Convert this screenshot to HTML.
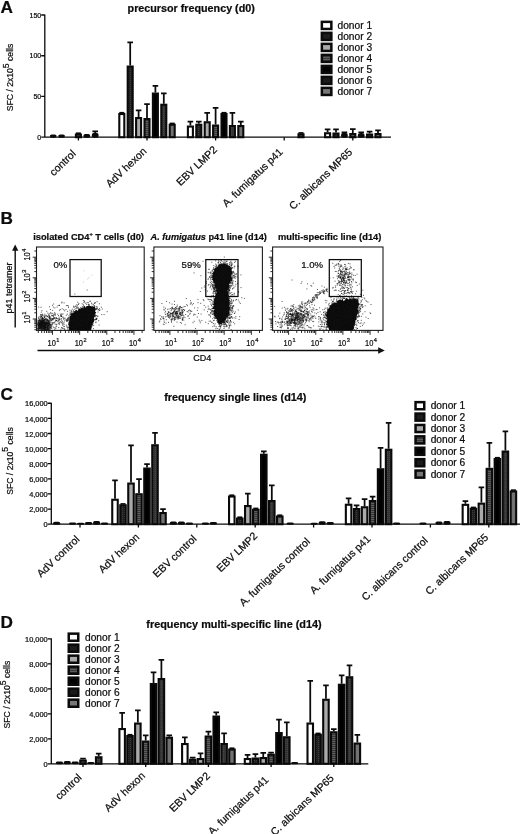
<!DOCTYPE html>
<html lang="en"><head><meta charset="utf-8"><title>Figure</title>
<style>html,body{margin:0;padding:0;background:#fff}svg{display:block}text{font-family:"Liberation Sans", Arial, Helvetica, sans-serif;fill:#0c0c0c;stroke:#0c0c0c;stroke-width:0.22px}.b{font-weight:bold}</style></head><body>
<svg width="520" height="834" viewBox="0 0 520 834">
<defs><pattern id="p2" width="2" height="2" patternUnits="userSpaceOnUse"><rect width="2" height="2" fill="#202020"/><rect width="1" height="1" fill="#3c3c3c"/></pattern><pattern id="p4" width="2" height="2" patternUnits="userSpaceOnUse"><rect width="2" height="2" fill="#5e5e5e"/><rect width="2" height="1" fill="#383838"/></pattern><pattern id="p6" width="2" height="2" patternUnits="userSpaceOnUse"><rect width="2" height="2" fill="#333"/><rect x="1" y="1" width="1" height="1" fill="#484848"/></pattern></defs>
<rect width="520" height="834" fill="#fff"/>
<g id="panelA">
<text class="b" x="0.6" y="12.6" font-size="17.2">A</text>
<text class="b" x="191.2" y="11.9" text-anchor="middle" font-size="10.75">precursor frequency (d0)</text>
<path d="M44.80 14.50V137.20H391.00M41.20 14.99H44.80M41.20 55.73H44.80M41.20 96.46H44.80M41.20 137.20H44.80" stroke="#0a0a0a" stroke-width="1.3" fill="none"/><text x="41.20" y="17.74" text-anchor="end" font-size="6.95">150</text><text x="41.20" y="58.48" text-anchor="end" font-size="6.95">100</text><text x="41.20" y="99.21" text-anchor="end" font-size="6.95">50</text><text x="41.20" y="139.95" text-anchor="end" font-size="6.95">0</text>
<path d="M78.40 137.20v3.2M147.00 137.20v3.2M215.60 137.20v3.2M284.20 137.20v3.2M352.80 137.20v3.2" stroke="#0a0a0a" stroke-width="1.3" fill="none"/>
<text transform="translate(13.20 111.30) rotate(-90)" font-size="8.65">SFC / 2x10<tspan dy="-4.6">5</tspan><tspan dy="4.6"> cells</tspan></text>
<rect x="49.85" y="134.50" width="6.70" height="3.20" rx="1.8" fill="#0a0a0a"/><rect x="58.25" y="134.50" width="6.70" height="3.20" rx="1.8" fill="#0a0a0a"/><path d="M75.90 133.20h5" stroke="#0a0a0a" stroke-width="1.6" fill="none"/><rect x="75.90" y="134.55" width="5.00" height="2.65" fill="url(#p4)" stroke="#0a0a0a" stroke-width="2.1"/><rect x="83.45" y="133.90" width="6.70" height="3.80" rx="1.8" fill="#0a0a0a"/><path d="M95.20 133.60V131.30M92.40 131.30h5.6" stroke="#0a0a0a" stroke-width="1.75" fill="none"/><rect x="91.85" y="132.90" width="6.70" height="4.80" rx="1.8" fill="#0a0a0a"/>
<path d="M119.30 112.70h5" stroke="#0a0a0a" stroke-width="1.6" fill="none"/><rect x="119.30" y="114.05" width="5.00" height="23.15" fill="#ffffff" stroke="#0a0a0a" stroke-width="2.1"/><path d="M130.20 65.50V42.30M127.40 42.30h5.6" stroke="#0a0a0a" stroke-width="1.75" fill="none"/><rect x="127.70" y="66.55" width="5.00" height="70.65" fill="url(#p2)" stroke="#0a0a0a" stroke-width="2.1"/><path d="M138.60 117.00V110.30M135.80 110.30h5.6" stroke="#0a0a0a" stroke-width="1.75" fill="none"/><rect x="136.10" y="118.05" width="5.00" height="19.15" fill="#aaaaaa" stroke="#0a0a0a" stroke-width="2.1"/><path d="M147.00 118.00V104.00M144.20 104.00h5.6" stroke="#0a0a0a" stroke-width="1.75" fill="none"/><rect x="144.50" y="119.05" width="5.00" height="18.15" fill="url(#p4)" stroke="#0a0a0a" stroke-width="2.1"/><path d="M155.40 92.50V85.80M152.60 85.80h5.6" stroke="#0a0a0a" stroke-width="1.75" fill="none"/><rect x="152.90" y="93.55" width="5.00" height="43.65" fill="#000000" stroke="#0a0a0a" stroke-width="2.1"/><path d="M163.80 103.70V93.30M161.00 93.30h5.6" stroke="#0a0a0a" stroke-width="1.75" fill="none"/><rect x="161.30" y="104.75" width="5.00" height="32.45" fill="url(#p6)" stroke="#0a0a0a" stroke-width="2.1"/><path d="M169.70 123.40h5" stroke="#0a0a0a" stroke-width="1.6" fill="none"/><rect x="169.70" y="124.75" width="5.00" height="12.45" fill="#727272" stroke="#0a0a0a" stroke-width="2.1"/>
<path d="M190.40 125.50V121.50M187.60 121.50h5.6" stroke="#0a0a0a" stroke-width="1.75" fill="none"/><rect x="187.90" y="126.55" width="5.00" height="10.65" fill="#ffffff" stroke="#0a0a0a" stroke-width="2.1"/><path d="M198.80 123.70V121.50M196.00 121.50h5.6" stroke="#0a0a0a" stroke-width="1.75" fill="none"/><rect x="196.30" y="124.75" width="5.00" height="12.45" fill="url(#p2)" stroke="#0a0a0a" stroke-width="2.1"/><path d="M207.20 121.20V112.80M204.40 112.80h5.6" stroke="#0a0a0a" stroke-width="1.75" fill="none"/><rect x="204.70" y="122.25" width="5.00" height="14.95" fill="#aaaaaa" stroke="#0a0a0a" stroke-width="2.1"/><path d="M215.60 124.50V107.80M212.80 107.80h5.6" stroke="#0a0a0a" stroke-width="1.75" fill="none"/><rect x="213.10" y="125.55" width="5.00" height="11.65" fill="url(#p4)" stroke="#0a0a0a" stroke-width="2.1"/><path d="M221.50 112.70h5" stroke="#0a0a0a" stroke-width="1.6" fill="none"/><rect x="221.50" y="114.05" width="5.00" height="23.15" fill="#000000" stroke="#0a0a0a" stroke-width="2.1"/><path d="M232.40 125.00V112.80M229.60 112.80h5.6" stroke="#0a0a0a" stroke-width="1.75" fill="none"/><rect x="229.90" y="126.05" width="5.00" height="11.15" fill="url(#p6)" stroke="#0a0a0a" stroke-width="2.1"/><path d="M240.80 125.00V121.50M238.00 121.50h5.6" stroke="#0a0a0a" stroke-width="1.75" fill="none"/><rect x="238.30" y="126.05" width="5.00" height="11.15" fill="#727272" stroke="#0a0a0a" stroke-width="2.1"/>
<path d="M298.50 132.90h5" stroke="#0a0a0a" stroke-width="1.6" fill="none"/><rect x="298.50" y="134.25" width="5.00" height="2.95" fill="url(#p6)" stroke="#0a0a0a" stroke-width="2.1"/>
<path d="M327.60 132.20V129.30M324.80 129.30h5.6" stroke="#0a0a0a" stroke-width="1.75" fill="none"/><rect x="325.10" y="133.25" width="5.00" height="3.95" fill="#ffffff" stroke="#0a0a0a" stroke-width="2.1"/><path d="M336.00 132.50V129.30M333.20 129.30h5.6" stroke="#0a0a0a" stroke-width="1.75" fill="none"/><rect x="333.50" y="133.55" width="5.00" height="3.65" fill="url(#p2)" stroke="#0a0a0a" stroke-width="2.1"/><path d="M344.40 133.60V132.30M341.60 132.30h5.6" stroke="#0a0a0a" stroke-width="1.75" fill="none"/><rect x="341.05" y="132.90" width="6.70" height="4.80" rx="1.8" fill="#0a0a0a"/><path d="M352.80 133.00V129.00M350.00 129.00h5.6" stroke="#0a0a0a" stroke-width="1.75" fill="none"/><rect x="350.30" y="134.05" width="5.00" height="3.15" fill="url(#p4)" stroke="#0a0a0a" stroke-width="2.1"/><path d="M361.20 134.00V132.30M358.40 132.30h5.6" stroke="#0a0a0a" stroke-width="1.75" fill="none"/><rect x="357.85" y="133.30" width="6.70" height="4.40" rx="1.8" fill="#0a0a0a"/><path d="M369.60 133.50V131.60M366.80 131.60h5.6" stroke="#0a0a0a" stroke-width="1.75" fill="none"/><rect x="367.10" y="134.55" width="5.00" height="2.65" fill="url(#p6)" stroke="#0a0a0a" stroke-width="2.1"/><path d="M378.00 133.00V130.30M375.20 130.30h5.6" stroke="#0a0a0a" stroke-width="1.75" fill="none"/><rect x="375.50" y="134.05" width="5.00" height="3.15" fill="#727272" stroke="#0a0a0a" stroke-width="2.1"/>
<rect x="321.85" y="21.85" width="9.50" height="7.10" fill="#ffffff" stroke="#0a0a0a" stroke-width="2.5"/><text x="337.50" y="28.90" font-size="10.2">donor 1</text><rect x="321.85" y="32.85" width="9.50" height="7.10" fill="#1c1c1c" stroke="#0a0a0a" stroke-width="2.5"/><text x="337.50" y="39.90" font-size="10.2">donor 2</text><rect x="321.85" y="43.85" width="9.50" height="7.10" fill="#aaaaaa" stroke="#0a0a0a" stroke-width="2.5"/><text x="337.50" y="50.90" font-size="10.2">donor 3</text><rect x="321.85" y="54.85" width="9.50" height="7.10" fill="url(#p4)" stroke="#0a0a0a" stroke-width="2.5"/><text x="337.50" y="61.90" font-size="10.2">donor 4</text><rect x="321.85" y="65.85" width="9.50" height="7.10" fill="#000000" stroke="#0a0a0a" stroke-width="2.5"/><text x="337.50" y="72.90" font-size="10.2">donor 5</text><rect x="321.85" y="76.85" width="9.50" height="7.10" fill="#1a1a1a" stroke="#0a0a0a" stroke-width="2.5"/><text x="337.50" y="83.90" font-size="10.2">donor 6</text><rect x="321.85" y="87.85" width="9.50" height="7.10" fill="#777777" stroke="#0a0a0a" stroke-width="2.5"/><text x="337.50" y="94.90" font-size="10.2">donor 7</text>
<text transform="translate(76.50 154.50) rotate(-43.8)" text-anchor="end" font-size="10.55">control</text>
<text transform="translate(147.25 152.05) rotate(-43.8)" text-anchor="end" font-size="10.55">AdV hexon</text>
<text transform="translate(217.80 150.45) rotate(-43.8)" text-anchor="end" font-size="10.55">EBV LMP2</text>
<text transform="translate(283.55 152.80) rotate(-43.8)" text-anchor="end" font-size="10.55">A. fumigatus p41</text>
<text transform="translate(352.95 152.95) rotate(-43.8)" text-anchor="end" font-size="10.55">C. albicans MP65</text>
</g>
<g id="panelB">
<text class="b" x="0.6" y="224.2" font-size="17.2">B</text>
<text class="b" x="33.2" y="239.9" font-size="9.3">isolated CD4<tspan dy="-3.8" font-size="5.6">+</tspan><tspan dy="3.8"> T cells (d0)</tspan></text>
<text class="b" x="150.6" y="239.9" font-size="9.3" textLength="116.3" lengthAdjust="spacingAndGlyphs"><tspan font-style="italic">A. fumigatus</tspan> p41 line (d14)</text>
<text class="b" x="278" y="239.9" font-size="9.3">multi-specific line (d14)</text>
<path d="M15.2 327.5V249" stroke="#0c0c0c" stroke-width="1.4" fill="none"/>
<path d="M15.2 244.4L12.1 250.8H18.3Z" fill="#111"/>
<path d="M37.5 350.5H379" stroke="#0c0c0c" stroke-width="1.5" fill="none"/>
<path d="M384.8 350.5L378.2 347.2V353.8Z" fill="#111"/>
<text transform="translate(11.8 313.6) rotate(-90)" font-size="9">p41 tetramer</text>
<text x="202.3" y="361.2" text-anchor="middle" font-size="9">CD4</text>
<rect x="36.5" y="247.0" width="107.69999999999999" height="83.39999999999998" fill="none" stroke="#1c1c1c" stroke-width="1.1"/><path d="M38.30 330.4v2.6M41.70 330.4v2.6M44.33 330.4v2.6M46.48 330.4v2.6M48.29 330.4v2.6M49.87 330.4v2.6M51.26 330.4v2.6M52.50 330.4v4.4M60.67 330.4v2.6M65.45 330.4v2.6M68.85 330.4v2.6M71.48 330.4v2.6M73.63 330.4v2.6M75.44 330.4v2.6M77.02 330.4v2.6M78.41 330.4v2.6M79.65 330.4v4.4M87.82 330.4v2.6M92.60 330.4v2.6M96.00 330.4v2.6M98.63 330.4v2.6M100.78 330.4v2.6M102.59 330.4v2.6M104.17 330.4v2.6M105.56 330.4v2.6M106.80 330.4v4.4M114.97 330.4v2.6M119.75 330.4v2.6M123.15 330.4v2.6M125.78 330.4v2.6M127.93 330.4v2.6M129.74 330.4v2.6M131.32 330.4v2.6M132.71 330.4v2.6M133.95 330.4v4.4M142.12 330.4v2.6M36.5 329.77h-2.2M36.5 327.20h-2.2M36.5 325.20h-2.2M36.5 323.57h-2.2M36.5 322.19h-2.2M36.5 321.00h-2.2M36.5 319.94h-2.2M36.5 319.00h-3.8M36.5 312.80h-2.2M36.5 309.17h-2.2M36.5 306.60h-2.2M36.5 304.60h-2.2M36.5 302.97h-2.2M36.5 301.59h-2.2M36.5 300.40h-2.2M36.5 299.34h-2.2M36.5 298.40h-3.8M36.5 292.20h-2.2M36.5 288.57h-2.2M36.5 286.00h-2.2M36.5 284.00h-2.2M36.5 282.37h-2.2M36.5 280.99h-2.2M36.5 279.80h-2.2M36.5 278.74h-2.2M36.5 277.80h-3.8M36.5 271.60h-2.2M36.5 267.97h-2.2M36.5 265.40h-2.2M36.5 263.40h-2.2M36.5 261.77h-2.2M36.5 260.39h-2.2M36.5 259.20h-2.2M36.5 258.14h-2.2M36.5 257.20h-3.8M36.5 251.00h-2.2" stroke="#141414" stroke-width="0.9" fill="none"/><text x="47.50" y="346.00" font-size="8.8" textLength="8.3" lengthAdjust="spacingAndGlyphs">10</text><text x="56.30" y="342.40" font-size="5.6">1</text><text x="74.65" y="346.00" font-size="8.8" textLength="8.3" lengthAdjust="spacingAndGlyphs">10</text><text x="83.45" y="342.40" font-size="5.6">2</text><text x="101.80" y="346.00" font-size="8.8" textLength="8.3" lengthAdjust="spacingAndGlyphs">10</text><text x="110.60" y="342.40" font-size="5.6">3</text><text x="128.95" y="346.00" font-size="8.8" textLength="8.3" lengthAdjust="spacingAndGlyphs">10</text><text x="137.75" y="342.40" font-size="5.6">4</text><g transform="translate(29.60 323.50) rotate(-90)"><text font-size="8.8" textLength="8.3" lengthAdjust="spacingAndGlyphs">10</text><text x="8.8" y="-3.6" font-size="5.6">1</text></g><g transform="translate(29.60 302.50) rotate(-90)"><text font-size="8.8" textLength="8.3" lengthAdjust="spacingAndGlyphs">10</text><text x="8.8" y="-3.6" font-size="5.6">2</text></g><g transform="translate(29.60 281.60) rotate(-90)"><text font-size="8.8" textLength="8.3" lengthAdjust="spacingAndGlyphs">10</text><text x="8.8" y="-3.6" font-size="5.6">3</text></g><g transform="translate(29.60 260.60) rotate(-90)"><text font-size="8.8" textLength="8.3" lengthAdjust="spacingAndGlyphs">10</text><text x="8.8" y="-3.6" font-size="5.6">4</text></g>
<path d="M69.2 330.2L69.1 329.4L68.6 328.1L68.9 326.1L69.4 326.4L68.4 325.0L69.0 323.9L68.5 322.2L69.2 322.1L69.3 320.2L70.3 320.1L69.5 320.1L69.9 317.2L70.0 315.7L71.3 315.9L70.9 315.9L71.0 314.8L71.3 313.3L72.4 313.6L74.6 311.8L75.0 311.3L75.8 310.5L75.6 309.3L77.7 311.0L78.6 308.9L80.5 308.7L80.5 308.5L81.4 307.9L81.7 308.1L83.5 308.2L84.3 306.3L85.5 308.0L86.4 306.3L87.1 306.1L88.7 305.9L90.8 306.3L91.1 307.1L93.0 306.1L93.4 307.1L94.1 306.3L95.6 308.3L95.5 308.3L95.2 309.6L95.2 311.7L96.2 312.4L95.5 313.4L95.0 314.0L94.4 315.0L95.8 316.5L94.2 316.7L93.7 318.2L94.1 318.3L93.9 319.9L94.1 321.3L93.9 322.1L92.5 323.6L93.0 324.8L91.4 325.7L91.9 326.5L91.2 328.9L91.1 328.6L91.0 330.2L90.0 330.2L88.9 330.2L87.9 330.2L86.8 330.2L85.8 330.2L84.8 330.2L83.7 330.2L82.7 330.2L81.7 330.2L80.6 330.2L79.6 330.2L78.5 330.2L77.5 330.2L76.5 330.2L75.4 330.2L74.4 330.2L73.4 330.2L72.3 330.2L71.3 330.2L70.2 330.2Z" fill="#0a0a0a"/>
<path d="M37.2 330.2L37.2 321L40 319.4L44.5 320L48 322.4L49.6 326.4L49.6 330.2Z" fill="#0a0a0a" fill-opacity="0.55"/>
<path d="M85.1 316.1h1M89.3 306.6h1M77.4 325.3h1M85.8 317.6h1M74.9 321.1h1M76.6 323.1h1M76.6 322.7h1M83.3 319.8h1M81.4 321.1h1M88.3 313.5h1M75.8 313.9h1M81.1 321.2h1M88.3 324.6h1M85.7 323.2h1M73.3 321.0h1M86.4 320.8h1M78.8 317.7h1M84.5 320.2h1M84.0 314.9h1M90.0 316.8h1M82.8 329.7h1M69.8 327.7h1M86.8 313.0h1M80.3 315.8h1M89.5 316.1h1M83.8 321.4h1M77.1 319.7h1M89.1 322.0h1M76.7 317.9h1M95.6 319.4h1M69.4 317.4h1M86.2 320.7h1M88.2 315.5h1M83.0 324.2h1M70.9 320.1h1M88.7 318.3h1M72.5 325.5h1M73.1 307.1h1M79.6 309.5h1M87.2 317.8h1M84.0 317.6h1M87.4 322.6h1M79.1 321.3h1M80.9 312.4h1M74.5 323.5h1M79.9 315.6h1M85.9 316.3h1M80.0 316.9h1M85.1 319.8h1M78.2 312.6h1M78.1 314.3h1M82.3 306.7h1M85.9 312.1h1M83.2 313.8h1M93.5 308.5h1M80.6 316.0h1M80.5 317.1h1M75.1 324.9h1M82.2 319.9h1M86.5 319.2h1M77.1 317.5h1M81.7 318.7h1M86.7 324.0h1M81.2 319.2h1M78.6 321.9h1M88.4 305.5h1M82.6 321.6h1M84.6 319.5h1M89.7 323.3h1M89.6 301.1h1M79.7 320.0h1M78.5 319.6h1M83.9 318.7h1M81.1 315.8h1M69.5 324.6h1M90.4 319.7h1M82.1 319.1h1M86.9 315.5h1M74.3 320.6h1M90.5 313.7h1M78.1 320.5h1M81.3 315.2h1M72.8 311.3h1M80.9 326.7h1M80.5 309.8h1M80.8 318.7h1M84.9 310.6h1M82.4 317.1h1M88.4 311.2h1M78.9 319.7h1M75.4 316.6h1M81.9 311.8h1M86.1 319.0h1M90.2 323.2h1M87.4 318.8h1M70.3 323.7h1M84.5 312.1h1M91.6 314.8h1M82.4 321.1h1M78.6 316.5h1M84.0 323.0h1M78.7 319.8h1M86.2 319.2h1M81.9 316.1h1M91.2 312.7h1M85.3 318.8h1M77.2 322.6h1M86.0 319.2h1M88.2 310.9h1M78.2 316.1h1M79.2 319.7h1M66.8 314.1h1M88.0 322.3h1M78.1 321.9h1M68.0 324.1h1M70.3 319.1h1M80.5 323.8h1M87.0 315.4h1M81.4 329.4h1M85.1 319.8h1M74.7 313.2h1M73.1 325.9h1M87.8 313.7h1M85.2 314.7h1M81.8 317.5h1M90.5 314.9h1M75.7 322.4h1M79.2 323.9h1M88.8 318.7h1M94.1 310.3h1M82.1 311.3h1M93.1 310.2h1M78.0 322.1h1M84.2 322.7h1M80.9 329.0h1M71.5 315.1h1M83.7 318.5h1M88.2 315.2h1M81.0 316.8h1M81.5 319.6h1M91.2 314.0h1M73.8 320.2h1M72.1 318.7h1M77.7 322.4h1M74.1 327.4h1M90.9 324.4h1M84.0 315.0h1M76.3 315.0h1M77.9 318.7h1M100.9 307.2h1M78.0 325.8h1M77.0 316.0h1M84.0 318.4h1M86.2 309.8h1M83.5 316.2h1M76.0 321.9h1M85.9 313.4h1M81.6 320.8h1M71.2 311.2h1M89.7 309.2h1M87.1 312.3h1M80.4 316.5h1M80.3 321.7h1M83.5 321.6h1M77.5 311.5h1M73.1 324.8h1M84.1 311.8h1M84.6 319.4h1M72.5 323.0h1M81.3 317.9h1M81.1 318.8h1M93.8 314.4h1M75.0 317.4h1M72.7 326.2h1M77.7 321.7h1M74.6 325.5h1M78.1 319.7h1M84.8 321.4h1M87.1 312.6h1M77.1 316.5h1M99.4 309.9h1M95.1 319.2h1M80.7 325.9h1M66.9 319.8h1M81.5 309.7h1M82.5 310.8h1M66.8 318.7h1M82.5 314.2h1M80.7 318.2h1M76.8 326.2h1M86.1 323.1h1M88.6 312.9h1M78.8 322.8h1M83.5 322.9h1M77.7 327.9h1M76.8 319.7h1M82.5 314.4h1M85.5 321.5h1M78.3 328.3h1M67.4 321.1h1M85.9 327.9h1M82.8 316.9h1M93.7 305.7h1M81.9 315.4h1M74.1 319.6h1M72.4 325.1h1M89.7 306.6h1M88.1 312.4h1M81.7 308.5h1M80.0 318.4h1M75.7 323.2h1M72.0 326.2h1M81.5 317.7h1M80.8 308.2h1M84.7 320.5h1M81.2 323.6h1M83.1 316.5h1M87.2 318.2h1M76.2 321.9h1M80.1 318.0h1M71.4 316.1h1M88.4 318.2h1M82.3 310.7h1M85.2 325.1h1M92.2 310.0h1M89.1 318.7h1M81.6 314.7h1M87.2 318.8h1M72.6 320.9h1M84.9 320.5h1M82.9 313.9h1M71.3 313.5h1M90.8 313.8h1M77.4 318.4h1M86.5 308.7h1M79.2 315.8h1M88.6 307.0h1M90.7 316.1h1M76.5 318.5h1M71.9 322.3h1M87.6 317.4h1M79.5 321.5h1M78.0 323.5h1M85.2 316.7h1M63.8 322.0h1M77.6 325.0h1M72.9 327.6h1M83.9 301.8h1M77.1 319.5h1M74.6 319.4h1M79.7 316.3h1M72.3 328.9h1M81.9 315.7h1M77.5 325.0h1M79.5 316.5h1M77.3 318.1h1M88.0 320.4h1M81.3 314.8h1M85.5 316.4h1M85.2 311.4h1M76.7 315.6h1M85.8 321.2h1M84.3 320.9h1M84.1 311.5h1M79.4 313.0h1M87.2 313.1h1M96.4 308.5h1M76.5 323.4h1M85.5 313.0h1M79.6 317.4h1M87.2 321.6h1M84.9 323.0h1M89.0 314.9h1M78.0 319.2h1M75.5 319.6h1M81.3 318.8h1M77.2 318.6h1M77.8 323.0h1M86.5 318.5h1M94.6 309.7h1M63.4 326.3h1M80.0 316.3h1M84.1 314.6h1M82.0 317.8h1M79.7 325.0h1M73.1 323.3h1M75.8 327.8h1M86.8 325.4h1M89.1 315.8h1M82.6 315.0h1M76.5 316.2h1M82.6 319.9h1M80.4 323.9h1M85.6 326.0h1M82.8 311.1h1M77.9 325.1h1M83.3 324.0h1M87.4 317.6h1M89.8 315.6h1M74.2 313.1h1M84.8 313.3h1M75.5 314.9h1M89.1 310.5h1M88.0 311.5h1M80.5 310.7h1M88.6 315.7h1M79.2 321.8h1M77.8 324.3h1M78.2 319.4h1M81.1 324.8h1M79.9 325.3h1M83.0 309.9h1M77.9 318.6h1M87.0 309.9h1M88.7 310.8h1M78.7 320.8h1M72.6 321.4h1M86.8 324.9h1M89.5 327.2h1M80.9 321.3h1M73.5 320.7h1M83.8 317.2h1M92.1 314.9h1M69.6 326.3h1M85.2 313.5h1M79.9 322.6h1M76.4 319.4h1M85.3 323.3h1M73.4 329.3h1M84.0 327.5h1M90.7 314.7h1M83.2 310.8h1M76.2 311.5h1M70.3 321.3h1M73.5 314.0h1M69.8 314.1h1M92.6 312.9h1M80.4 313.9h1M75.1 325.0h1M75.0 320.0h1M79.8 321.2h1M73.5 313.1h1M93.1 315.7h1M77.1 316.7h1M76.8 314.6h1M84.0 307.8h1M91.6 324.0h1M90.7 306.7h1M78.8 313.3h1M83.7 318.2h1M83.0 320.0h1M85.5 319.1h1M83.7 318.7h1M75.8 316.1h1M73.7 326.0h1M83.2 319.4h1M74.2 313.6h1M91.0 324.3h1M82.3 316.8h1M75.2 326.4h1M79.9 311.5h1M78.7 313.5h1M81.1 315.9h1M88.2 312.7h1M72.5 327.8h1M69.7 314.3h1M84.2 318.9h1M80.8 313.6h1M83.1 321.2h1M84.9 318.9h1M80.8 316.2h1M87.3 329.1h1M76.1 320.7h1M82.4 324.7h1M76.5 313.5h1M74.5 320.8h1M86.1 317.8h1M85.8 318.2h1M69.2 321.6h1M74.6 317.0h1M83.9 301.1h1M89.1 313.1h1M77.6 315.4h1M80.8 317.9h1M72.7 326.9h1M98.6 325.0h1M85.1 320.6h1M87.9 322.3h1M86.3 320.7h1M88.2 320.6h1M86.0 320.6h1M79.8 318.2h1M86.9 315.3h1M82.5 320.5h1M90.6 325.7h1M77.1 325.0h1M78.4 329.1h1M86.4 310.2h1M90.4 317.3h1M83.0 320.8h1M77.3 323.5h1M81.2 311.7h1M78.7 310.0h1M94.5 302.7h1M87.9 314.6h1M90.3 328.8h1M84.0 319.4h1M78.3 313.6h1M89.7 318.0h1M92.9 313.3h1M85.8 318.5h1M81.8 316.5h1M89.1 309.2h1M79.6 316.9h1M87.0 321.1h1M77.3 322.4h1M75.6 328.0h1M85.7 311.7h1M84.2 324.0h1M94.6 314.8h1M80.2 320.8h1M82.2 325.8h1M74.5 321.1h1M69.7 324.9h1M70.2 326.9h1M85.1 321.5h1M74.2 326.4h1M89.4 323.5h1M91.4 318.6h1M80.1 317.4h1M92.9 328.6h1M83.5 318.4h1M89.4 318.5h1M80.5 315.6h1M88.3 304.9h1M75.8 317.2h1M86.1 318.0h1M79.0 323.2h1M81.1 319.7h1M86.2 322.0h1M83.1 324.2h1M81.5 324.8h1M86.8 317.5h1M87.3 317.7h1M72.9 321.4h1M85.7 313.1h1M86.4 325.4h1M77.0 314.2h1M84.5 317.9h1M73.3 323.6h1M91.5 304.0h1M80.4 323.9h1M81.5 317.5h1M89.9 317.6h1M81.1 317.7h1M86.0 309.3h1M75.1 322.8h1M78.2 321.2h1M72.8 328.1h1M80.6 322.3h1M88.8 307.5h1M83.5 324.7h1M87.8 321.5h1M75.2 325.9h1M76.2 324.0h1M78.9 316.5h1M85.8 320.8h1M84.4 316.4h1M86.1 316.4h1M81.0 313.5h1M81.9 317.4h1M90.6 324.0h1M78.1 317.5h1M83.2 305.4h1M92.6 323.4h1M82.7 320.8h1M86.7 314.8h1M78.0 324.6h1M94.9 309.5h1M67.2 318.2h1M74.5 327.2h1M75.0 318.9h1M92.7 318.3h1M84.3 318.5h1M80.3 324.5h1M73.5 322.9h1M84.4 307.1h1M82.8 322.7h1M77.4 318.3h1M72.2 327.7h1M74.7 322.5h1M83.4 326.6h1M84.1 316.8h1M82.5 307.7h1M81.0 317.8h1M70.3 326.3h1M82.3 317.2h1M75.2 319.1h1M82.3 327.2h1M85.1 317.3h1M77.5 326.6h1M75.2 322.5h1M88.6 308.9h1M84.3 313.2h1M77.8 319.0h1M62.2 328.1h1M81.7 314.9h1M86.2 309.9h1M89.4 310.9h1M77.5 318.0h1M77.8 315.9h1M79.1 317.1h1M87.5 327.4h1M74.2 323.6h1M81.3 315.0h1M75.9 321.4h1M83.8 327.2h1M71.7 326.5h1M84.5 317.7h1M78.7 312.9h1M80.5 310.4h1M85.5 316.1h1M89.5 315.9h1M70.8 314.3h1M88.6 309.4h1M85.7 317.6h1M80.1 307.7h1M91.3 306.3h1M83.2 318.5h1M90.5 319.2h1M78.1 322.4h1M76.3 326.8h1M90.1 324.9h1M96.3 318.9h1M86.2 316.2h1M87.9 328.8h1M78.9 329.6h1M73.3 327.6h1M80.5 315.3h1M91.9 317.8h1M69.7 312.2h1M78.7 318.6h1M69.4 310.1h1M82.7 316.7h1M87.8 322.8h1M73.8 322.3h1M79.3 329.1h1M90.7 316.1h1M81.4 320.0h1M73.8 320.6h1M73.3 325.4h1M68.7 323.9h1M87.1 324.0h1M88.9 318.8h1M87.7 311.0h1M77.6 324.0h1M78.5 328.0h1M87.1 321.0h1M83.0 320.6h1M83.8 323.8h1M87.9 302.8h1M76.2 329.8h1M67.0 329.0h1M77.9 323.4h1M84.8 315.2h1M95.8 315.5h1M79.5 323.6h1M73.2 314.3h1M96.0 318.3h1M83.1 319.3h1M80.3 328.0h1M74.9 325.6h1M75.4 320.8h1M91.8 316.1h1M80.2 323.5h1M78.5 321.4h1M78.6 323.6h1M92.3 311.6h1M78.1 313.9h1M86.1 314.7h1M83.8 310.8h1M83.6 314.5h1M76.2 323.4h1M86.3 308.8h1M92.6 308.7h1M81.7 323.5h1M75.9 318.6h1M73.5 322.4h1M83.3 312.1h1M80.2 314.2h1M81.3 317.9h1M82.1 328.3h1M72.3 325.3h1M87.2 308.2h1M83.5 321.2h1M81.5 324.6h1M83.5 322.6h1M88.1 310.4h1M82.4 318.8h1M89.7 311.4h1M79.1 322.2h1M77.2 316.9h1M71.7 316.1h1M82.1 316.9h1M75.1 327.5h1M78.6 327.0h1M85.0 313.4h1M82.2 316.7h1M88.7 312.0h1M84.0 307.2h1M79.3 323.6h1M79.8 328.7h1M78.7 328.8h1M86.3 315.2h1M82.1 326.6h1M79.3 326.3h1M87.6 315.5h1M82.6 319.1h1M78.9 318.4h1M72.0 324.3h1M84.9 328.3h1M83.6 313.7h1M82.3 312.7h1M79.1 325.2h1M76.5 321.7h1M80.5 309.5h1M83.5 313.3h1M81.2 315.1h1M81.0 316.4h1M78.9 322.3h1M84.2 324.1h1M83.5 318.0h1M77.0 322.0h1M87.0 313.5h1M87.2 323.1h1M87.4 324.8h1M81.1 318.3h1M80.7 315.8h1M87.0 322.7h1M67.9 319.6h1M79.4 311.1h1M79.8 318.6h1M87.7 324.0h1M82.0 316.4h1M75.6 320.4h1M72.6 320.2h1M77.2 324.8h1M82.7 326.9h1M82.4 312.4h1M80.7 318.3h1M77.5 320.0h1M80.6 316.5h1M88.6 310.5h1M74.7 326.6h1M82.2 320.2h1M92.7 319.5h1M85.7 326.5h1M79.0 318.5h1M86.4 320.9h1M77.0 319.1h1M82.0 319.0h1M92.3 317.6h1M94.5 314.0h1M70.7 315.3h1M86.6 326.1h1M94.9 315.6h1M78.4 314.5h1M83.7 306.7h1M91.9 315.7h1M78.7 324.3h1M85.0 324.0h1M81.6 325.8h1M69.3 322.0h1M84.3 322.2h1M80.8 311.4h1M88.1 318.1h1M95.8 319.5h1M86.5 314.5h1M79.6 319.5h1M85.0 319.0h1M83.3 319.8h1M88.8 325.2h1M72.5 317.0h1M74.3 329.7h1M68.5 317.5h1M86.0 314.4h1M81.9 315.3h1M77.8 320.5h1M77.2 318.5h1M78.2 323.5h1M75.9 321.8h1M78.7 322.8h1M91.2 314.8h1M84.1 320.8h1M76.6 324.7h1M78.1 319.8h1M89.9 310.5h1M85.0 314.0h1M83.9 319.8h1M86.8 322.4h1M92.5 318.3h1M74.0 321.9h1M77.1 324.4h1M70.5 321.0h1M85.3 319.7h1M79.5 328.2h1M77.6 327.3h1M77.0 328.8h1M86.6 315.8h1M81.1 321.0h1M78.5 315.2h1M90.3 321.5h1M75.1 319.7h1M73.7 315.3h1M99.1 310.5h1M79.6 321.8h1M78.4 308.6h1M77.2 313.4h1M81.1 325.2h1M87.2 318.1h1M87.0 317.4h1M85.6 309.3h1M80.2 328.9h1M72.2 328.7h1M83.9 322.7h1M92.0 309.7h1M89.1 320.1h1M80.9 326.2h1M87.3 315.7h1M79.5 319.0h1M81.6 317.0h1M73.9 325.7h1M79.9 318.9h1M82.9 317.4h1M80.9 311.9h1M87.1 308.5h1M94.4 320.1h1M90.7 324.9h1M80.0 324.9h1M77.2 329.0h1M77.7 318.0h1M75.5 321.5h1M82.2 321.4h1M84.8 317.5h1M83.2 328.2h1M83.3 311.7h1M83.0 315.9h1M81.1 317.8h1M77.1 317.3h1M93.4 319.9h1M88.9 305.9h1M76.0 327.9h1M76.0 326.6h1M78.1 322.6h1M82.2 327.0h1M90.3 329.3h1M88.7 318.0h1M89.0 320.9h1M89.2 319.0h1M89.3 319.7h1M86.9 314.9h1M85.0 314.4h1M81.2 323.1h1M70.5 320.8h1M81.1 324.9h1M93.9 319.6h1M78.4 318.4h1M77.9 323.0h1M88.7 317.5h1M82.5 318.6h1M78.8 326.9h1M92.3 316.0h1M86.1 319.3h1M87.0 307.1h1M78.3 324.2h1M85.3 310.4h1M84.5 316.5h1M87.1 326.5h1M89.6 326.6h1M89.4 314.7h1M83.1 312.2h1M86.6 320.1h1M74.4 320.1h1M86.2 319.9h1M86.5 310.5h1M79.4 326.6h1M81.6 311.8h1M74.0 318.2h1M84.2 314.9h1M83.9 322.9h1M75.7 311.0h1M82.3 320.6h1M89.0 315.8h1M89.0 312.7h1M88.7 321.0h1M81.0 309.2h1M79.8 312.9h1M79.4 316.2h1M85.9 322.1h1M97.5 312.0h1M91.3 311.7h1M92.5 318.4h1M90.9 313.7h1M71.4 319.9h1M80.7 318.4h1M79.1 322.5h1M93.1 309.6h1M77.6 322.7h1M82.3 318.7h1M85.7 316.9h1M78.8 329.2h1M77.9 325.4h1M77.5 325.0h1M87.8 315.1h1M76.0 317.2h1M89.5 318.6h1M82.6 317.9h1M87.0 314.7h1M92.2 319.7h1M77.6 314.7h1M76.6 317.7h1M84.8 323.0h1M75.2 321.7h1M77.2 325.1h1M81.3 315.3h1M83.0 323.2h1M73.8 318.8h1M79.5 328.1h1M85.8 322.7h1M90.9 319.1h1M90.6 318.5h1M87.8 314.2h1M72.3 325.2h1M84.7 325.5h1M79.2 321.6h1M82.9 325.8h1M87.7 313.0h1M79.6 313.7h1M83.1 311.7h1M85.1 322.8h1M87.8 306.9h1M93.6 305.8h1M93.2 308.0h1M83.6 320.5h1M80.4 322.8h1M97.6 309.7h1M86.2 322.6h1M84.8 320.6h1M74.8 329.1h1M87.1 323.2h1M76.9 317.9h1M79.0 322.0h1M73.2 322.1h1M78.6 323.6h1M82.4 320.8h1M72.1 323.6h1M76.1 325.9h1M81.5 320.4h1M73.7 326.9h1M73.8 323.1h1M76.5 321.0h1M72.8 328.3h1M86.0 323.7h1M75.5 329.1h1M87.1 321.5h1M88.1 316.5h1M74.1 323.8h1M82.3 320.7h1M78.9 311.4h1M74.5 316.5h1M79.8 329.1h1M80.4 320.2h1M86.7 302.6h1M88.7 316.8h1M74.8 323.4h1M79.3 314.1h1M89.7 323.3h1M90.4 315.8h1M80.9 322.9h1M92.1 320.8h1M79.2 323.5h1M76.5 318.2h1M82.3 320.8h1M89.7 317.8h1M82.2 321.4h1M66.5 319.8h1M86.5 319.7h1M71.4 323.7h1M75.6 323.5h1M74.3 323.7h1M69.9 316.3h1M73.7 327.5h1M75.5 326.3h1M78.0 313.9h1M81.6 319.4h1M79.8 315.9h1M72.2 320.9h1M80.8 325.7h1M88.4 320.3h1M88.3 328.3h1M82.9 319.9h1M86.1 312.1h1M87.9 318.2h1M91.0 303.1h1M93.2 325.4h1M79.9 321.9h1M80.2 322.8h1M91.7 316.9h1M92.3 311.2h1M92.2 315.3h1M66.5 320.9h1M80.6 317.3h1M60.5 329.2h1M86.8 311.2h1M82.4 328.4h1M82.3 313.5h1M81.1 324.4h1M90.6 312.8h1M80.1 313.3h1M88.8 319.0h1M85.7 319.0h1M84.4 317.3h1M85.1 317.9h1M82.7 315.6h1M74.8 324.3h1M86.7 314.9h1M86.7 317.7h1M81.1 325.7h1M86.8 310.2h1M87.9 313.9h1M73.5 318.6h1M81.1 315.2h1M79.1 312.9h1M76.0 319.8h1M84.1 319.2h1M76.4 320.5h1M79.1 311.4h1M83.6 322.2h1M84.3 322.1h1M84.1 318.7h1M96.7 308.3h1M78.7 315.6h1M83.7 329.1h1M85.2 320.5h1M89.6 311.3h1M90.0 323.0h1M77.8 321.5h1M80.2 328.9h1M90.3 312.9h1M81.4 321.8h1M88.3 315.6h1M75.6 325.5h1M91.1 312.2h1M88.8 321.6h1M85.1 315.8h1M76.7 316.1h1M80.9 322.5h1M83.0 319.9h1M83.7 306.8h1M81.3 319.0h1M80.6 320.1h1M83.3 319.6h1M91.2 326.9h1M68.7 320.3h1M72.9 322.2h1M71.8 313.4h1M77.5 312.7h1M70.5 320.1h1M85.7 317.0h1M82.6 317.7h1M80.3 323.1h1M77.5 324.6h1M83.0 324.1h1M83.2 317.7h1M84.2 320.9h1M77.2 316.8h1M86.3 319.4h1M72.3 325.2h1M90.2 313.3h1M61.7 308.8h1M78.1 316.8h1M87.2 316.6h1M72.2 319.1h1M94.0 315.2h1M71.8 328.8h1M95.4 316.0h1M85.0 316.8h1M82.2 311.9h1M84.9 316.3h1M96.5 307.2h1M87.9 318.8h1M89.9 321.9h1M83.5 315.2h1M71.3 317.5h1M87.0 309.5h1M74.0 324.3h1M83.2 321.7h1M83.5 322.7h1M77.7 322.4h1M86.3 310.8h1M75.3 310.9h1M83.3 324.6h1M78.4 315.7h1M94.7 302.7h1M82.7 312.6h1M74.8 316.4h1M81.2 320.7h1M76.9 324.4h1M82.2 315.8h1M83.1 321.8h1M82.6 311.6h1M82.6 316.0h1M78.4 313.6h1M85.0 314.8h1M89.0 312.8h1M77.9 322.1h1M82.4 311.2h1M90.3 314.8h1M89.1 320.1h1M77.2 321.0h1M82.5 326.5h1M72.1 316.8h1M75.6 325.5h1M82.1 314.5h1M86.2 321.9h1M88.3 317.5h1M79.9 321.0h1M73.1 318.9h1M84.6 307.8h1M80.9 313.2h1M84.8 321.8h1M83.1 317.1h1M86.7 321.2h1M86.3 310.0h1M87.6 320.4h1M79.0 325.5h1M88.6 304.4h1M78.7 321.9h1M82.6 329.3h1M94.3 310.3h1M84.4 323.5h1M74.3 321.9h1M91.8 320.0h1M88.6 314.4h1M89.5 311.9h1M83.3 316.1h1M84.3 316.1h1M80.5 316.2h1M77.4 315.8h1M92.1 321.3h1M79.6 316.6h1M78.8 313.4h1M79.1 314.8h1M94.3 317.1h1M87.8 304.6h1M79.6 322.5h1M81.7 323.0h1M85.4 324.7h1M87.8 314.4h1M71.4 318.3h1M88.0 317.7h1M80.6 320.2h1M77.5 327.8h1M79.4 320.2h1M87.2 314.7h1M93.6 307.4h1M83.0 317.4h1M85.7 318.0h1M76.6 327.4h1M85.2 318.4h1M87.4 324.4h1M72.2 329.4h1M78.6 316.0h1M87.2 310.8h1M70.4 319.7h1M79.5 318.6h1M86.0 313.1h1M70.8 326.9h1M79.4 323.6h1M82.4 325.5h1M87.9 318.4h1M73.6 319.7h1M89.3 318.6h1M84.0 313.3h1M89.9 316.9h1M89.7 312.0h1M84.2 324.5h1M85.2 303.2h1M70.5 327.8h1M73.1 327.1h1M75.4 321.2h1M79.7 321.7h1M88.2 317.9h1M79.9 328.9h1M73.3 322.2h1M91.7 311.9h1M82.7 321.0h1M92.8 317.5h1M89.8 309.2h1M75.9 323.0h1M69.8 319.8h1M95.7 318.4h1M79.3 315.1h1M74.4 312.0h1M86.6 310.2h1M82.9 318.8h1M77.6 322.3h1M79.7 321.7h1M83.1 314.4h1M82.5 323.2h1M87.0 314.2h1M79.7 318.6h1M79.7 325.2h1M86.0 316.7h1M84.1 307.9h1M89.2 320.3h1M80.4 319.6h1M81.4 317.1h1M74.4 328.9h1M91.9 311.9h1M72.8 325.9h1M83.3 319.3h1M84.2 308.3h1M86.9 318.3h1M71.2 324.8h1M80.6 325.5h1M70.4 320.9h1M91.3 312.1h1M79.1 327.7h1M71.6 320.4h1M77.4 322.2h1M90.7 315.6h1M91.8 317.5h1M90.4 308.5h1M76.8 317.9h1M81.0 319.0h1M92.8 315.7h1M77.2 326.8h1M79.8 322.6h1M75.7 324.4h1M74.3 321.5h1M90.0 323.0h1M86.2 314.1h1M85.0 317.4h1M85.8 309.4h1M88.7 310.8h1M92.0 320.0h1M82.0 318.7h1M79.8 309.6h1M75.2 321.2h1M89.1 315.1h1M78.6 314.0h1M72.1 324.4h1M80.2 318.1h1M82.2 319.0h1M87.5 322.1h1M88.6 313.2h1M77.2 326.6h1M76.7 319.4h1M79.8 318.3h1M74.0 328.9h1M81.3 321.3h1M85.0 315.6h1M82.3 318.2h1M71.4 324.0h1M74.1 313.8h1M90.5 319.5h1M75.3 321.4h1M86.9 310.1h1M86.2 312.3h1M79.9 324.5h1M75.4 314.4h1M76.2 315.2h1M80.8 320.5h1M82.7 304.7h1M77.3 320.3h1M80.5 316.6h1M80.0 322.3h1M73.8 322.9h1M80.7 317.5h1M70.0 327.5h1M79.8 315.7h1M80.1 321.5h1M78.0 304.5h1M68.4 320.6h1M87.1 323.8h1M86.5 314.1h1M86.3 318.1h1M84.1 311.7h1M73.7 326.1h1M82.8 319.2h1M75.9 321.0h1M96.4 318.7h1M78.6 329.0h1M86.4 321.6h1M71.8 313.0h1M74.2 323.8h1M78.5 321.5h1M86.6 310.8h1M85.6 308.6h1M83.9 315.8h1M69.8 321.5h1M89.5 315.6h1M75.9 316.9h1M92.7 315.7h1M94.3 315.8h1M87.5 315.1h1M88.5 318.4h1M73.7 318.5h1M99.0 303.8h1M83.4 318.1h1M88.6 321.1h1M81.6 307.1h1M74.2 318.7h1M80.4 314.4h1M82.1 320.1h1M83.7 313.2h1M91.2 316.0h1M85.2 323.0h1M83.6 314.0h1M82.3 318.2h1M95.3 322.7h1M78.2 324.9h1M89.8 306.9h1M76.2 317.1h1M84.7 319.4h1M80.9 316.8h1M101.8 309.0h1M99.0 308.7h1M72.0 325.8h1M74.9 317.0h1M81.1 312.1h1M93.5 311.4h1M89.5 316.0h1M84.2 306.9h1M72.7 326.5h1M76.4 316.8h1M64.3 329.1h1M84.8 319.4h1M87.2 319.8h1M73.4 319.4h1M82.7 314.8h1M92.8 304.4h1M83.1 317.3h1M80.0 316.5h1M86.1 304.3h1M85.5 319.0h1M82.6 326.9h1M78.5 322.2h1M79.2 326.1h1M82.6 317.0h1M78.4 314.5h1M90.8 315.9h1M87.9 314.7h1M89.2 309.9h1M95.4 319.6h1M92.5 315.9h1M91.4 311.7h1M84.5 318.9h1M80.8 318.4h1M97.2 316.6h1M77.6 329.1h1M77.9 316.8h1M76.3 314.3h1M83.5 325.8h1M88.8 313.0h1M80.5 314.3h1M70.6 316.3h1M84.1 318.0h1M88.5 317.0h1M82.2 317.3h1M81.1 323.7h1M85.7 313.0h1M91.5 312.1h1M81.6 312.1h1M78.3 326.1h1M80.9 326.4h1M70.1 318.5h1M87.1 324.3h1M77.0 322.3h1M85.4 321.6h1M83.3 321.6h1M80.0 317.8h1M92.8 314.0h1M78.3 311.7h1M77.6 317.5h1M83.9 316.9h1M87.6 310.5h1M82.0 319.4h1M75.5 328.2h1M86.6 314.5h1M86.0 312.1h1M95.7 309.2h1M80.6 320.4h1M83.4 327.9h1M78.3 321.1h1M72.2 322.8h1M82.5 311.9h1M87.6 318.7h1M75.3 324.8h1M77.5 318.3h1M74.2 321.6h1M90.9 312.0h1M77.8 324.4h1M85.8 324.8h1M76.3 323.0h1M82.5 321.5h1M77.9 320.7h1M66.5 321.0h1M82.5 314.5h1M85.5 315.4h1M68.2 324.5h1M80.8 319.3h1M79.1 325.5h1M74.9 325.5h1M80.3 327.6h1M69.2 327.8h1M83.7 317.0h1M89.8 316.6h1M73.7 313.0h1M81.6 328.2h1M91.4 312.3h1M82.8 316.4h1M76.0 315.2h1M83.2 315.1h1M81.1 318.9h1M86.2 314.2h1M72.0 323.1h1M89.1 317.7h1M79.3 323.4h1M86.2 316.8h1M77.2 324.5h1M73.4 320.2h1M78.3 323.6h1M75.7 327.7h1M79.5 310.4h1M86.3 316.2h1M89.1 317.3h1M83.3 308.1h1M78.4 303.5h1M79.0 321.7h1M85.9 314.0h1M89.5 320.5h1M79.9 319.7h1M81.2 319.2h1M77.0 318.8h1M83.4 319.0h1M88.3 311.7h1M62.8 323.1h1M83.7 322.6h1M78.4 318.9h1M66.6 327.3h1M84.1 318.1h1M81.4 317.3h1M84.4 312.8h1M73.0 326.8h1M96.1 309.3h1M82.7 320.7h1M79.7 311.3h1M92.1 316.8h1M86.3 319.5h1M87.5 313.5h1M89.7 307.3h1M68.3 323.1h1M93.0 315.5h1M79.7 316.9h1M83.9 314.6h1M88.1 321.7h1M77.3 320.0h1M84.1 315.9h1M87.0 321.7h1M81.7 318.9h1M85.3 313.9h1M71.4 327.5h1M74.1 319.8h1M74.4 326.7h1M84.4 314.4h1M106.7 311.7h1M83.7 325.1h1M81.0 321.8h1M81.6 321.8h1M88.5 319.0h1M86.7 321.9h1M74.4 322.1h1M88.7 318.9h1M81.8 317.8h1M87.4 327.5h1M68.8 319.0h1M71.7 327.2h1M85.9 312.2h1M70.1 326.2h1M84.6 325.2h1M84.2 312.2h1M83.0 328.2h1M84.3 312.9h1M83.8 313.9h1M85.0 319.6h1M79.3 313.9h1M81.9 324.3h1M101.3 314.6h1M89.5 301.4h1M86.0 309.7h1M84.6 314.1h1M77.2 323.0h1M83.5 312.6h1M80.4 315.6h1M88.2 320.0h1M76.0 315.7h1M66.4 326.2h1M78.3 312.8h1M86.6 322.7h1M98.2 320.7h1M88.8 310.2h1M75.5 308.4h1M80.6 310.3h1M75.7 326.4h1M80.8 316.2h1M76.1 326.7h1M71.1 315.6h1M84.9 312.7h1M83.3 317.7h1M80.9 325.1h1M84.3 316.8h1M95.4 308.4h1M82.8 320.2h1M79.5 320.2h1M87.7 319.5h1M71.2 321.8h1M87.0 313.7h1M76.9 320.8h1M76.6 307.4h1M82.7 320.0h1M93.0 321.5h1M77.1 323.6h1M88.3 311.4h1M84.5 309.6h1M72.8 329.3h1M88.0 313.9h1M76.5 319.7h1M72.3 323.6h1M76.8 317.5h1M77.2 320.8h1M85.9 325.6h1M77.2 317.9h1M91.9 325.7h1M83.5 320.4h1M77.3 322.3h1M76.5 326.0h1M83.5 323.3h1M68.6 329.5h1M67.6 327.1h1M76.2 317.8h1M86.2 326.2h1M83.2 317.6h1M82.1 314.3h1M80.6 324.2h1M67.6 327.6h1M79.5 327.7h1M80.5 317.2h1M85.2 325.3h1M97.8 309.8h1M79.1 309.2h1M68.0 318.1h1M74.4 314.3h1M84.6 317.6h1M77.9 328.6h1M73.5 319.8h1M86.6 321.2h1M86.7 328.9h1M77.9 328.7h1M82.4 315.5h1M73.8 312.1h1M76.6 308.6h1M67.0 305.6h1M82.9 300.6h1M79.0 324.1h1M75.0 306.2h1M80.7 313.5h1M80.9 314.4h1M72.7 326.5h1M74.1 307.1h1M72.2 317.7h1M92.3 314.8h1M63.8 329.4h1M78.8 314.1h1M87.3 315.7h1M69.3 316.1h1M70.5 325.6h1M70.2 324.6h1M62.5 317.0h1M90.4 317.0h1M76.9 305.8h1M68.7 318.8h1M73.0 310.9h1M80.5 312.5h1M75.7 323.8h1M83.5 316.3h1M70.4 316.9h1M75.0 314.5h1M80.2 321.0h1M71.8 316.3h1M79.3 322.8h1M72.6 328.4h1M103.6 314.6h1M74.7 314.2h1M85.0 320.0h1M70.5 313.0h1M68.0 306.0h1M77.3 324.5h1M75.2 326.3h1M78.1 313.6h1M86.7 290.0h1M96.3 306.6h1M97.3 316.0h1M78.9 313.1h1M95.5 321.9h1M94.3 306.5h1M72.4 321.0h1M73.7 318.8h1M77.2 318.1h1M96.6 301.7h1M76.8 315.7h1M75.8 318.5h1M91.1 310.1h1M76.3 307.1h1M76.6 312.9h1M83.6 307.9h1M79.6 318.1h1M55.3 328.4h1M66.2 321.2h1M84.5 317.1h1M64.4 318.0h1M89.4 314.7h1M77.2 302.2h1M80.2 316.0h1M80.5 321.8h1M61.0 316.2h1M71.2 322.6h1M68.0 307.6h1M80.1 315.8h1M92.2 311.3h1M75.7 319.8h1M78.5 316.9h1M74.3 294.0h1M75.6 306.1h1M76.1 311.6h1M83.5 315.3h1M91.1 308.2h1M77.7 311.2h1M81.6 303.8h1M63.2 309.7h1M83.6 308.4h1M78.2 326.8h1M61.5 314.0h1M71.7 325.1h1M87.4 311.6h1M82.2 320.8h1M78.7 323.1h1M94.1 303.5h1M76.4 304.6h1M75.1 327.2h1M78.3 309.0h1M79.1 321.9h1M70.0 322.7h1M83.4 302.7h1M82.0 319.7h1M73.1 321.2h1M63.4 328.6h1M89.5 313.0h1M90.6 316.3h1M86.7 316.6h1M87.6 312.0h1M49.5 329.5h1M49.1 326.8h1M47.4 323.4h1M39.5 325.4h1M46.7 325.7h1M41.3 323.3h1M40.5 322.2h1M43.0 323.0h1M43.0 320.2h1M40.9 326.7h1M37.3 328.8h1M50.0 327.0h1M44.2 319.7h1M37.7 325.2h1M39.7 321.7h1M38.6 325.4h1M44.1 325.5h1M45.5 324.0h1M41.8 325.2h1M46.8 329.8h1M38.6 324.2h1M43.5 326.5h1M45.3 328.7h1M47.1 328.8h1M51.2 326.6h1M41.1 324.0h1M46.7 319.2h1M42.5 329.1h1M48.5 321.8h1M44.4 325.1h1M48.9 323.5h1M45.0 323.4h1M42.2 323.7h1M39.3 324.5h1M43.2 322.3h1M47.5 325.5h1M40.7 324.4h1M43.2 327.0h1M46.6 316.4h1M42.0 327.2h1M39.2 319.8h1M44.9 324.6h1M44.3 324.1h1M44.0 327.7h1M41.6 324.1h1M46.2 323.7h1M47.7 326.1h1M44.7 325.4h1M41.7 324.9h1M41.1 321.4h1M42.8 318.6h1M47.7 325.5h1M41.8 324.3h1M41.0 326.0h1M41.7 328.1h1M42.5 321.7h1M38.3 326.0h1M41.2 326.0h1M44.6 324.1h1M48.6 316.4h1M41.3 321.9h1M51.3 324.6h1M46.9 327.8h1M46.4 323.8h1M45.2 319.7h1M39.8 324.8h1M42.3 323.2h1M42.9 327.0h1M43.4 327.6h1M49.4 324.6h1M51.5 322.7h1M45.1 322.8h1M47.1 327.9h1M39.7 324.4h1M42.3 317.7h1M43.8 323.0h1M48.9 323.5h1M53.4 323.1h1M43.9 317.5h1M48.5 323.2h1M43.7 326.1h1M46.4 322.9h1M44.5 322.2h1M49.6 319.7h1M38.2 325.8h1M43.4 323.4h1M46.9 328.3h1M47.5 328.5h1M40.4 327.2h1M45.3 318.6h1M40.0 322.7h1M45.9 329.3h1M39.6 320.4h1M38.1 329.6h1M47.0 324.8h1M37.4 328.5h1M46.4 320.4h1M43.3 321.0h1M48.1 323.6h1M37.5 320.2h1M40.9 327.9h1M42.4 319.0h1M51.7 324.2h1M42.8 326.1h1M46.9 326.0h1M42.3 326.4h1M45.1 324.5h1M42.9 325.8h1M40.2 324.7h1M38.4 324.1h1M44.2 326.7h1M47.5 327.8h1M45.0 325.6h1M38.0 325.9h1M44.3 323.5h1M45.2 319.9h1M42.5 327.0h1M41.8 318.1h1M40.4 328.5h1M41.9 322.8h1M46.1 327.4h1M48.4 320.6h1M44.9 327.7h1M43.8 321.0h1M38.5 325.8h1M41.1 324.3h1M45.9 326.0h1M47.9 328.1h1M43.1 321.9h1M38.6 316.8h1M41.2 324.9h1M44.3 314.2h1M41.9 315.7h1M43.1 322.4h1M40.2 327.5h1M41.9 321.5h1M52.7 322.7h1M42.7 323.1h1M51.4 325.8h1M43.8 319.2h1M39.6 325.2h1M45.2 324.4h1M40.9 320.9h1M42.4 321.0h1M44.2 327.5h1M40.1 326.4h1M47.6 321.6h1M43.2 323.5h1M41.0 319.8h1M38.1 318.1h1M42.8 323.0h1M41.0 322.5h1M39.3 320.0h1M50.8 320.1h1M42.0 326.1h1M46.6 323.0h1M49.1 318.7h1M45.4 318.1h1M44.8 325.5h1M46.8 320.9h1M45.1 327.3h1M44.8 325.0h1M43.2 328.6h1M40.5 324.5h1M40.7 321.9h1M43.5 324.5h1M48.3 323.9h1M38.5 324.1h1M40.0 322.0h1M38.3 326.1h1M41.1 325.9h1M43.9 327.2h1M42.0 322.3h1M39.9 325.7h1M44.6 327.1h1M42.1 321.2h1M50.5 325.9h1M40.1 327.3h1M41.9 323.5h1M40.9 325.8h1M48.5 317.5h1M45.4 324.2h1M41.6 323.8h1M44.9 328.5h1M44.2 326.7h1M40.8 324.3h1M41.9 317.3h1M44.1 319.7h1M40.7 323.4h1M41.2 325.4h1M40.7 323.1h1M41.0 325.1h1M38.5 322.0h1M44.2 323.0h1M46.0 321.0h1M42.4 329.2h1M44.4 327.6h1M49.9 316.9h1M47.9 322.8h1M41.7 328.7h1M41.1 321.2h1M40.7 322.4h1M50.2 324.5h1M43.6 329.6h1M38.6 327.0h1M46.7 322.0h1M46.2 319.4h1M39.9 325.9h1M47.0 316.3h1M46.6 322.4h1M42.6 320.0h1M46.4 323.3h1M44.1 324.1h1M38.1 327.4h1M41.8 319.4h1M45.5 324.8h1M44.8 324.4h1M38.5 325.0h1M52.8 318.6h1M43.6 326.5h1M41.2 324.1h1M42.5 324.8h1M43.5 322.2h1M44.3 323.5h1M43.6 323.2h1M40.1 326.3h1M48.6 329.0h1M45.0 323.2h1M49.4 322.0h1M47.2 323.6h1M38.7 328.4h1M40.8 326.2h1M41.0 329.5h1M41.1 323.6h1M44.7 322.8h1M42.0 320.3h1M39.3 323.5h1M49.1 322.4h1M48.7 324.1h1M42.9 321.0h1M38.2 321.9h1M40.1 323.4h1M39.5 328.3h1M38.9 323.3h1M38.6 322.4h1M43.8 328.5h1M44.1 329.7h1M44.6 323.5h1M38.8 323.6h1M44.1 317.7h1M51.4 318.7h1M43.8 324.4h1M44.2 327.7h1M40.1 322.8h1M46.6 326.6h1M39.7 319.0h1M41.2 324.3h1M47.2 320.1h1M40.2 324.6h1M46.4 325.4h1M41.3 318.3h1M47.5 322.1h1M46.4 329.0h1M42.3 327.8h1M40.1 326.3h1M41.5 323.7h1M43.6 323.9h1M42.9 326.3h1M45.8 323.2h1M42.9 323.6h1M38.3 323.3h1M43.6 327.7h1M42.6 320.8h1M40.7 319.0h1M37.3 324.2h1M43.2 323.3h1M42.6 326.7h1M41.8 323.3h1M42.4 322.3h1M41.3 325.7h1M45.1 326.3h1M44.6 328.5h1M50.5 324.9h1M48.9 317.7h1M42.7 324.5h1M37.6 324.7h1M45.5 324.3h1M40.2 326.7h1M49.3 323.6h1M41.0 323.5h1M42.8 320.4h1M45.9 315.7h1M45.6 321.0h1M46.4 323.7h1M39.1 324.2h1M41.4 325.7h1M51.8 323.0h1M42.0 325.7h1M44.3 325.1h1M48.5 329.2h1M38.8 325.7h1M39.6 327.4h1M40.2 327.0h1M38.7 320.6h1M41.5 322.3h1M40.6 327.7h1M42.3 325.3h1M38.5 328.2h1M41.3 327.0h1M42.7 322.9h1M38.7 323.5h1M42.5 326.9h1M41.7 323.2h1M47.2 323.3h1M45.4 324.3h1M44.8 323.4h1M47.0 326.7h1M40.0 323.0h1M48.4 325.1h1M43.5 322.0h1M40.6 318.2h1M44.4 327.8h1M38.1 328.5h1M50.2 322.9h1M43.7 327.8h1M37.9 320.3h1M40.5 329.3h1M40.3 317.2h1M44.6 324.6h1M46.4 327.5h1M47.0 320.6h1M38.7 322.5h1M47.4 329.5h1M47.9 324.1h1M40.2 324.6h1M39.3 326.4h1M47.1 328.7h1M44.6 327.6h1M42.9 325.6h1M37.4 323.9h1M38.6 328.7h1M39.1 328.3h1M38.8 327.0h1M40.8 321.2h1M44.0 324.9h1M40.3 317.2h1M41.6 322.4h1M42.3 324.4h1M42.3 319.6h1M47.7 320.6h1M39.1 328.6h1M43.4 326.9h1M47.6 329.5h1M45.7 327.5h1M46.8 328.1h1M43.0 326.2h1M43.9 324.4h1M48.4 329.0h1M50.1 325.3h1M39.1 323.8h1M44.6 328.3h1M39.1 324.4h1M41.9 320.8h1M46.1 329.5h1M41.8 323.6h1M50.3 325.8h1M42.8 318.9h1M45.4 315.3h1M39.9 326.8h1M40.9 316.4h1M44.7 323.1h1M49.7 327.2h1M42.7 325.8h1M40.0 325.0h1M44.7 329.2h1M42.7 328.7h1M38.0 326.5h1M41.1 316.3h1M44.6 324.9h1M40.1 327.1h1M40.2 324.7h1M43.4 329.2h1M50.6 327.4h1M37.9 322.9h1M47.0 325.6h1M42.0 318.4h1M45.3 319.1h1M44.3 325.8h1M41.9 321.4h1M42.6 329.7h1M45.5 325.7h1M48.2 326.8h1M46.4 324.2h1M43.5 326.1h1M45.1 326.4h1M45.4 323.9h1M48.9 327.0h1M38.5 323.9h1M41.6 314.7h1M40.3 315.2h1M41.4 322.6h1M40.6 328.4h1M40.7 320.9h1M41.0 326.8h1M49.4 324.4h1M40.7 325.4h1M47.4 325.8h1M40.1 321.2h1M47.7 326.5h1M44.5 327.6h1M39.9 324.6h1M39.5 327.7h1M43.1 321.1h1M41.7 324.2h1M43.0 326.6h1M40.1 323.8h1M45.1 329.7h1M39.7 327.5h1M40.5 322.7h1M41.8 321.5h1M41.2 322.3h1M41.6 323.5h1M47.9 325.7h1M41.4 326.2h1M41.9 328.2h1M39.8 316.3h1M49.3 325.2h1M41.6 324.1h1M44.6 327.0h1M38.3 327.0h1M41.9 317.9h1M48.0 321.0h1M44.6 329.7h1M48.7 321.9h1M54.3 329.3h1M40.2 328.4h1M47.2 319.8h1M44.2 322.7h1M44.5 326.3h1M48.7 327.3h1M43.2 328.5h1M40.3 322.5h1M50.4 320.4h1M47.9 322.7h1M42.6 321.9h1M49.0 324.5h1M39.1 320.2h1M46.8 328.4h1M44.7 319.9h1M43.5 321.7h1M43.1 327.8h1M64.4 320.4h1M47.3 313.1h1M42.6 322.5h1M55.1 320.9h1M42.0 314.2h1M44.9 325.7h1M62.5 317.6h1M53.8 318.2h1M44.6 329.3h1M52.0 319.2h1M56.3 324.3h1M61.3 320.6h1M54.7 315.0h1M51.9 318.7h1M56.9 318.7h1M53.8 322.5h1M52.2 310.4h1M60.6 322.0h1M48.6 324.9h1M41.1 328.6h1M60.1 315.4h1M48.6 321.8h1M49.4 319.2h1M55.9 318.1h1M49.7 318.3h1M51.3 320.6h1M41.9 326.4h1M63.7 324.3h1M39.9 321.6h1M63.8 326.6h1M40.5 307.3h1M45.5 320.2h1M48.1 322.0h1M59.8 321.8h1M53.7 327.8h1M47.8 321.0h1M40.7 327.6h1M60.9 319.1h1M52.2 323.9h1M55.7 320.6h1M50.2 318.7h1M47.4 322.9h1M57.9 323.2h1M54.6 315.1h1M62.2 325.3h1M53.7 318.6h1M39.2 320.6h1M58.8 305.3h1M52.4 319.9h1M49.9 309.5h1M44.2 315.8h1M53.4 317.6h1M46.3 319.1h1M54.2 312.7h1M57.3 320.2h1M51.8 313.3h1M43.5 318.9h1M55.8 324.8h1M55.2 327.1h1M49.7 328.0h1M40.8 314.8h1M59.1 322.7h1M49.6 328.7h1M50.3 327.5h1M52.3 319.3h1M57.6 305.5h1M55.8 320.4h1M44.9 324.0h1M46.3 322.3h1M64.2 310.8h1M38.2 307.1h1M59.9 314.2h1M38.3 317.9h1M40.1 314.5h1M52.7 315.6h1M44.4 324.3h1M49.6 328.1h1M41.4 310.7h1M52.9 314.2h1M59.4 319.5h1M38.5 318.9h1M56.6 307.1h1M58.8 323.9h1M59.8 309.4h1M41.3 321.7h1M49.4 313.6h1M47.7 322.8h1M42.5 321.7h1M43.9 320.3h1M45.1 322.4h1M53.2 316.8h1M58.2 321.0h1M49.0 306.8h1M58.7 324.1h1M53.0 319.0h1M39.7 320.6h1M52.9 307.1h1M51.2 328.5h1M52.8 316.0h1M54.8 313.8h1M58.9 319.8h1M52.9 327.1h1M49.0 317.9h1M50.3 321.2h1M45.9 321.3h1M61.2 316.4h1M58.6 317.2h1M63.1 319.2h1M47.4 319.7h1M50.0 325.9h1M73.8 309.3h1M61.2 322.6h1M38.6 322.1h1M58.2 327.6h1M54.7 317.9h1M48.5 317.9h1M49.1 320.6h1M44.0 316.9h1M46.9 316.7h1M44.7 316.3h1M41.1 316.3h1M48.1 314.3h1M43.6 316.6h1M58.0 315.6h1M60.9 315.9h1M50.2 312.6h1M48.5 325.2h1M57.3 321.7h1M50.5 319.7h1M69.7 314.0h1M41.7 319.3h1M55.9 320.4h1M58.6 319.3h1M47.3 325.4h1M51.7 315.6h1M49.0 316.3h1M56.0 320.7h1M69.8 318.8h1M71.6 325.0h1M61.1 327.5h1M48.9 325.2h1M56.1 318.4h1M51.5 319.0h1M56.0 317.9h1M56.0 326.3h1M58.7 318.7h1M42.7 315.3h1M57.2 314.2h1M45.8 324.1h1M49.0 315.2h1M58.9 305.4h1M47.8 323.9h1M54.5 321.8h1M54.7 324.2h1M71.9 320.1h1M67.1 311.4h1M65.9 325.2h1M62.5 314.0h1M54.1 314.1h1M40.8 312.2h1M42.4 323.0h1M65.8 315.3h1M62.4 324.3h1M54.4 307.9h1M68.4 315.9h1M61.8 323.4h1M62.1 321.7h1M58.4 320.4h1M50.3 317.9h1M52.0 305.3h1M65.9 305.6h1M78.3 321.8h1M79.7 311.7h1M60.3 316.3h1M66.6 320.6h1M61.2 302.9h1M63.6 302.9h1M66.2 319.9h1M71.2 312.0h1M50.7 313.7h1M79.8 324.1h1M60.9 314.2h1M52.3 315.7h1M85.3 318.1h1M53.2 304.0h1M61.8 328.3h1M54.8 319.0h1M74.0 312.3h1M65.5 309.6h1M46.2 311.3h1M77.7 307.4h1M83.1 314.5h1M70.8 310.8h1M54.3 317.9h1M73.8 311.4h1M84.1 317.9h1M64.7 319.1h1M58.4 318.8h1M76.8 318.7h1M48.8 316.6h1M59.2 310.3h1M61.6 302.1h1M63.4 318.5h1M73.2 306.2h1M60.7 318.4h1M51.1 315.7h1M48.1 315.7h1M60.7 316.1h1M66.8 320.0h1M71.8 309.2h1M68.3 318.2h1M48.3 323.6h1" stroke="#111" stroke-width="1" stroke-opacity="0.7" fill="none"/>
<path d="M87.2 279.0h1M88.4 277.6h1M82.9 282.0h1M83.7 270.8h1M91.5 275.2h1" stroke="#111" stroke-width="1" stroke-opacity="0.22" fill="none"/>
<rect x="70" y="259.6" width="31.2" height="36.9" fill="none" stroke="#0c0c0c" stroke-width="1.25"/>
<text x="67.4" y="267.9" text-anchor="end" font-size="9.6">0%</text>
<rect x="153.9" y="247.0" width="108.49999999999997" height="83.39999999999998" fill="none" stroke="#1c1c1c" stroke-width="1.1"/><path d="M155.70 330.4v2.6M159.10 330.4v2.6M161.73 330.4v2.6M163.88 330.4v2.6M165.69 330.4v2.6M167.27 330.4v2.6M168.66 330.4v2.6M169.90 330.4v4.4M178.07 330.4v2.6M182.85 330.4v2.6M186.25 330.4v2.6M188.88 330.4v2.6M191.03 330.4v2.6M192.84 330.4v2.6M194.42 330.4v2.6M195.81 330.4v2.6M197.05 330.4v4.4M205.22 330.4v2.6M210.00 330.4v2.6M213.40 330.4v2.6M216.03 330.4v2.6M218.18 330.4v2.6M219.99 330.4v2.6M221.57 330.4v2.6M222.96 330.4v2.6M224.20 330.4v4.4M232.37 330.4v2.6M237.15 330.4v2.6M240.55 330.4v2.6M243.18 330.4v2.6M245.33 330.4v2.6M247.14 330.4v2.6M248.72 330.4v2.6M250.11 330.4v2.6M251.35 330.4v4.4M259.52 330.4v2.6M153.9 329.77h-2.2M153.9 327.20h-2.2M153.9 325.20h-2.2M153.9 323.57h-2.2M153.9 322.19h-2.2M153.9 321.00h-2.2M153.9 319.94h-2.2M153.9 319.00h-3.8M153.9 312.80h-2.2M153.9 309.17h-2.2M153.9 306.60h-2.2M153.9 304.60h-2.2M153.9 302.97h-2.2M153.9 301.59h-2.2M153.9 300.40h-2.2M153.9 299.34h-2.2M153.9 298.40h-3.8M153.9 292.20h-2.2M153.9 288.57h-2.2M153.9 286.00h-2.2M153.9 284.00h-2.2M153.9 282.37h-2.2M153.9 280.99h-2.2M153.9 279.80h-2.2M153.9 278.74h-2.2M153.9 277.80h-3.8M153.9 271.60h-2.2M153.9 267.97h-2.2M153.9 265.40h-2.2M153.9 263.40h-2.2M153.9 261.77h-2.2M153.9 260.39h-2.2M153.9 259.20h-2.2M153.9 258.14h-2.2M153.9 257.20h-3.8M153.9 251.00h-2.2" stroke="#141414" stroke-width="0.9" fill="none"/><text x="164.90" y="346.00" font-size="8.8" textLength="8.3" lengthAdjust="spacingAndGlyphs">10</text><text x="173.70" y="342.40" font-size="5.6">1</text><text x="192.05" y="346.00" font-size="8.8" textLength="8.3" lengthAdjust="spacingAndGlyphs">10</text><text x="200.85" y="342.40" font-size="5.6">2</text><text x="219.20" y="346.00" font-size="8.8" textLength="8.3" lengthAdjust="spacingAndGlyphs">10</text><text x="228.00" y="342.40" font-size="5.6">3</text><text x="246.35" y="346.00" font-size="8.8" textLength="8.3" lengthAdjust="spacingAndGlyphs">10</text><text x="255.15" y="342.40" font-size="5.6">4</text>
<path d="M222.8 263.6L222.3 264.3L220.8 264.1L219.1 265.0L218.3 265.8L217.2 266.5L217.7 266.8L215.2 268.1L215.7 268.1L214.9 267.8L214.1 269.9L214.6 271.1L213.9 271.9L212.5 272.7L211.9 273.7L213.2 274.1L212.5 276.7L212.5 277.3L212.7 278.3L211.5 279.9L213.1 279.7L212.9 280.9L213.6 281.3L212.9 282.2L214.7 283.5L214.6 284.3L215.0 285.7L214.9 287.9L215.8 287.8L217.5 289.0L215.4 289.7L216.9 292.0L216.1 293.7L215.7 294.5L216.4 295.2L215.6 296.2L214.9 297.9L215.0 298.2L213.3 298.5L213.9 300.0L214.3 301.1L213.8 302.2L214.1 303.6L212.7 304.6L214.8 305.7L213.3 305.5L213.5 307.8L213.6 306.8L211.6 309.1L215.1 309.1L213.4 311.0L214.1 312.5L213.1 313.1L214.0 314.6L215.0 315.9L214.4 315.7L215.1 317.2L215.7 317.9L216.4 318.9L218.0 320.7L217.3 321.9L217.7 322.8L219.1 324.4L220.2 323.7L221.6 324.3L222.7 322.3L222.7 323.1L224.4 321.9L224.5 321.7L224.2 320.6L225.8 320.0L225.9 319.2L226.6 318.5L227.0 316.6L227.4 316.4L228.9 314.6L229.3 313.8L229.7 311.7L228.8 310.6L228.2 310.7L229.5 309.5L229.6 308.5L230.5 307.6L230.7 308.0L228.9 306.3L229.1 305.8L229.6 305.1L229.2 302.8L228.8 302.0L229.4 301.0L229.2 300.4L228.8 298.6L228.1 297.6L228.4 297.6L228.9 295.5L228.6 294.4L228.5 293.0L228.5 292.9L228.0 291.7L227.2 290.7L227.9 289.9L228.6 289.1L228.9 286.5L229.4 285.3L229.0 285.0L229.4 283.7L230.9 282.6L230.2 281.2L232.7 280.7L231.2 280.0L232.1 278.6L231.1 277.8L231.4 276.1L230.8 276.0L231.7 275.8L231.6 273.8L232.7 272.0L232.5 271.5L231.1 271.2L231.7 269.3L231.5 269.9L231.7 268.1L230.2 267.1L230.1 266.2L229.5 266.1L227.4 265.0L227.7 264.1L226.1 264.5L225.4 263.5L224.2 263.4L223.3 263.5Z" fill="#0a0a0a"/>
<path d="M214.1 288.9h1M213.4 280.8h1M218.7 282.9h1M220.3 278.3h1M219.0 287.2h1M225.9 281.8h1M221.9 270.2h1M225.9 269.9h1M223.3 270.7h1M210.1 286.4h1M224.6 281.8h1M229.9 278.1h1M222.9 275.6h1M221.7 273.1h1M215.9 281.7h1M223.4 283.8h1M216.5 284.9h1M212.7 292.4h1M223.3 290.8h1M226.5 273.8h1M220.5 297.8h1M221.1 289.6h1M218.5 280.8h1M230.6 278.6h1M224.1 281.5h1M220.2 274.0h1M220.5 272.8h1M222.8 277.9h1M228.0 273.5h1M217.3 283.6h1M223.7 262.4h1M221.4 280.4h1M214.2 276.7h1M221.4 272.9h1M220.4 284.0h1M219.8 271.7h1M222.8 269.9h1M223.3 279.7h1M231.0 277.4h1M225.4 271.4h1M226.5 270.6h1M219.6 272.4h1M222.0 280.2h1M218.4 281.8h1M218.3 284.8h1M226.5 275.8h1M233.7 267.9h1M225.8 282.4h1M224.2 297.7h1M224.9 289.6h1M226.3 268.7h1M221.6 283.7h1M221.7 276.7h1M225.4 276.0h1M230.6 273.6h1M222.5 271.1h1M213.2 267.7h1M226.2 280.1h1M223.1 269.4h1M217.8 274.3h1M217.6 275.6h1M205.1 282.1h1M217.9 275.1h1M220.9 276.7h1M224.8 273.7h1M221.7 279.7h1M216.7 281.6h1M219.8 289.6h1M222.3 282.0h1M225.2 272.5h1M223.6 281.7h1M226.6 283.8h1M211.8 275.5h1M223.1 273.1h1M217.0 290.5h1M223.1 278.6h1M219.3 288.9h1M215.6 267.2h1M215.1 260.9h1M225.0 279.5h1M225.2 270.4h1M227.9 277.7h1M226.1 270.7h1M224.7 283.5h1M216.4 276.4h1M221.0 276.7h1M220.7 281.8h1M232.9 271.9h1M217.5 275.8h1M215.2 289.0h1M216.8 278.2h1M227.5 278.3h1M218.7 282.4h1M226.1 277.7h1M219.4 282.4h1M227.7 291.5h1M213.9 288.1h1M219.8 267.3h1M220.9 271.3h1M214.6 271.3h1M217.6 271.2h1M228.2 277.8h1M231.3 279.3h1M222.1 294.7h1M215.4 273.7h1M215.3 274.5h1M217.5 280.5h1M221.7 286.4h1M229.3 274.1h1M227.0 269.6h1M219.5 284.9h1M226.1 275.0h1M226.4 288.9h1M226.7 290.9h1M222.1 292.6h1M220.0 281.8h1M228.1 283.2h1M230.6 265.3h1M221.0 281.3h1M224.1 274.4h1M228.0 284.5h1M230.4 271.6h1M231.6 273.8h1M222.4 271.1h1M229.0 290.4h1M215.8 280.0h1M210.5 272.4h1M219.9 275.1h1M224.1 267.1h1M214.2 288.8h1M221.4 287.4h1M223.2 278.6h1M222.1 279.9h1M223.7 265.9h1M228.2 288.5h1M220.8 277.5h1M219.7 294.2h1M225.1 272.4h1M227.9 280.0h1M219.9 285.0h1M229.5 282.2h1M226.2 275.8h1M220.2 286.5h1M222.0 280.7h1M218.0 278.7h1M225.9 268.7h1M222.8 287.5h1M232.8 275.5h1M208.4 284.4h1M215.7 278.5h1M219.5 280.9h1M225.0 274.1h1M220.3 298.1h1M218.4 292.7h1M224.5 282.4h1M219.9 280.3h1M223.5 282.6h1M227.0 269.9h1M227.4 281.1h1M213.9 278.7h1M218.3 275.2h1M224.6 271.7h1M221.3 272.5h1M218.1 282.2h1M225.4 277.0h1M222.7 271.3h1M224.6 280.3h1M227.0 277.6h1M220.2 277.2h1M227.7 287.7h1M223.2 275.3h1M223.7 266.8h1M227.7 277.5h1M213.7 271.7h1M213.5 286.0h1M216.2 283.4h1M226.8 274.1h1M222.9 281.3h1M219.3 275.1h1M216.7 275.2h1M213.2 265.7h1M223.8 260.9h1M222.1 274.4h1M224.3 290.7h1M227.1 267.2h1M223.7 276.6h1M229.4 270.8h1M220.1 282.0h1M230.2 269.3h1M224.5 276.2h1M219.4 281.2h1M223.2 273.3h1M233.7 273.8h1M215.6 277.3h1M219.0 282.2h1M220.0 282.8h1M223.1 283.1h1M222.5 280.7h1M232.1 267.6h1M221.1 274.5h1M225.7 280.7h1M219.5 278.4h1M216.3 285.5h1M221.4 267.9h1M220.9 270.9h1M225.8 270.2h1M229.2 278.2h1M219.8 273.1h1M227.9 269.3h1M216.8 281.3h1M231.4 272.2h1M214.4 270.9h1M219.5 281.2h1M223.5 276.3h1M220.2 281.6h1M216.2 283.1h1M225.8 272.0h1M216.9 276.4h1M227.2 275.3h1M214.5 284.3h1M227.6 275.9h1M226.5 284.4h1M224.9 272.6h1M227.6 276.2h1M221.0 287.5h1M221.8 266.8h1M228.2 266.4h1M216.6 283.9h1M220.7 283.5h1M221.0 285.1h1M220.9 284.1h1M220.6 285.6h1M209.2 276.5h1M222.0 277.6h1M223.5 281.4h1M228.6 266.8h1M226.2 266.9h1M218.9 273.7h1M220.6 285.2h1M217.1 284.3h1M220.1 268.1h1M218.8 273.9h1M227.7 272.0h1M224.0 277.5h1M225.1 278.2h1M220.0 277.9h1M221.2 270.6h1M224.7 285.1h1M217.8 286.2h1M224.7 268.9h1M226.6 275.1h1M219.0 286.1h1M222.0 280.0h1M217.5 281.9h1M230.7 272.1h1M224.4 287.6h1M227.8 267.9h1M220.9 284.6h1M217.5 291.8h1M221.6 271.9h1M229.4 285.9h1M230.7 281.8h1M226.2 271.7h1M222.1 278.7h1M224.3 287.7h1M227.9 272.8h1M216.8 275.3h1M217.9 265.9h1M223.6 274.2h1M226.1 275.6h1M223.7 281.5h1M222.8 283.9h1M229.0 290.7h1M220.2 283.2h1M220.4 299.9h1M217.4 284.3h1M223.3 287.5h1M226.2 270.6h1M221.7 281.1h1M212.3 287.0h1M224.6 284.2h1M225.6 273.4h1M217.8 278.2h1M221.1 268.3h1M222.4 280.1h1M218.2 270.5h1M223.7 284.6h1M222.7 279.4h1M216.2 284.3h1M207.9 285.2h1M217.4 282.0h1M229.6 282.1h1M228.5 276.7h1M220.6 265.7h1M216.6 288.4h1M229.8 270.3h1M225.9 283.7h1M228.8 280.2h1M231.9 278.3h1M224.5 278.3h1M222.7 279.6h1M218.2 280.0h1M223.0 277.6h1M217.0 277.8h1M227.8 278.6h1M221.1 282.4h1M230.5 272.5h1M220.4 279.8h1M224.5 266.9h1M218.1 272.3h1M226.8 263.5h1M217.9 276.5h1M229.1 278.9h1M225.1 282.1h1M212.6 269.5h1M215.0 285.3h1M223.5 269.5h1M221.9 274.5h1M232.7 271.4h1M217.6 290.4h1M221.1 279.1h1M222.2 293.3h1M223.4 284.7h1M231.3 273.6h1M221.8 280.7h1M213.9 289.6h1M230.5 269.2h1M224.5 273.4h1M214.4 279.0h1M218.7 275.9h1M220.6 276.0h1M222.9 290.2h1M226.5 277.8h1M221.0 275.5h1M219.5 275.3h1M217.1 268.6h1M221.4 283.8h1M222.6 272.8h1M224.7 303.8h1M210.9 283.6h1M217.6 274.3h1M224.7 267.9h1M231.1 272.1h1M227.0 279.5h1M210.2 275.8h1M212.0 284.6h1M225.2 282.1h1M222.5 281.7h1M222.6 281.3h1M232.7 275.4h1M216.6 273.9h1M228.6 266.9h1M222.8 265.3h1M219.1 274.9h1M211.2 285.0h1M216.0 278.9h1M230.3 268.0h1M222.7 284.2h1M226.5 269.3h1M225.3 268.1h1M221.4 270.3h1M226.7 271.5h1M223.9 276.5h1M221.3 268.4h1M220.5 265.8h1M218.4 281.6h1M223.7 279.1h1M221.2 281.2h1M228.1 281.8h1M220.6 278.2h1M217.4 291.8h1M212.4 278.1h1M226.2 276.1h1M235.4 284.3h1M222.0 280.4h1M210.5 278.9h1M227.1 276.3h1M218.7 269.4h1M225.9 281.6h1M224.2 275.4h1M226.0 279.9h1M222.9 287.2h1M220.8 283.6h1M227.9 278.2h1M220.7 280.7h1M228.4 277.1h1M219.1 290.8h1M223.0 263.1h1M218.3 275.0h1M227.1 270.3h1M218.7 281.4h1M217.9 277.1h1M227.2 277.1h1M224.0 291.5h1M221.8 279.7h1M217.0 285.1h1M221.9 274.6h1M224.3 272.0h1M225.7 269.2h1M218.5 289.0h1M224.8 268.7h1M212.2 276.3h1M222.5 294.6h1M217.4 281.5h1M225.9 277.0h1M219.9 276.4h1M234.3 266.3h1M223.0 280.2h1M223.9 284.8h1M210.2 273.6h1M214.9 275.6h1M227.5 288.7h1M218.6 275.6h1M228.0 281.9h1M218.4 295.5h1M225.3 270.5h1M217.9 277.9h1M224.4 270.3h1M226.9 286.3h1M218.2 283.0h1M215.3 277.0h1M225.0 280.3h1M223.3 272.9h1M225.7 266.1h1M215.7 274.3h1M226.1 271.1h1M221.2 270.3h1M216.5 286.8h1M219.7 271.7h1M227.0 268.3h1M223.0 278.7h1M222.9 280.8h1M222.6 289.8h1M220.1 280.0h1M228.6 265.8h1M222.3 270.8h1M214.5 286.3h1M214.5 274.2h1M219.2 281.7h1M220.1 291.9h1M226.0 265.6h1M208.4 269.3h1M226.2 275.0h1M228.4 275.9h1M219.6 284.7h1M228.8 263.9h1M218.6 282.8h1M221.3 275.8h1M219.5 265.3h1M230.7 273.7h1M228.3 279.7h1M228.0 289.6h1M216.1 274.0h1M222.7 282.6h1M216.1 268.8h1M223.0 285.3h1M225.2 277.5h1M229.5 287.7h1M221.4 267.5h1M223.5 268.6h1M221.5 264.8h1M216.5 292.1h1M231.1 272.0h1M224.3 263.2h1M229.9 270.1h1M226.7 282.8h1M215.4 283.8h1M218.9 281.4h1M225.9 266.5h1M226.8 275.1h1M225.9 261.6h1M222.3 266.0h1M226.9 280.9h1M217.0 285.3h1M220.9 275.9h1M216.0 265.0h1M227.6 268.9h1M224.2 274.0h1M226.0 288.6h1M220.8 272.8h1M208.6 269.3h1M218.0 269.3h1M223.0 270.6h1M222.5 273.2h1M227.1 274.3h1M228.2 291.2h1M219.2 273.6h1M212.9 287.2h1M225.8 270.6h1M210.8 274.0h1M224.9 272.4h1M209.9 282.4h1M224.9 277.7h1M230.8 279.0h1M221.3 274.9h1M226.0 276.9h1M228.2 267.7h1M207.7 272.4h1M211.8 275.0h1M222.3 273.8h1M216.3 265.6h1M220.0 268.5h1M237.0 283.4h1M232.3 283.9h1M225.7 288.9h1M218.6 286.9h1M225.2 283.4h1M224.2 290.0h1M221.4 282.4h1M231.3 272.8h1M211.9 277.4h1M230.9 277.9h1M220.0 281.1h1M229.5 274.6h1M221.6 274.9h1M219.2 277.7h1M218.7 272.1h1M223.7 294.2h1M224.3 280.9h1M231.1 282.2h1M222.1 271.2h1M215.7 277.2h1M222.9 277.4h1M225.5 283.6h1M213.1 279.2h1M222.4 279.6h1M229.5 274.9h1M219.8 295.8h1M213.6 279.1h1M226.5 269.7h1M231.2 265.5h1M221.3 277.8h1M223.3 273.8h1M228.8 277.4h1M225.4 280.2h1M218.6 269.5h1M220.6 278.4h1M222.0 272.0h1M222.5 272.1h1M228.9 268.8h1M216.8 276.9h1M224.6 271.5h1M221.6 272.3h1M211.0 277.3h1M226.5 266.6h1M223.2 287.4h1M215.4 283.9h1M212.7 276.7h1M227.7 278.6h1M231.7 268.2h1M223.0 278.1h1M221.2 266.1h1M226.5 276.1h1M218.8 279.1h1M219.6 275.3h1M227.7 281.9h1M216.1 272.7h1M228.8 277.0h1M224.1 281.3h1M229.7 279.8h1M212.2 279.5h1M229.6 288.5h1M221.9 283.6h1M226.0 281.6h1M217.9 272.9h1M216.8 279.3h1M228.8 271.9h1M225.1 292.5h1M225.5 279.6h1M226.2 270.8h1M225.8 283.2h1M213.7 287.8h1M220.8 273.4h1M220.6 279.2h1M233.6 294.0h1M229.9 276.1h1M217.6 281.2h1M214.2 303.1h1M226.5 276.5h1M225.7 267.7h1M230.1 268.5h1M216.1 279.9h1M231.8 281.3h1M223.6 270.5h1M224.1 281.4h1M220.2 276.3h1M218.1 274.6h1M230.1 268.9h1M204.7 289.9h1M228.6 274.8h1M226.4 266.5h1M218.7 270.6h1M226.8 273.0h1M221.8 266.4h1M215.3 275.0h1M220.9 286.5h1M225.7 283.2h1M222.7 285.0h1M218.2 285.8h1M226.3 277.7h1M226.6 279.3h1M229.2 262.6h1M223.7 282.9h1M230.8 280.4h1M218.5 280.1h1M220.0 279.7h1M214.5 270.9h1M222.0 273.9h1M222.7 265.3h1M222.2 273.8h1M215.2 277.0h1M228.0 271.2h1M212.9 288.4h1M217.1 272.2h1M205.8 283.6h1M228.1 277.7h1M226.7 275.1h1M221.2 282.0h1M224.1 280.0h1M215.3 276.1h1M216.2 288.9h1M216.8 277.6h1M224.0 281.8h1M220.0 270.0h1M223.2 270.3h1M216.3 280.1h1M214.7 296.8h1M224.6 267.3h1M223.8 268.0h1M224.7 271.1h1M218.7 274.9h1M223.7 277.7h1M213.5 287.4h1M216.1 277.6h1M224.0 281.6h1M216.9 278.9h1M215.4 274.7h1M217.0 275.0h1M231.5 279.2h1M219.8 279.5h1M223.9 287.3h1M221.3 279.3h1M235.8 273.6h1M221.7 269.0h1M228.2 270.4h1M227.6 279.2h1M224.7 279.5h1M222.4 290.2h1M213.9 274.7h1M225.5 281.8h1M234.6 274.3h1M225.4 261.1h1M233.8 266.3h1M226.5 278.7h1M227.6 273.7h1M219.8 273.1h1M221.8 286.2h1M225.2 275.3h1M228.8 278.4h1M216.8 284.7h1M214.5 275.9h1M221.9 282.7h1M221.9 270.2h1M225.1 267.2h1M232.0 284.0h1M219.4 288.3h1M232.9 280.9h1M225.7 271.2h1M222.6 275.0h1M213.1 272.6h1M230.8 268.6h1M232.4 276.4h1M225.2 273.4h1M225.3 285.8h1M220.1 266.2h1M211.7 276.0h1M218.0 269.3h1M214.4 269.4h1M214.8 293.6h1M217.7 290.6h1M219.1 281.5h1M225.2 281.0h1M229.6 280.6h1M221.1 278.1h1M220.4 260.7h1M220.6 282.3h1M218.8 289.0h1M223.6 283.4h1M219.6 280.4h1M217.4 281.4h1M218.5 283.6h1M230.7 270.9h1M223.6 291.2h1M219.7 276.0h1M223.2 270.1h1M218.0 292.6h1M219.6 279.1h1M220.2 280.4h1M212.9 288.7h1M221.2 294.5h1M224.6 276.6h1M223.6 277.9h1M221.3 266.9h1M228.0 276.4h1M217.6 291.3h1M228.3 270.2h1M227.5 269.2h1M223.3 264.1h1M230.5 265.7h1M217.8 268.2h1M223.5 277.2h1M221.4 279.8h1M217.9 262.7h1M220.4 281.1h1M224.4 287.0h1M224.4 283.5h1M225.6 270.8h1M218.5 284.6h1M221.6 273.6h1M221.5 268.9h1M218.5 267.3h1M222.1 265.9h1M210.5 277.4h1M215.8 283.5h1M219.4 264.1h1M220.1 262.3h1M225.7 285.7h1M219.1 270.7h1M231.3 292.6h1M214.1 282.2h1M232.1 264.1h1M216.9 285.8h1M215.9 286.7h1M218.0 265.1h1M218.7 276.2h1M220.5 288.4h1M219.6 266.1h1M224.6 280.2h1M226.3 279.1h1M216.3 293.8h1M228.8 286.1h1M223.4 274.0h1M222.1 266.3h1M226.7 273.7h1M221.6 278.3h1M229.9 275.5h1M215.5 275.5h1M228.7 268.5h1M219.5 287.8h1M226.1 273.5h1M219.7 272.1h1M231.1 277.0h1M224.2 278.0h1M226.2 276.4h1M216.3 288.0h1M214.1 271.3h1M223.4 279.2h1M230.3 283.5h1M223.0 273.7h1M214.2 280.3h1M231.4 280.5h1M219.3 282.1h1M226.2 276.7h1M217.7 268.8h1M218.3 271.3h1M223.7 277.3h1M207.8 278.3h1M216.7 276.3h1M219.8 273.9h1M219.9 264.5h1M213.2 284.2h1M228.0 268.0h1M220.8 290.0h1M221.1 299.4h1M211.7 286.0h1M221.4 281.3h1M225.4 271.9h1M226.5 268.9h1M225.1 273.7h1M221.4 285.5h1M220.6 278.1h1M222.8 264.7h1M225.4 283.0h1M220.6 274.0h1M220.6 284.3h1M223.8 277.2h1M220.4 271.8h1M223.2 273.7h1M222.5 283.2h1M216.8 274.3h1M229.8 286.2h1M225.4 270.7h1M216.9 289.9h1M216.6 268.5h1M219.1 269.8h1M218.5 283.0h1M216.4 290.5h1M222.9 275.1h1M219.9 284.2h1M216.6 271.5h1M229.9 268.0h1M219.8 278.2h1M223.4 293.9h1M214.5 277.1h1M215.7 266.5h1M226.6 275.8h1M225.5 281.4h1M220.3 275.0h1M220.0 279.2h1M223.3 271.1h1M217.0 288.3h1M220.3 281.6h1M226.6 265.5h1M216.8 273.7h1M225.0 286.1h1M221.0 277.2h1M220.8 274.4h1M226.1 272.4h1M224.5 280.2h1M212.8 290.0h1M222.2 272.8h1M227.8 268.8h1M216.1 276.6h1M213.4 275.3h1M220.4 276.8h1M225.8 280.2h1M214.7 266.2h1M223.3 274.0h1M220.0 292.1h1M221.3 276.0h1M223.7 277.3h1M220.6 279.8h1M218.5 271.2h1M222.4 265.8h1M229.8 292.9h1M224.7 276.4h1M225.3 268.2h1M216.6 284.9h1M218.8 274.4h1M214.5 271.2h1M226.5 271.8h1M226.9 265.1h1M223.9 268.4h1M225.8 283.0h1M219.4 278.2h1M219.7 275.2h1M228.1 285.6h1M219.5 282.9h1M227.1 272.5h1M230.5 263.3h1M215.5 274.0h1M217.0 287.9h1M230.7 267.5h1M227.0 292.5h1M230.0 273.3h1M230.7 264.2h1M220.1 273.6h1M232.5 285.7h1M229.1 270.3h1M227.3 279.1h1M223.5 282.2h1M219.9 272.9h1M217.7 286.0h1M214.1 289.7h1M217.3 284.1h1M217.7 263.9h1M222.8 279.0h1M218.1 283.5h1M212.4 286.0h1M222.7 291.0h1M210.9 281.7h1M220.0 277.7h1M213.6 269.6h1M215.3 287.2h1M221.5 268.0h1M228.9 273.5h1M221.1 263.9h1M219.4 275.2h1M223.2 267.0h1M212.4 282.7h1M213.7 278.1h1M225.4 278.8h1M226.0 263.9h1M224.9 274.6h1M222.5 283.4h1M212.4 274.1h1M215.9 277.4h1M219.7 283.7h1M227.0 280.4h1M222.8 281.5h1M222.0 279.4h1M215.7 284.3h1M222.5 275.5h1M223.9 275.5h1M224.9 267.0h1M221.1 275.4h1M232.8 272.4h1M215.6 290.4h1M226.7 267.0h1M215.0 280.5h1M215.0 276.2h1M225.7 276.4h1M219.8 285.9h1M217.9 277.3h1M222.2 269.6h1M235.7 274.7h1M218.7 285.3h1M220.2 279.9h1M228.6 281.1h1M219.0 267.0h1M234.9 281.5h1M215.1 274.8h1M220.9 267.8h1M227.3 278.4h1M220.8 266.1h1M219.4 279.8h1M214.4 291.3h1M221.3 272.9h1M226.7 269.1h1M220.6 286.2h1M216.7 283.4h1M229.2 282.3h1M226.6 261.1h1M225.2 269.8h1M220.8 292.0h1M217.4 271.7h1M228.2 272.2h1M222.4 278.0h1M220.0 279.3h1M221.0 275.9h1M226.5 280.4h1M221.9 268.0h1M219.9 285.1h1M215.9 288.3h1M220.5 268.8h1M220.8 278.5h1M223.7 289.6h1M221.8 290.7h1M219.1 285.4h1M221.3 273.3h1M225.3 279.8h1M221.4 270.0h1M221.0 289.4h1M220.6 280.4h1M220.2 288.7h1M223.8 257.1h1M225.3 272.1h1M220.4 273.5h1M220.9 274.3h1M224.0 266.9h1M226.0 280.0h1M229.3 268.7h1M214.8 293.5h1M226.5 273.3h1M219.4 274.1h1M225.3 270.9h1M226.9 280.8h1M231.8 277.7h1M219.3 270.2h1M209.0 277.3h1M222.3 270.5h1M210.2 279.9h1M218.2 271.2h1M216.0 281.0h1M214.2 269.9h1M221.9 279.3h1M216.1 276.7h1M215.8 286.2h1M217.7 277.1h1M219.1 282.9h1M224.7 274.3h1M219.5 276.2h1M217.0 272.9h1M212.8 269.1h1M225.0 278.1h1M223.4 276.8h1M225.2 289.0h1M218.3 281.8h1M228.3 290.5h1M224.9 292.0h1M234.0 276.8h1M220.0 269.8h1M226.4 274.6h1M230.6 283.5h1M220.7 277.3h1M221.8 286.1h1M219.3 275.2h1M220.5 278.6h1M226.2 283.9h1M223.0 282.5h1M216.3 281.4h1M235.1 276.6h1M218.2 282.9h1M228.2 275.5h1M222.3 285.4h1M225.6 272.1h1M225.1 300.7h1M226.3 278.4h1M226.3 270.0h1M231.3 262.8h1M218.4 271.2h1M215.1 282.2h1M213.2 275.6h1M211.2 289.1h1M224.7 274.2h1M212.7 271.3h1M213.4 276.9h1M223.3 272.9h1M220.5 276.3h1M222.5 268.3h1M207.6 279.5h1M215.1 264.1h1M213.7 280.4h1M221.8 276.5h1M221.7 276.3h1M224.0 270.6h1M228.4 275.6h1M240.4 274.9h1M219.1 264.4h1M225.6 284.4h1M226.8 275.2h1M221.3 281.5h1M216.6 290.7h1M226.6 266.7h1M226.7 268.6h1M224.9 269.2h1M218.1 278.7h1M210.0 272.2h1M216.4 271.9h1M228.4 289.9h1M228.3 274.2h1M216.5 282.0h1M223.3 285.2h1M228.9 287.6h1M229.1 264.7h1M217.0 281.8h1M221.0 283.9h1M221.6 286.5h1M216.1 273.6h1M231.3 272.1h1M212.5 281.2h1M224.2 277.5h1M227.5 273.8h1M224.4 272.2h1M226.0 275.8h1M210.0 278.0h1M222.3 279.5h1M223.7 272.3h1M223.6 269.2h1M215.0 275.6h1M220.8 276.2h1M217.6 287.0h1M229.6 272.8h1M218.5 261.7h1M221.4 295.2h1M221.1 287.4h1M221.0 282.5h1M231.2 279.4h1M229.9 276.2h1M224.1 291.1h1M220.3 268.4h1M219.7 284.1h1M212.1 285.9h1M222.5 296.5h1M223.8 276.6h1M221.2 290.1h1M217.1 282.3h1M228.5 268.4h1M226.3 268.0h1M223.0 287.1h1M230.6 266.4h1M223.5 275.1h1M232.0 288.9h1M221.2 270.4h1M223.0 282.1h1M219.0 294.0h1M227.1 289.0h1M219.6 284.7h1M224.4 271.5h1M222.9 292.1h1M218.2 282.7h1M234.1 275.6h1M228.1 267.8h1M221.0 260.8h1M226.8 279.9h1M224.1 273.7h1M219.9 264.7h1M232.1 282.8h1M226.7 278.7h1M225.6 272.2h1M225.1 273.9h1M225.9 281.4h1M226.4 281.0h1M223.7 270.3h1M223.4 284.8h1M223.0 276.1h1M214.3 271.5h1M221.4 277.0h1M228.9 276.6h1M230.6 285.2h1M223.5 282.9h1M218.1 260.8h1M227.8 266.8h1M218.1 285.0h1M216.9 281.2h1M214.9 271.8h1M211.4 276.1h1M232.4 288.4h1M207.0 291.1h1M217.9 287.3h1M213.1 275.0h1M226.9 274.6h1M218.7 281.5h1M218.2 279.3h1M225.6 280.4h1M230.8 285.4h1M218.0 273.7h1M221.9 277.9h1M216.9 282.6h1M227.1 273.3h1M223.4 277.3h1M222.8 289.3h1M217.7 262.5h1M230.1 278.3h1M220.5 273.9h1M228.4 267.4h1M228.7 274.5h1M215.9 282.1h1M221.0 284.6h1M223.5 271.5h1M216.3 284.3h1M221.6 289.5h1M223.8 278.9h1M213.3 285.5h1M220.5 281.9h1M223.8 282.7h1M219.6 270.9h1M218.9 288.2h1M214.6 283.2h1M222.2 292.4h1M223.2 284.1h1M221.5 271.1h1M229.4 285.6h1M222.1 288.8h1M219.8 286.8h1M231.4 273.5h1M225.8 273.8h1M228.0 287.4h1M229.1 270.3h1M219.4 285.5h1M216.9 280.2h1M231.0 270.8h1M211.9 277.3h1M219.3 274.4h1M230.7 280.1h1M218.6 273.5h1M226.2 276.4h1M217.9 277.0h1M234.9 278.2h1M221.8 286.1h1M226.6 265.3h1M215.1 282.8h1M226.2 271.6h1M225.9 275.5h1M219.8 277.4h1M225.9 289.6h1M221.1 290.2h1M224.4 275.6h1M219.5 276.6h1M219.8 289.9h1M215.6 283.5h1M224.6 292.3h1M221.1 272.7h1M218.5 287.8h1M231.1 272.1h1M221.5 284.1h1M218.3 271.3h1M227.2 282.5h1M223.1 275.4h1M217.8 288.8h1M220.9 267.4h1M225.4 264.8h1M222.8 289.6h1M228.5 285.2h1M227.8 277.5h1M234.1 262.4h1M218.7 285.4h1M222.0 297.4h1M221.0 275.3h1M221.0 275.0h1M222.6 271.1h1M220.4 281.8h1M227.1 276.1h1M215.7 267.1h1M222.6 272.0h1M225.6 284.6h1M227.7 267.6h1M222.2 279.7h1M224.0 285.4h1M222.6 283.6h1M225.0 262.9h1M221.4 282.4h1M226.2 267.9h1M233.5 277.5h1M220.5 265.0h1M226.8 274.6h1M223.8 287.0h1M224.6 281.4h1M220.0 276.9h1M223.0 284.7h1M225.4 277.3h1M222.5 283.7h1M220.2 286.8h1M228.9 268.1h1M223.1 290.4h1M221.2 276.6h1M222.5 277.9h1M221.2 279.1h1M218.4 276.1h1M225.2 273.3h1M221.1 281.9h1M215.7 274.0h1M227.7 279.9h1M220.5 283.6h1M214.6 274.5h1M221.9 274.9h1M218.5 282.4h1M223.3 276.9h1M215.9 283.8h1M220.0 277.4h1M213.5 276.7h1M214.9 277.3h1M222.7 279.7h1M219.1 287.3h1M230.3 262.3h1M218.2 274.4h1M223.0 274.1h1M215.3 272.6h1M230.1 271.9h1M222.4 286.6h1M214.0 287.2h1M223.4 272.4h1M219.5 266.6h1M233.6 278.1h1M228.0 279.9h1M218.0 269.0h1M226.0 278.1h1M224.7 280.2h1M220.3 283.0h1M220.4 273.8h1M220.8 281.7h1M217.0 277.3h1M223.7 283.8h1M219.5 280.0h1M221.7 282.4h1M220.3 277.9h1M218.3 276.3h1M232.5 276.9h1M223.8 283.8h1M225.8 273.7h1M236.6 277.0h1M222.0 296.6h1M218.4 273.2h1M213.1 269.0h1M214.6 271.6h1M225.6 274.4h1M214.8 279.0h1M211.3 262.3h1M222.4 261.8h1M221.8 283.6h1M231.2 264.4h1M214.5 284.5h1M227.7 285.8h1M229.0 280.2h1M223.7 277.4h1M217.2 275.9h1M223.6 303.4h1M221.5 305.3h1M224.3 299.1h1M230.5 295.3h1M223.2 300.1h1M216.0 290.9h1M228.4 314.0h1M227.1 309.8h1M228.7 325.1h1M223.6 306.3h1M226.0 301.9h1M231.2 316.6h1M221.5 302.1h1M218.9 316.5h1M228.7 302.4h1M220.2 289.8h1M227.3 303.8h1M219.3 304.1h1M219.6 312.0h1M223.3 302.7h1M223.4 309.4h1M218.2 309.3h1M229.6 298.7h1M219.8 296.4h1M225.2 299.9h1M217.6 291.5h1M219.0 307.7h1M219.2 312.9h1M222.6 303.8h1M222.6 300.8h1M222.9 295.7h1M222.0 312.9h1M226.3 316.8h1M226.2 286.3h1M219.8 326.1h1M222.6 321.3h1M224.1 301.8h1M225.3 306.7h1M224.3 308.3h1M220.3 310.5h1M220.4 303.3h1M222.3 310.6h1M224.2 312.8h1M217.2 306.1h1M220.0 300.7h1M222.3 316.2h1M218.8 306.5h1M219.9 308.2h1M218.1 307.7h1M224.3 303.4h1M212.5 302.6h1M221.8 302.3h1M218.7 299.7h1M222.0 302.7h1M222.8 324.0h1M207.7 306.2h1M227.2 299.4h1M225.3 297.4h1M229.3 318.0h1M225.6 301.1h1M226.2 308.3h1M224.5 290.6h1M229.4 287.3h1M215.6 309.1h1M221.4 291.1h1M217.5 308.8h1M226.0 314.8h1M223.1 298.9h1M229.6 301.9h1M222.6 302.5h1M221.1 300.0h1M221.1 302.9h1M218.4 302.5h1M212.3 304.5h1M221.7 307.1h1M219.8 311.3h1M219.8 310.9h1M216.5 307.1h1M222.3 299.3h1M217.0 311.2h1M223.2 314.0h1M220.8 307.9h1M220.3 303.1h1M214.4 326.4h1M223.4 285.9h1M226.0 312.4h1M221.2 308.7h1M219.1 320.5h1M224.8 323.7h1M225.6 312.6h1M219.8 302.5h1M234.8 311.9h1M227.7 296.0h1M229.0 307.5h1M223.8 299.7h1M223.8 311.3h1M217.2 290.5h1M220.6 303.6h1M222.1 308.5h1M225.2 304.6h1M219.5 303.6h1M217.9 299.8h1M227.4 304.5h1M222.4 320.2h1M226.3 301.3h1M222.4 294.9h1M219.0 297.2h1M221.8 302.7h1M210.2 313.1h1M226.5 304.3h1M224.5 313.9h1M227.4 319.4h1M220.8 298.6h1M231.2 308.8h1M227.7 304.0h1M213.5 315.2h1M213.4 314.2h1M223.1 310.2h1M215.3 296.4h1M221.1 303.5h1M221.0 305.8h1M220.4 305.9h1M229.0 300.9h1M224.5 308.9h1M224.9 310.6h1M223.0 309.6h1M236.0 299.5h1M228.1 303.0h1M218.6 295.9h1M224.5 299.9h1M218.3 312.2h1M221.0 304.6h1M221.4 305.0h1M215.2 316.4h1M213.0 301.3h1M216.1 306.7h1M224.4 293.1h1M208.6 315.0h1M224.7 304.9h1M211.7 313.9h1M218.0 313.6h1M219.3 306.2h1M225.3 311.6h1M221.8 293.3h1M216.6 301.7h1M219.0 289.1h1M223.0 315.6h1M227.0 312.1h1M223.1 319.7h1M221.3 319.0h1M220.6 321.0h1M229.3 304.9h1M217.9 293.0h1M219.6 303.0h1M223.5 325.9h1M227.9 311.8h1M213.6 317.5h1M226.4 313.8h1M227.3 312.1h1M223.0 303.7h1M212.8 296.4h1M218.4 314.9h1M221.1 298.3h1M223.1 322.0h1M215.9 311.9h1M220.6 312.9h1M225.2 306.9h1M219.2 291.0h1M220.3 298.6h1M219.6 315.5h1M215.0 295.1h1M220.1 295.6h1M220.7 320.5h1M225.3 287.3h1M218.0 305.9h1M215.5 310.1h1M219.4 324.9h1M217.5 316.6h1M224.4 310.9h1M219.1 290.5h1M214.3 304.2h1M224.7 290.8h1M221.4 309.2h1M222.6 293.8h1M223.7 316.0h1M226.8 312.6h1M217.4 301.7h1M224.7 310.6h1M222.1 308.8h1M222.0 307.8h1M221.3 306.8h1M219.5 313.6h1M222.8 307.4h1M221.9 303.3h1M225.0 310.2h1M228.9 300.3h1M217.0 318.1h1M231.1 314.4h1M226.9 287.7h1M216.3 304.1h1M221.1 305.6h1M221.8 306.1h1M227.4 311.3h1M217.1 319.1h1M229.9 320.5h1M216.6 288.7h1M220.0 314.9h1M218.8 289.3h1M215.8 316.5h1M216.4 310.9h1M219.0 299.3h1M220.5 302.2h1M218.8 302.2h1M217.3 318.1h1M209.4 301.4h1M220.4 302.9h1M230.7 310.5h1M229.7 322.0h1M227.3 301.3h1M219.9 309.3h1M224.2 299.9h1M219.2 316.2h1M219.5 295.9h1M222.5 310.3h1M226.6 310.5h1M219.4 303.1h1M218.6 317.4h1M221.6 324.1h1M214.7 306.8h1M225.9 309.8h1M226.7 308.5h1M227.4 317.7h1M225.5 314.3h1M219.0 307.5h1M220.7 306.1h1M217.3 299.7h1M223.3 304.2h1M232.2 306.8h1M217.1 322.3h1M224.9 314.8h1M228.4 286.8h1M216.8 301.8h1M232.0 318.1h1M218.6 317.2h1M221.3 290.2h1M223.8 305.7h1M226.2 321.4h1M225.6 300.0h1M220.6 302.8h1M218.7 307.5h1M210.6 297.1h1M219.4 316.6h1M227.8 308.4h1M218.0 308.5h1M224.7 300.4h1M225.2 316.4h1M222.6 303.4h1M219.2 299.2h1M219.2 305.0h1M221.6 294.3h1M213.4 301.2h1M228.5 328.1h1M216.8 299.2h1M218.8 298.2h1M218.8 306.7h1M220.4 309.6h1M223.6 310.5h1M227.6 308.9h1M222.9 291.0h1M229.4 302.2h1M220.1 285.9h1M225.1 313.1h1M225.6 310.4h1M222.5 314.3h1M225.0 292.1h1M217.0 287.5h1M228.2 307.2h1M225.7 297.2h1M222.7 295.4h1M220.2 298.7h1M225.9 292.0h1M216.6 289.2h1M225.4 309.8h1M226.3 309.2h1M233.9 313.5h1M221.4 309.3h1M228.4 307.2h1M224.9 310.5h1M214.2 303.5h1M215.7 307.4h1M219.3 304.7h1M227.5 285.1h1M228.8 309.9h1M220.7 322.5h1M224.0 320.7h1M223.0 304.3h1M210.0 309.7h1M227.1 308.4h1M228.7 322.7h1M211.2 322.0h1M217.4 299.3h1M221.5 299.1h1M221.5 302.1h1M226.9 300.8h1M227.5 320.9h1M219.2 288.4h1M225.1 295.9h1M218.8 293.1h1M220.4 300.1h1M223.0 312.3h1M224.5 296.3h1M218.9 313.9h1M231.0 322.0h1M222.9 308.0h1M221.9 317.8h1M225.6 304.3h1M218.9 309.8h1M223.4 303.9h1M210.1 316.9h1M213.7 309.6h1M220.1 312.7h1M219.6 314.9h1M220.2 316.2h1M218.8 297.5h1M224.7 309.1h1M227.7 299.7h1M219.4 302.8h1M226.9 306.5h1M223.7 312.1h1M216.1 306.3h1M215.4 304.4h1M222.1 318.8h1M227.1 310.9h1M217.5 286.6h1M211.8 310.3h1M226.5 302.3h1M227.4 312.7h1M220.8 313.8h1M227.1 322.3h1M231.6 303.2h1M217.8 314.7h1M220.0 305.0h1M220.1 300.2h1M227.1 292.0h1M217.8 309.2h1M220.4 320.2h1M228.0 304.6h1M226.8 316.6h1M227.0 307.4h1M217.5 314.3h1M224.1 305.1h1M219.2 311.8h1M226.4 297.2h1M224.4 313.5h1M225.3 324.2h1M221.1 316.8h1M222.7 301.6h1M223.8 289.0h1M221.0 308.5h1M223.5 296.0h1M217.3 305.5h1M216.3 316.0h1M213.8 285.4h1M221.3 304.2h1M226.0 305.1h1M224.0 313.5h1M212.5 310.5h1M223.9 322.6h1M222.2 310.8h1M221.2 313.3h1M223.1 287.8h1M224.7 306.6h1M228.5 303.7h1M227.9 306.2h1M231.1 316.5h1M224.8 295.2h1M219.2 282.5h1M228.4 323.9h1M216.3 305.1h1M226.0 303.0h1M217.2 320.1h1M219.3 314.3h1M227.8 308.6h1M219.1 309.7h1M227.1 313.7h1M225.1 298.2h1M221.4 307.9h1M225.6 326.3h1M224.9 312.3h1M222.8 309.9h1M219.1 325.9h1M226.0 309.3h1M220.5 322.5h1M221.8 310.2h1M224.2 305.1h1M221.6 310.9h1M223.3 310.0h1M223.5 294.1h1M223.4 326.6h1M222.7 312.1h1M228.6 327.8h1M219.8 300.2h1M220.1 303.6h1M216.2 295.3h1M211.0 305.6h1M225.2 313.2h1M224.3 326.9h1M228.9 302.9h1M215.2 304.1h1M218.4 316.4h1M219.4 312.0h1M231.3 300.9h1M226.4 302.8h1M221.2 300.8h1M221.9 318.6h1M223.5 301.7h1M216.7 304.0h1M223.6 318.2h1M217.0 301.6h1M222.5 316.9h1M225.3 293.6h1M223.3 301.0h1M218.7 320.1h1M220.7 312.8h1M225.7 298.4h1M219.6 295.9h1M215.6 291.5h1M220.7 310.2h1M219.5 304.6h1M221.0 309.8h1M221.9 306.2h1M220.3 318.8h1M226.2 292.4h1M224.6 309.4h1M226.4 295.2h1M222.2 309.0h1M220.1 304.2h1M223.3 309.2h1M215.0 303.7h1M216.5 287.0h1M225.8 312.6h1M219.6 289.4h1M218.7 298.1h1M216.7 299.8h1M223.9 308.4h1M216.2 295.2h1M227.5 305.3h1M222.7 307.5h1M213.6 325.2h1M219.4 300.5h1M217.0 309.3h1M224.3 313.1h1M224.2 305.2h1M219.5 308.7h1M218.8 316.1h1M223.8 300.6h1M218.8 279.5h1M228.0 304.2h1M218.6 309.7h1M223.4 311.8h1M212.5 311.6h1M223.5 318.1h1M218.8 307.6h1M223.0 301.3h1M226.9 296.2h1M220.9 294.4h1M209.9 316.0h1M212.1 301.1h1M222.1 299.1h1M217.5 321.1h1M216.2 294.2h1M226.4 315.0h1M220.6 297.2h1M226.0 301.7h1M225.9 301.7h1M219.8 310.3h1M222.2 303.2h1M216.0 315.6h1M223.5 300.8h1M221.4 324.5h1M229.0 303.0h1M225.5 289.2h1M220.8 297.3h1M218.3 297.5h1M220.5 309.3h1M221.5 293.4h1M225.0 317.7h1M226.3 297.8h1M215.9 301.7h1M216.6 316.8h1M223.1 286.1h1M215.8 326.9h1M221.0 298.1h1M213.1 287.9h1M219.9 321.1h1M219.3 304.5h1M220.0 289.3h1M218.4 312.6h1M223.7 322.2h1M225.6 322.2h1M224.9 312.4h1M220.2 296.9h1M220.0 301.4h1M218.3 314.6h1M218.1 310.9h1M220.7 303.7h1M220.6 320.7h1M220.4 294.2h1M222.5 322.5h1M225.4 295.9h1M218.5 301.7h1M220.3 305.7h1M224.0 314.4h1M222.4 318.4h1M217.7 291.4h1M216.0 297.5h1M224.5 299.7h1M216.5 305.2h1M223.4 298.7h1M216.8 295.8h1M229.7 321.4h1M216.6 313.6h1M230.0 306.9h1M225.0 315.7h1M228.0 304.4h1M227.3 291.5h1M224.1 288.3h1M220.2 312.6h1M233.1 306.0h1M219.8 305.8h1M222.6 296.8h1M215.4 308.1h1M221.7 309.0h1M224.4 320.2h1M218.4 319.3h1M222.4 300.5h1M220.4 324.8h1M220.1 315.9h1M224.6 321.8h1M225.8 305.2h1M218.3 316.9h1M213.7 291.3h1M223.9 318.6h1M216.7 299.6h1M219.6 311.0h1M217.9 300.3h1M226.4 307.0h1M231.9 307.6h1M219.0 294.1h1M231.8 308.3h1M222.5 316.5h1M220.2 307.9h1M226.9 318.3h1M230.7 329.7h1M220.6 308.2h1M220.2 320.6h1M230.4 308.8h1M225.8 295.8h1M208.6 314.8h1M220.9 295.1h1M218.0 307.4h1M218.9 329.5h1M222.3 300.1h1M219.5 295.9h1M219.8 303.3h1M231.4 311.3h1M214.1 315.4h1M222.4 301.2h1M224.4 300.7h1M214.9 312.9h1M216.4 306.2h1M216.4 317.1h1M225.6 298.9h1M216.6 320.9h1M224.0 309.7h1M216.1 306.4h1M215.8 291.0h1M223.7 303.8h1M225.5 305.9h1M215.3 318.2h1M216.9 308.6h1M222.8 297.0h1M217.1 293.2h1M216.2 315.7h1M216.5 295.4h1M223.0 324.1h1M209.3 309.4h1M229.8 301.8h1M229.1 298.7h1M227.5 320.6h1M220.6 305.4h1M218.4 308.6h1M224.1 287.0h1M216.4 308.3h1M231.7 296.7h1M218.7 284.3h1M227.1 304.5h1M225.3 305.5h1M219.5 294.5h1M217.7 295.2h1M222.0 297.9h1M224.4 309.5h1M221.6 309.9h1M219.9 309.5h1M221.7 304.1h1M227.4 321.9h1M225.8 298.7h1M223.9 288.3h1M218.6 296.3h1M219.4 305.2h1M223.9 307.5h1M219.7 326.5h1M218.3 305.8h1M228.0 302.1h1M222.1 301.3h1M222.7 298.5h1M218.8 313.8h1M222.9 294.8h1M225.4 320.3h1M222.8 297.3h1M214.6 300.0h1M219.3 307.1h1M224.1 290.4h1M222.6 307.9h1M226.2 306.5h1M220.1 320.0h1M221.3 313.9h1M225.8 282.6h1M221.3 310.3h1M225.5 296.7h1M213.2 296.9h1M217.0 298.3h1M225.8 326.6h1M225.3 302.3h1M225.1 306.7h1M225.8 315.6h1M225.8 324.8h1M216.2 302.8h1M229.0 308.0h1M225.5 309.2h1M215.9 307.4h1M215.2 304.5h1M223.3 295.3h1M218.2 301.4h1M223.8 298.6h1M220.0 296.7h1M214.3 301.2h1M217.4 305.9h1M219.6 299.8h1M221.3 302.6h1M225.1 315.4h1M218.3 313.8h1M223.6 296.9h1M220.3 288.6h1M210.5 304.6h1M219.0 324.0h1M214.6 306.0h1M224.6 324.1h1M226.5 310.8h1M223.4 305.8h1M231.1 301.0h1M222.6 304.9h1M225.3 297.5h1M219.8 309.5h1M223.1 306.1h1M216.6 311.8h1M219.9 311.9h1M226.2 295.8h1M221.3 309.6h1M219.8 306.9h1M220.8 317.1h1M223.7 322.8h1M227.8 302.6h1M214.3 285.7h1M221.3 306.1h1M220.7 305.9h1M220.2 296.7h1M221.2 310.5h1M223.8 304.1h1M226.9 313.0h1M213.2 294.0h1M215.7 309.1h1M221.9 304.4h1M214.5 304.3h1M223.5 316.0h1M217.3 300.4h1M220.7 302.4h1M215.8 313.9h1M217.0 291.4h1M234.2 313.2h1M219.7 299.3h1M228.1 283.7h1M221.1 320.3h1M224.3 322.5h1M217.5 307.2h1M223.6 296.2h1M218.8 288.7h1M207.7 309.3h1M208.7 321.2h1M220.6 291.3h1M224.4 305.6h1M217.5 321.5h1M216.2 313.9h1M218.5 304.2h1M229.0 326.3h1M212.5 293.3h1M224.3 311.2h1M226.6 316.4h1M214.7 292.6h1M216.7 301.1h1M219.3 301.9h1M225.7 305.4h1M221.5 305.0h1M218.6 300.5h1M226.9 326.0h1M219.4 297.5h1M217.3 298.7h1M225.6 312.1h1M229.4 308.2h1M228.6 309.9h1M225.1 299.0h1M220.5 288.3h1M225.2 307.8h1M224.1 296.8h1M221.3 308.2h1M226.4 309.1h1M225.7 310.6h1M215.5 300.3h1M224.9 308.5h1M216.8 295.5h1M222.1 306.6h1M220.9 311.2h1M223.9 306.8h1M219.2 278.8h1M219.9 312.2h1M219.2 298.8h1M219.3 316.1h1M214.8 307.4h1M224.1 306.3h1M218.9 311.3h1M223.3 300.1h1M221.6 307.0h1M223.6 303.0h1M224.4 312.1h1M215.5 315.5h1M221.1 298.4h1M222.6 302.2h1M218.4 298.6h1M218.6 324.5h1M223.4 298.9h1M227.8 305.9h1M224.3 304.3h1M225.0 297.5h1M223.2 312.0h1M230.8 303.9h1M221.9 316.9h1M226.0 297.5h1M237.8 310.0h1M223.5 328.5h1M221.7 315.5h1M214.4 306.5h1M214.1 315.7h1M231.9 294.8h1M222.0 311.5h1M217.4 310.3h1M219.4 311.8h1M216.4 312.0h1M221.7 313.8h1M218.7 300.8h1M224.5 301.6h1M228.8 296.5h1M224.1 311.5h1M222.0 289.0h1M221.9 305.5h1M228.3 298.5h1M215.5 308.5h1M217.2 328.5h1M219.1 301.3h1M216.1 317.2h1M224.2 320.2h1M220.0 295.5h1M217.2 304.9h1M224.4 309.0h1M221.4 298.4h1M223.7 302.3h1M221.7 304.4h1M219.3 308.1h1M216.7 301.4h1M224.0 317.7h1M217.4 312.0h1M226.7 305.8h1M223.0 309.5h1M221.6 289.9h1M217.9 292.0h1M229.6 293.5h1M220.5 308.5h1M224.4 321.0h1M218.7 301.8h1M227.3 295.4h1M223.8 297.4h1M226.7 308.5h1M225.8 293.9h1M221.2 297.9h1M217.7 312.9h1M222.2 318.4h1M218.8 307.6h1M220.1 306.2h1M230.0 303.4h1M226.4 312.0h1M223.5 278.3h1M225.1 308.4h1M226.3 308.4h1M223.1 303.2h1M221.8 303.0h1M222.7 310.4h1M224.4 301.8h1M231.9 312.6h1M216.7 298.8h1M222.4 310.3h1M219.7 315.2h1M233.4 296.5h1M219.7 316.1h1M228.2 310.3h1M225.1 309.1h1M224.6 319.1h1M227.3 310.7h1M224.2 298.0h1M220.9 312.6h1M231.2 317.5h1M216.8 303.1h1M213.5 304.1h1M218.6 304.0h1M225.6 301.9h1M219.1 298.8h1M222.8 313.7h1M226.7 317.0h1M225.6 293.9h1M224.3 305.1h1M227.6 303.6h1M222.6 313.5h1M227.5 316.8h1M223.4 310.5h1M229.6 317.8h1M227.6 315.5h1M222.8 313.0h1M228.0 311.6h1M226.9 317.0h1M226.5 301.6h1M224.2 296.0h1M217.2 314.9h1M220.2 315.7h1M226.9 322.4h1M228.7 306.0h1M215.4 295.7h1M218.3 310.5h1M213.0 320.6h1M216.3 301.1h1M225.5 305.4h1M219.7 301.5h1M224.9 292.2h1M229.3 318.3h1M214.4 302.6h1M223.2 322.2h1M224.1 302.8h1M224.7 290.0h1M227.6 297.7h1M228.2 297.4h1M225.4 299.9h1M218.3 304.4h1M228.2 303.0h1M232.9 322.3h1M217.6 285.1h1M222.3 296.8h1M224.5 307.5h1M221.1 313.7h1M224.0 307.5h1M224.2 306.2h1M228.1 311.6h1M221.2 304.7h1M222.1 303.7h1M232.0 310.0h1M228.0 292.6h1M220.7 306.6h1M217.1 298.9h1M222.6 308.9h1M225.3 304.6h1M221.7 318.4h1M216.2 311.7h1M216.8 309.3h1M219.4 298.9h1M222.7 311.7h1M223.9 286.0h1M227.9 314.9h1M219.1 314.5h1M218.5 308.3h1M214.2 312.8h1M217.5 293.1h1M221.2 301.7h1M220.9 297.9h1M221.3 312.0h1M223.2 312.0h1M220.4 321.5h1M215.4 296.6h1M223.1 298.0h1M223.9 310.5h1M218.4 300.6h1M237.8 300.1h1M210.2 312.4h1M214.9 306.5h1M219.4 301.0h1M219.4 316.9h1M217.7 305.4h1M223.2 293.1h1M227.5 304.5h1M224.7 306.4h1M223.2 299.9h1M229.6 316.2h1M214.9 309.1h1M221.2 313.1h1M222.5 314.9h1M220.5 304.1h1M221.4 304.5h1M221.0 307.6h1M219.0 303.1h1M216.4 320.4h1M216.9 298.6h1M220.5 294.2h1M224.0 312.1h1M224.5 305.1h1M225.5 293.5h1M210.4 313.8h1M217.6 314.2h1M216.3 298.9h1M221.9 295.9h1M221.9 314.6h1M219.9 313.8h1M226.6 314.5h1M219.6 304.1h1M222.4 315.3h1M224.4 322.9h1M224.1 314.2h1M220.3 313.7h1M228.4 318.2h1M225.3 312.1h1M226.5 307.6h1M223.0 310.9h1M222.8 316.6h1M218.1 310.5h1M212.6 314.0h1M216.4 303.8h1M214.4 306.6h1M221.6 293.6h1M214.9 315.9h1M219.3 310.8h1M217.3 297.8h1M221.8 311.8h1M220.9 300.0h1M228.4 312.3h1M226.1 325.6h1M229.3 308.7h1M222.3 300.6h1M213.3 303.1h1M226.6 309.7h1M231.2 303.3h1M219.9 313.4h1M228.7 289.5h1M221.1 320.3h1M222.4 305.8h1M221.3 306.8h1M219.0 319.2h1M219.7 316.2h1M213.5 290.2h1M222.6 293.9h1M222.5 315.2h1M225.3 303.2h1M221.6 298.3h1M223.9 314.3h1M232.6 305.5h1M226.6 310.5h1M221.2 298.9h1M223.1 302.4h1M222.0 304.9h1M228.0 309.2h1M219.4 316.2h1M226.9 291.4h1M223.8 299.0h1M209.2 299.5h1M224.1 307.6h1M219.1 299.6h1M217.5 307.1h1M221.8 316.9h1M223.3 307.7h1M233.6 317.9h1M222.2 306.3h1M217.7 289.5h1M221.3 306.1h1M224.1 309.2h1M217.4 300.3h1M220.7 305.1h1M214.1 318.4h1M215.9 310.8h1M219.8 296.3h1M225.4 294.5h1M217.5 312.6h1M217.8 312.0h1M221.4 295.2h1M217.0 304.5h1M219.2 307.2h1M217.4 315.7h1M230.1 314.1h1M219.6 328.6h1M228.5 300.1h1M222.4 289.6h1M230.3 305.6h1M217.1 316.0h1M222.7 295.9h1M210.3 296.5h1M228.0 308.7h1M224.8 306.8h1M220.1 318.7h1M231.5 302.0h1M229.1 314.9h1M229.5 315.0h1M222.1 294.2h1M217.9 311.0h1M214.6 323.9h1M226.9 304.1h1M212.8 323.5h1M220.9 314.2h1M230.1 318.2h1M223.6 310.7h1M215.8 316.4h1M217.7 290.0h1M228.0 305.3h1M216.8 302.3h1M219.7 307.4h1M215.1 302.6h1M221.6 294.8h1M218.9 310.4h1M226.8 309.5h1M217.1 306.4h1M219.8 315.4h1M210.5 303.0h1M228.1 315.4h1M227.6 313.8h1M220.5 298.1h1M222.6 314.3h1M224.0 303.8h1M227.0 309.9h1M213.9 302.7h1M217.5 319.1h1M232.7 311.1h1M227.4 281.4h1M224.7 297.5h1M222.0 294.5h1M225.9 303.8h1M226.1 313.0h1M226.1 307.2h1M216.8 289.9h1M222.0 286.3h1M223.8 306.5h1M223.3 303.7h1M216.9 314.3h1M220.8 311.8h1M217.2 308.8h1M219.9 319.8h1M223.0 309.8h1M224.6 313.3h1M224.7 302.1h1M226.8 310.3h1M222.6 322.7h1M215.9 295.8h1M222.2 294.6h1M219.7 302.0h1M213.7 317.1h1M218.9 307.0h1M223.9 299.5h1M226.8 312.1h1M221.3 305.9h1M215.2 306.4h1M221.6 293.8h1M218.3 288.7h1M227.9 310.7h1M215.8 301.2h1M226.0 313.2h1M220.8 325.7h1M223.8 314.5h1M218.4 295.0h1M224.4 309.1h1M221.8 300.9h1M221.0 309.5h1M216.7 315.1h1M219.2 303.5h1M212.7 312.0h1M224.4 307.9h1M220.4 311.3h1M229.0 314.6h1M214.6 306.1h1M229.5 317.4h1M224.1 319.0h1M219.7 298.3h1M224.2 305.1h1M215.8 306.3h1M215.3 288.2h1M227.7 297.9h1M212.2 318.7h1M221.9 312.2h1M228.5 307.3h1M222.4 308.6h1M228.3 315.8h1M220.8 295.4h1M218.6 320.8h1M227.5 301.2h1M226.2 303.0h1M221.5 296.7h1M228.6 309.6h1M216.4 298.4h1M226.9 305.7h1M220.0 297.9h1M223.0 317.5h1M222.4 318.9h1M222.8 299.2h1M224.5 293.6h1M228.8 294.1h1M228.8 313.8h1M222.4 293.8h1M222.3 297.9h1M217.2 305.5h1M230.0 320.4h1M226.5 306.9h1M219.0 303.7h1M222.9 312.8h1M229.3 290.2h1M218.6 296.0h1M223.3 315.6h1M222.0 316.8h1M220.6 311.7h1M222.4 310.2h1M212.4 303.6h1M226.8 304.2h1M219.8 323.2h1M222.6 297.0h1M215.2 318.5h1M233.2 306.0h1M224.8 291.6h1M212.6 311.8h1M219.0 298.8h1M220.4 310.3h1M217.2 309.9h1M215.4 328.5h1M215.6 300.8h1M217.8 287.7h1M222.7 310.4h1M223.0 312.6h1M228.0 304.2h1M221.1 299.4h1M211.0 311.2h1M221.1 313.1h1M227.1 302.5h1M216.2 314.5h1M222.7 307.0h1M223.4 305.8h1M216.9 295.1h1M220.8 300.2h1M216.9 312.9h1M228.8 318.5h1M225.0 317.4h1M222.1 305.7h1M225.2 305.1h1M225.1 298.4h1M217.7 299.0h1M215.5 303.1h1M214.9 315.7h1M215.7 317.8h1M225.8 309.9h1M227.1 311.9h1M229.2 297.6h1M215.4 304.8h1M221.8 313.2h1M227.7 307.1h1M230.4 312.0h1M220.3 294.1h1M220.0 320.9h1M220.0 303.5h1M223.9 300.5h1M225.7 307.5h1M226.6 271.3h1M219.7 303.3h1M228.9 325.5h1M217.0 301.0h1M224.9 315.5h1M228.4 290.5h1M227.3 293.1h1M224.0 291.3h1M220.1 319.6h1M221.6 288.4h1M218.4 309.2h1M218.6 298.6h1M217.1 312.7h1M227.3 296.2h1M216.3 299.9h1M218.6 310.0h1M228.4 289.8h1M223.8 287.0h1M230.3 325.6h1M229.5 307.2h1M224.1 311.2h1M227.3 306.5h1M216.6 309.9h1M223.2 306.6h1M230.5 310.4h1M224.3 294.6h1M223.5 281.6h1M235.2 300.1h1M226.1 321.4h1M215.2 300.3h1M227.7 289.0h1M210.0 321.1h1M224.6 316.5h1M224.0 300.9h1M219.9 313.8h1M218.4 311.7h1M220.1 294.6h1M235.3 318.2h1M216.9 312.7h1M218.3 311.0h1M221.3 317.2h1M220.3 288.2h1M230.5 305.6h1M223.8 321.5h1M221.5 318.9h1M225.8 292.6h1M223.7 312.7h1M221.4 300.4h1M220.8 310.3h1M221.5 299.4h1M221.5 319.8h1M220.2 326.9h1M221.9 317.0h1M228.4 317.3h1M216.2 309.0h1M224.1 305.4h1M225.8 321.5h1M221.8 315.4h1M222.1 310.1h1M227.7 301.2h1M220.2 296.6h1M225.1 315.6h1M224.9 315.6h1M223.2 307.4h1M223.3 308.2h1M226.2 293.6h1M229.3 300.5h1M217.1 298.0h1M227.3 312.6h1M219.0 305.4h1M218.0 307.3h1M223.1 300.2h1M223.2 308.0h1M213.9 291.4h1M230.1 324.1h1M220.1 307.6h1M225.5 312.0h1M224.1 311.5h1M225.2 299.2h1M222.7 320.5h1M223.7 309.0h1M222.6 305.9h1M220.6 317.2h1M227.6 298.7h1M223.0 313.7h1M223.9 324.3h1M219.5 302.8h1M219.2 311.7h1M223.1 294.8h1M215.5 309.8h1M229.1 310.2h1M220.4 291.8h1M220.7 323.0h1M219.8 327.0h1M222.9 289.4h1M224.7 311.5h1M225.6 303.5h1M219.0 305.0h1M216.9 311.4h1M221.6 308.0h1M221.6 305.5h1M218.7 310.1h1M228.1 303.6h1M217.3 309.5h1M218.0 300.9h1M226.7 315.8h1M239.8 303.4h1M223.0 268.5h1M220.2 297.8h1M234.2 323.8h1M206.0 281.8h1M221.2 302.3h1M213.1 291.5h1M218.0 319.2h1M213.6 297.0h1M220.2 281.6h1M233.0 301.0h1M215.4 301.4h1M220.7 294.7h1M232.2 282.9h1M226.9 267.4h1M228.8 292.1h1M221.5 263.6h1M218.1 277.2h1M218.7 294.1h1M219.2 312.0h1M211.3 308.8h1M202.5 261.2h1M218.0 310.2h1M217.6 296.6h1M231.6 294.5h1M232.2 308.6h1M223.0 295.9h1M219.5 311.7h1M226.1 281.9h1M218.0 290.6h1M220.4 308.5h1M215.1 283.2h1M216.7 283.0h1M227.2 294.0h1M218.8 265.0h1M226.5 288.5h1M222.3 274.4h1M222.9 319.2h1M225.1 315.3h1M203.7 305.4h1M224.8 296.5h1M234.6 286.2h1M226.8 299.0h1M243.9 298.4h1M233.4 287.7h1M223.6 299.3h1M211.6 271.2h1M219.9 275.3h1M220.6 297.8h1M223.2 270.7h1M225.6 312.8h1M211.2 300.5h1M226.7 282.0h1M220.0 312.7h1M216.8 297.1h1M211.5 322.5h1M224.1 289.1h1M218.0 283.2h1M203.3 300.7h1M222.9 274.3h1M220.6 311.3h1M208.2 299.6h1M219.9 292.1h1M225.5 296.2h1M211.7 270.5h1M217.6 287.0h1M225.3 286.5h1M216.3 297.2h1M199.8 291.5h1M224.0 280.1h1M220.3 284.9h1M233.9 293.2h1M213.5 311.9h1M226.0 300.5h1M209.6 287.7h1M224.6 285.8h1M219.0 283.4h1M223.9 309.5h1M221.5 298.8h1M220.6 283.1h1M235.3 316.6h1M232.0 306.9h1M222.1 277.4h1M214.2 302.0h1M215.1 296.0h1M231.1 299.4h1M222.4 305.4h1M215.9 286.6h1M216.4 283.3h1M233.6 272.8h1M223.1 297.9h1M214.6 291.1h1M234.9 261.4h1M225.3 293.2h1M210.3 299.6h1M211.5 295.6h1M224.7 287.5h1M215.8 305.7h1M218.3 282.5h1M237.4 265.8h1M238.7 319.5h1M237.4 266.7h1M226.2 297.8h1M224.4 324.4h1M212.6 284.2h1M212.2 314.5h1M223.1 288.8h1M223.5 288.1h1M230.4 261.2h1M229.2 304.6h1M226.3 281.4h1M227.6 306.4h1M224.5 277.1h1M233.5 295.1h1M213.0 295.5h1M239.2 316.7h1M181.4 315.4h1M168.0 312.7h1M182.2 307.8h1M175.0 312.7h1M171.2 308.0h1M172.7 312.7h1M182.3 312.6h1M165.0 311.3h1M172.5 312.5h1M168.4 315.3h1M175.8 313.6h1M173.9 308.8h1M167.8 315.3h1M174.0 310.7h1M174.3 309.9h1M173.3 312.9h1M176.3 311.8h1M183.5 316.2h1M175.5 314.5h1M175.9 311.5h1M179.8 322.5h1M174.0 319.4h1M174.0 304.5h1M171.5 307.7h1M171.1 309.7h1M170.6 319.5h1M176.6 308.5h1M159.5 315.6h1M172.2 312.9h1M176.6 318.8h1M182.2 311.1h1M185.2 314.5h1M165.0 314.4h1M170.8 320.3h1M174.5 316.2h1M163.5 318.8h1M170.5 313.2h1M176.1 313.2h1M173.5 318.7h1M162.8 324.1h1M180.1 312.8h1M169.1 317.0h1M175.4 309.5h1M163.9 322.3h1M174.7 309.1h1M181.0 315.2h1M181.5 315.2h1M181.1 309.8h1M178.6 308.4h1M169.2 314.3h1M165.8 319.7h1M184.6 306.5h1M166.8 313.3h1M169.1 302.8h1M180.1 312.5h1M175.9 308.6h1M184.0 310.3h1M172.3 314.2h1M182.4 309.7h1M194.6 314.6h1M171.2 319.5h1M175.0 319.3h1M171.6 313.9h1M174.2 311.9h1M172.3 317.7h1M180.3 317.8h1M181.6 310.7h1M177.0 313.5h1M181.0 312.1h1M168.9 318.2h1M178.4 311.2h1M171.6 304.1h1M182.7 315.6h1M178.0 317.7h1M162.6 316.6h1M175.4 317.7h1M166.7 314.9h1M173.4 308.6h1M182.3 314.6h1M189.2 310.0h1M178.6 307.9h1M178.8 318.3h1M179.1 313.2h1M174.0 301.3h1M162.9 318.1h1M181.2 313.3h1M177.1 311.4h1M175.6 311.9h1M177.7 315.8h1M178.7 316.4h1M176.4 316.9h1M182.4 318.1h1M175.3 311.1h1M183.3 320.1h1M173.4 326.3h1M173.1 314.9h1M168.5 317.1h1M170.1 317.1h1M158.9 322.0h1M167.2 309.4h1M173.8 319.2h1M181.7 310.8h1M169.7 315.0h1M173.2 316.3h1M174.3 317.1h1M175.2 313.3h1M162.5 317.9h1M171.9 319.7h1M189.7 313.3h1M181.9 319.0h1M171.1 313.6h1M176.8 305.1h1M182.1 312.6h1M174.1 314.0h1M179.6 313.2h1M176.6 306.7h1M170.1 308.6h1M176.0 311.8h1M167.7 315.0h1M175.1 312.9h1M177.7 319.0h1M171.9 316.7h1M178.7 314.6h1M177.1 312.6h1M175.9 307.0h1M172.4 315.9h1M170.2 313.3h1M176.6 315.4h1M176.5 322.1h1M182.1 313.0h1M163.6 324.6h1M177.5 311.1h1M173.6 311.5h1M172.6 309.8h1M167.3 315.7h1M190.5 302.6h1M180.2 314.4h1M175.9 315.8h1M178.8 316.8h1M164.9 316.9h1M174.8 317.4h1M177.0 316.8h1M175.4 314.2h1M166.5 316.5h1M173.2 312.0h1M186.7 311.5h1M182.1 319.6h1M178.3 308.3h1M179.7 318.4h1M193.1 315.1h1M179.2 306.5h1M171.9 307.2h1M164.5 312.9h1M176.4 315.4h1M175.5 312.1h1M162.8 318.8h1M172.5 313.4h1M174.9 307.9h1M173.1 316.5h1M160.5 319.4h1M167.4 313.8h1M167.1 313.9h1M183.5 306.6h1M174.0 317.7h1M168.0 322.4h1M179.5 313.7h1M163.4 309.3h1M172.1 308.3h1M178.6 313.1h1M168.7 309.0h1M168.4 312.3h1M163.7 310.1h1M169.5 315.3h1M180.2 307.9h1M177.4 317.8h1M181.6 319.9h1M171.0 321.2h1M191.8 304.8h1M163.6 321.1h1M168.3 316.7h1M160.0 318.8h1M178.0 315.9h1M176.6 317.0h1M189.2 314.2h1M171.7 315.5h1M172.1 314.2h1M159.3 321.0h1M175.0 313.6h1M169.9 313.2h1M178.4 317.5h1M167.9 317.2h1M176.9 313.3h1M176.0 313.9h1M163.4 307.1h1M179.0 308.4h1M182.5 311.3h1M175.5 315.2h1M180.1 315.0h1M179.1 307.9h1M173.2 312.0h1M179.5 314.3h1M187.3 316.1h1M167.8 311.6h1M177.6 309.7h1M172.2 308.5h1M174.8 313.6h1M172.5 315.6h1M172.4 318.7h1M175.8 312.7h1M171.3 318.6h1M177.2 314.0h1M161.0 316.9h1M180.7 307.6h1M171.0 322.2h1M170.6 313.7h1M182.4 318.3h1M180.3 316.2h1M179.4 312.0h1M179.2 310.7h1M176.7 317.1h1M168.6 312.2h1M179.1 309.8h1M177.9 310.0h1M179.3 309.7h1M173.9 311.0h1M173.8 320.6h1M170.3 314.9h1M184.5 317.6h1M170.3 316.5h1M187.7 312.0h1M184.6 324.8h1M175.0 307.6h1M193.7 321.3h1M190.0 300.7h1M189.9 311.2h1M187.9 316.0h1M196.9 310.3h1M182.0 320.0h1M172.0 313.5h1M180.9 307.5h1M165.0 308.3h1M192.5 322.7h1M211.3 312.1h1M183.0 309.5h1M202.8 299.5h1M217.0 300.8h1M186.2 304.6h1M196.8 317.0h1M199.5 321.3h1M211.8 306.8h1M195.1 328.5h1M180.1 313.8h1M181.8 313.3h1M176.5 314.0h1M187.0 305.7h1M198.7 320.1h1M198.0 313.5h1M182.5 317.5h1M197.5 299.4h1M166.1 301.4h1M188.7 318.5h1M207.8 323.7h1M188.2 310.5h1M184.0 310.2h1M207.0 311.7h1M208.4 308.3h1M190.7 303.3h1M161.4 303.5h1M199.8 322.8h1M215.7 307.7h1M177.9 318.3h1M222.2 300.1h1M178.0 316.8h1M205.2 322.2h1M203.8 309.9h1M201.4 320.6h1M179.7 314.8h1M170.6 310.7h1M190.2 310.6h1M189.8 304.1h1M191.2 311.5h1M174.5 318.2h1M180.0 306.4h1M165.5 323.1h1M215.0 308.0h1M193.7 314.2h1M181.0 323.2h1M194.1 307.9h1M218.1 291.2h1M212.3 326.6h1M205.2 307.1h1M223.6 287.8h1M185.8 298.5h1M201.3 288.0h1M214.0 320.2h1M219.7 287.1h1M203.8 287.1h1M197.4 307.8h1M237.9 292.3h1M223.8 305.0h1M223.8 303.1h1M217.5 291.8h1M231.6 274.3h1M220.1 263.0h1M197.5 302.7h1M215.7 294.8h1M229.6 309.9h1M192.9 303.6h1M207.4 299.1h1M216.5 294.2h1M215.7 315.4h1M218.4 270.1h1M220.6 308.1h1M241.3 297.7h1M204.4 285.8h1M215.0 290.9h1M200.6 314.1h1M230.9 307.4h1M220.9 302.5h1M223.7 269.4h1M222.0 317.2h1M240.5 287.6h1M210.9 310.3h1M219.2 308.8h1M223.0 270.3h1M200.4 275.7h1M193.6 272.9h1M226.9 282.1h1M217.1 311.2h1M226.5 320.3h1M215.0 304.3h1M212.5 296.4h1M212.3 286.9h1M218.4 326.5h1M210.6 299.6h1M209.9 285.0h1M233.1 300.2h1M230.1 309.8h1M215.3 292.3h1M238.1 291.7h1M208.6 272.8h1M228.4 309.0h1M230.7 286.7h1M212.2 310.8h1M238.8 302.0h1M200.2 303.3h1M215.2 288.1h1" stroke="#111" stroke-width="1" stroke-opacity="0.7" fill="none"/>
<rect x="205.8" y="259.6" width="32.2" height="36.9" fill="none" stroke="#0c0c0c" stroke-width="1.25"/>
<text x="200.8" y="267.9" text-anchor="end" font-size="9.6">59%</text>
<rect x="272.6" y="247.0" width="110.39999999999998" height="83.39999999999998" fill="none" stroke="#1c1c1c" stroke-width="1.1"/><path d="M274.40 330.4v2.6M277.80 330.4v2.6M280.43 330.4v2.6M282.58 330.4v2.6M284.39 330.4v2.6M285.97 330.4v2.6M287.36 330.4v2.6M288.60 330.4v4.4M296.77 330.4v2.6M301.55 330.4v2.6M304.95 330.4v2.6M307.58 330.4v2.6M309.73 330.4v2.6M311.54 330.4v2.6M313.12 330.4v2.6M314.51 330.4v2.6M315.75 330.4v4.4M323.92 330.4v2.6M328.70 330.4v2.6M332.10 330.4v2.6M334.73 330.4v2.6M336.88 330.4v2.6M338.69 330.4v2.6M340.27 330.4v2.6M341.66 330.4v2.6M342.90 330.4v4.4M351.07 330.4v2.6M355.85 330.4v2.6M359.25 330.4v2.6M361.88 330.4v2.6M364.03 330.4v2.6M365.84 330.4v2.6M367.42 330.4v2.6M368.81 330.4v2.6M370.05 330.4v4.4M378.22 330.4v2.6M272.6 329.77h-2.2M272.6 327.20h-2.2M272.6 325.20h-2.2M272.6 323.57h-2.2M272.6 322.19h-2.2M272.6 321.00h-2.2M272.6 319.94h-2.2M272.6 319.00h-3.8M272.6 312.80h-2.2M272.6 309.17h-2.2M272.6 306.60h-2.2M272.6 304.60h-2.2M272.6 302.97h-2.2M272.6 301.59h-2.2M272.6 300.40h-2.2M272.6 299.34h-2.2M272.6 298.40h-3.8M272.6 292.20h-2.2M272.6 288.57h-2.2M272.6 286.00h-2.2M272.6 284.00h-2.2M272.6 282.37h-2.2M272.6 280.99h-2.2M272.6 279.80h-2.2M272.6 278.74h-2.2M272.6 277.80h-3.8M272.6 271.60h-2.2M272.6 267.97h-2.2M272.6 265.40h-2.2M272.6 263.40h-2.2M272.6 261.77h-2.2M272.6 260.39h-2.2M272.6 259.20h-2.2M272.6 258.14h-2.2M272.6 257.20h-3.8M272.6 251.00h-2.2" stroke="#141414" stroke-width="0.9" fill="none"/><text x="283.60" y="346.00" font-size="8.8" textLength="8.3" lengthAdjust="spacingAndGlyphs">10</text><text x="292.40" y="342.40" font-size="5.6">1</text><text x="310.75" y="346.00" font-size="8.8" textLength="8.3" lengthAdjust="spacingAndGlyphs">10</text><text x="319.55" y="342.40" font-size="5.6">2</text><text x="337.90" y="346.00" font-size="8.8" textLength="8.3" lengthAdjust="spacingAndGlyphs">10</text><text x="346.70" y="342.40" font-size="5.6">3</text><text x="365.05" y="346.00" font-size="8.8" textLength="8.3" lengthAdjust="spacingAndGlyphs">10</text><text x="373.85" y="342.40" font-size="5.6">4</text>
<path d="M329.2 330.2L328.8 328.7L328.1 327.3L328.2 327.5L327.7 325.0L327.9 325.3L328.1 324.2L326.9 323.6L326.7 322.0L327.2 320.7L327.1 320.4L327.7 318.2L326.1 318.9L327.1 316.4L326.1 316.5L325.4 314.5L326.9 314.3L326.4 311.9L327.0 311.9L327.3 311.1L327.4 309.1L329.3 308.3L327.8 307.9L329.1 308.3L329.8 306.1L330.9 304.9L331.9 305.0L332.2 304.1L331.4 303.6L333.6 303.3L335.3 302.8L335.8 302.7L337.4 302.5L336.4 301.5L337.8 300.7L338.8 299.9L340.7 300.1L341.3 300.2L342.6 299.8L343.9 301.2L344.9 299.9L345.7 299.4L346.6 298.0L348.5 299.4L349.3 299.0L350.3 298.6L350.2 298.1L351.6 299.2L353.8 299.1L353.8 298.8L355.0 298.3L356.7 299.4L357.2 298.1L357.8 299.9L359.1 300.7L358.5 300.3L358.5 302.9L359.6 303.5L359.0 305.1L358.6 306.0L357.8 307.0L358.7 307.6L357.5 308.7L358.1 310.2L358.7 311.8L358.0 312.1L357.3 313.3L357.3 314.0L356.7 316.3L357.2 315.7L356.3 316.7L356.7 318.0L356.5 320.0L354.6 320.8L355.4 320.8L355.4 323.1L354.8 323.7L354.8 323.7L354.9 325.6L354.0 325.8L353.9 326.8L353.9 329.1L353.6 329.3L353.0 330.2L352.0 330.2L350.9 330.2L349.9 330.2L348.9 330.2L347.8 330.2L346.8 330.2L345.8 330.2L344.7 330.2L343.7 330.2L342.7 330.2L341.6 330.2L340.6 330.2L339.5 330.2L338.5 330.2L337.5 330.2L336.4 330.2L335.4 330.2L334.4 330.2L333.3 330.2L332.3 330.2L331.3 330.2L330.2 330.2Z" fill="#0a0a0a"/>
<path d="M339.4 314.2h1M340.3 312.2h1M351.1 322.4h1M347.3 320.8h1M342.9 314.7h1M339.3 315.8h1M352.7 297.7h1M353.2 321.4h1M333.3 320.9h1M342.3 316.6h1M351.3 309.7h1M346.4 308.0h1M341.9 305.8h1M344.9 308.4h1M343.8 315.1h1M355.5 327.6h1M349.0 325.8h1M346.5 312.0h1M327.9 318.7h1M343.5 315.1h1M338.0 316.3h1M361.2 304.7h1M339.2 326.5h1M338.6 298.8h1M342.5 319.7h1M327.7 326.4h1M338.6 325.5h1M337.6 316.8h1M336.0 319.6h1M341.3 319.0h1M353.7 310.2h1M337.0 309.5h1M348.0 308.9h1M347.1 318.0h1M338.4 328.6h1M351.5 317.8h1M341.6 320.2h1M344.9 315.4h1M353.0 318.7h1M336.8 313.3h1M338.1 317.5h1M328.5 314.4h1M338.8 310.6h1M358.7 315.4h1M343.8 310.0h1M326.0 321.7h1M349.3 324.3h1M356.0 282.6h1M354.3 310.1h1M339.1 321.9h1M336.2 317.1h1M349.4 315.0h1M343.2 306.0h1M333.8 322.7h1M348.4 315.1h1M350.7 314.8h1M355.7 303.5h1M339.0 324.7h1M341.9 310.8h1M330.0 313.9h1M333.0 320.5h1M333.8 318.8h1M335.4 329.1h1M334.6 314.3h1M357.2 316.3h1M353.6 310.7h1M332.2 317.9h1M359.5 304.2h1M349.0 312.4h1M343.8 319.6h1M355.0 314.3h1M348.1 313.2h1M341.4 319.6h1M335.9 308.2h1M327.0 320.4h1M345.4 323.4h1M336.6 323.6h1M335.1 325.9h1M323.2 315.1h1M333.3 311.0h1M340.2 308.0h1M345.1 311.2h1M358.2 310.1h1M338.5 314.4h1M343.0 317.1h1M349.0 310.9h1M341.0 315.3h1M333.3 324.5h1M357.3 312.9h1M341.1 323.0h1M338.7 320.3h1M369.5 312.8h1M345.4 315.2h1M354.5 311.4h1M331.4 315.7h1M329.0 319.1h1M346.1 324.0h1M337.0 313.6h1M343.2 310.7h1M342.0 316.0h1M356.7 285.4h1M342.3 321.3h1M351.4 323.8h1M326.2 327.0h1M352.1 300.6h1M333.5 323.7h1M334.9 324.3h1M319.6 329.7h1M346.6 317.3h1M355.9 291.2h1M339.4 315.8h1M341.7 319.0h1M346.5 323.2h1M326.5 323.8h1M341.4 323.2h1M348.1 308.7h1M339.7 321.4h1M343.6 310.0h1M347.8 319.3h1M344.4 307.2h1M339.5 310.7h1M327.1 324.6h1M346.2 315.4h1M337.5 311.2h1M342.5 329.2h1M349.6 313.3h1M340.1 320.6h1M345.8 325.7h1M332.2 323.3h1M330.7 306.9h1M341.2 304.1h1M340.3 302.0h1M344.6 309.2h1M345.9 306.4h1M350.5 316.7h1M336.7 316.2h1M348.1 327.2h1M330.4 309.8h1M333.8 308.9h1M359.0 316.6h1M337.3 327.3h1M326.8 313.9h1M326.9 324.1h1M336.5 315.1h1M331.0 316.8h1M338.2 321.7h1M335.8 323.8h1M339.3 304.1h1M331.3 318.6h1M332.4 320.0h1M335.8 320.7h1M319.4 326.6h1M330.9 309.9h1M351.9 317.4h1M343.7 311.8h1M339.9 303.5h1M344.1 309.8h1M335.6 308.8h1M335.3 312.0h1M330.5 315.7h1M330.7 324.9h1M340.8 300.9h1M347.6 314.2h1M355.6 312.5h1M345.7 304.3h1M342.2 312.4h1M351.6 314.4h1M337.9 323.5h1M349.8 321.5h1M338.5 315.4h1M352.6 309.2h1M332.0 329.0h1M338.9 301.4h1M340.7 328.6h1M338.8 311.0h1M347.3 304.7h1M336.9 319.1h1M327.1 319.7h1M343.5 313.0h1M353.5 298.3h1M344.7 317.9h1M345.0 317.7h1M344.7 310.1h1M343.5 327.2h1M350.6 306.0h1M345.5 312.8h1M343.2 323.3h1M347.1 323.8h1M335.5 314.3h1M326.9 318.4h1M330.8 315.9h1M347.8 300.8h1M345.1 322.2h1M338.8 317.2h1M339.8 309.0h1M347.2 292.6h1M358.4 311.2h1M355.2 314.5h1M331.3 324.2h1M347.1 322.4h1M340.9 321.1h1M330.9 326.1h1M342.0 314.8h1M330.9 328.7h1M339.6 291.4h1M338.5 311.1h1M346.7 310.1h1M343.6 302.2h1M337.5 310.8h1M357.6 297.1h1M333.7 319.7h1M318.3 321.9h1M349.9 318.5h1M341.6 322.7h1M344.3 319.9h1M347.4 300.9h1M352.3 312.4h1M345.3 318.4h1M340.2 324.5h1M339.9 316.9h1M335.6 314.2h1M350.9 306.8h1M334.7 315.1h1M347.0 317.9h1M343.5 329.8h1M349.5 311.7h1M342.6 311.7h1M336.4 313.6h1M340.2 319.6h1M328.6 305.8h1M336.6 306.4h1M342.2 326.6h1M342.8 313.8h1M332.8 314.4h1M345.5 311.3h1M326.1 318.5h1M330.2 313.3h1M343.4 315.8h1M336.4 306.9h1M327.0 325.1h1M342.7 314.0h1M325.2 313.0h1M329.1 323.0h1M340.0 304.8h1M357.5 306.5h1M343.3 318.6h1M347.8 312.9h1M335.9 320.7h1M352.8 313.6h1M342.1 313.9h1M343.7 315.6h1M334.8 313.7h1M346.4 316.5h1M341.7 316.3h1M359.8 326.4h1M355.3 312.5h1M353.3 304.0h1M346.4 313.7h1M356.6 321.8h1M346.2 307.7h1M351.0 314.7h1M347.6 311.5h1M342.7 319.4h1M340.8 316.1h1M330.5 319.1h1M330.5 326.1h1M341.0 306.5h1M364.3 298.9h1M343.5 324.6h1M335.8 312.1h1M329.6 309.3h1M328.0 310.5h1M346.0 317.1h1M338.5 310.7h1M346.0 317.6h1M340.0 310.1h1M330.6 313.9h1M340.1 321.2h1M342.9 321.4h1M334.9 327.4h1M346.4 319.0h1M334.8 310.9h1M322.5 318.2h1M337.8 326.3h1M345.3 326.3h1M349.5 317.7h1M340.1 307.4h1M333.6 320.7h1M328.4 325.8h1M346.6 323.2h1M351.0 306.2h1M344.9 311.5h1M349.3 318.0h1M327.3 314.6h1M344.7 316.4h1M330.5 321.8h1M361.6 306.2h1M342.1 302.0h1M334.7 308.3h1M336.2 321.2h1M334.3 322.3h1M338.5 317.7h1M337.1 312.3h1M327.2 314.4h1M360.6 300.7h1M346.4 313.7h1M329.2 315.7h1M331.9 317.4h1M343.9 308.2h1M337.7 300.9h1M349.2 293.6h1M359.3 304.6h1M346.4 312.3h1M342.6 318.2h1M357.0 328.4h1M346.2 316.0h1M354.4 304.5h1M360.9 301.3h1M352.9 308.4h1M344.6 318.0h1M337.3 324.1h1M340.8 317.0h1M345.3 311.5h1M349.4 322.8h1M330.5 316.4h1M340.5 325.1h1M331.5 321.5h1M330.1 325.6h1M343.5 326.3h1M346.8 313.0h1M348.8 312.5h1M335.6 319.4h1M349.0 304.0h1M338.0 313.4h1M329.3 322.7h1M334.6 326.0h1M339.3 320.4h1M333.7 328.1h1M344.8 312.9h1M335.5 310.7h1M348.0 308.2h1M358.8 284.0h1M338.5 307.8h1M329.7 319.1h1M360.8 320.3h1M343.9 319.2h1M351.9 322.6h1M349.8 321.6h1M343.1 310.0h1M325.5 302.7h1M352.5 320.8h1M339.1 313.3h1M340.4 309.3h1M349.4 303.9h1M338.9 317.9h1M344.0 327.8h1M355.1 293.8h1M347.1 309.9h1M357.0 320.6h1M336.5 319.3h1M348.2 306.6h1M347.1 320.1h1M340.1 323.3h1M342.8 306.5h1M334.0 327.4h1M336.7 321.6h1M350.9 314.1h1M353.7 325.7h1M340.7 306.9h1M335.4 309.9h1M333.4 321.6h1M343.4 310.8h1M352.4 291.5h1M347.2 318.8h1M347.9 319.3h1M351.7 317.0h1M326.3 329.7h1M334.0 311.4h1M350.2 322.8h1M336.8 317.1h1M348.2 314.7h1M339.2 321.3h1M344.8 320.6h1M351.6 314.4h1M354.8 316.9h1M353.6 319.7h1M335.0 317.8h1M347.7 318.5h1M351.8 324.2h1M344.1 315.6h1M346.4 316.1h1M331.8 314.8h1M341.4 311.8h1M342.8 315.0h1M343.1 316.7h1M348.0 307.8h1M358.1 313.6h1M334.4 317.3h1M346.6 323.2h1M340.5 319.3h1M352.4 311.1h1M358.0 322.6h1M349.6 307.9h1M348.7 310.3h1M347.1 306.7h1M340.6 315.8h1M344.2 293.0h1M342.9 314.3h1M350.4 314.3h1M360.3 302.7h1M346.9 308.0h1M351.0 321.2h1M339.3 319.8h1M349.4 321.9h1M354.4 313.0h1M339.8 321.0h1M340.7 302.3h1M334.0 304.1h1M336.1 320.7h1M342.6 318.3h1M347.8 315.4h1M340.3 315.6h1M352.7 319.5h1M342.9 315.0h1M341.9 305.1h1M334.1 327.4h1M343.1 324.3h1M342.6 312.1h1M326.2 324.5h1M325.5 321.5h1M338.8 310.9h1M340.7 312.6h1M325.3 322.8h1M334.6 320.8h1M328.6 319.9h1M345.2 312.0h1M333.9 319.9h1M350.3 314.9h1M356.8 312.0h1M339.1 314.0h1M348.3 316.2h1M345.6 317.1h1M342.8 316.0h1M337.0 323.1h1M329.5 314.4h1M350.7 311.1h1M334.5 313.3h1M341.0 311.8h1M356.1 312.4h1M344.9 324.8h1M323.5 326.5h1M336.4 322.2h1M344.6 311.8h1M324.8 308.2h1M348.9 305.1h1M335.7 328.0h1M338.2 308.9h1M337.3 320.3h1M340.7 304.0h1M351.2 308.7h1M337.3 312.9h1M356.7 317.6h1M363.0 295.3h1M329.7 317.8h1M339.2 306.6h1M347.1 302.3h1M336.7 320.8h1M349.1 324.2h1M343.8 328.0h1M331.0 315.7h1M328.8 319.3h1M346.5 317.6h1M320.5 328.2h1M331.5 329.1h1M325.5 318.4h1M340.4 312.0h1M338.4 319.4h1M341.8 326.4h1M362.6 306.8h1M350.2 312.0h1M359.8 308.5h1M339.1 327.0h1M320.1 317.4h1M350.8 318.6h1M347.9 322.1h1M333.3 322.8h1M339.3 318.1h1M329.7 320.6h1M339.0 317.1h1M327.9 316.4h1M344.6 325.3h1M335.5 305.6h1M329.1 312.5h1M349.9 313.2h1M340.4 311.1h1M337.7 309.2h1M341.1 316.9h1M332.5 317.2h1M335.4 326.6h1M352.3 310.7h1M343.5 313.7h1M340.3 317.4h1M340.7 313.3h1M341.1 323.2h1M344.9 310.0h1M346.2 316.2h1M338.9 318.0h1M348.6 311.5h1M348.1 315.2h1M324.2 316.1h1M353.3 318.3h1M343.2 317.6h1M332.3 316.7h1M340.4 319.6h1M345.2 317.5h1M343.0 304.9h1M330.5 322.3h1M338.6 319.5h1M344.5 314.5h1M335.8 312.9h1M335.4 308.2h1M326.3 324.2h1M339.2 323.2h1M353.3 319.6h1M344.4 310.1h1M348.2 319.9h1M343.3 315.8h1M345.7 304.8h1M348.3 307.1h1M343.1 312.0h1M336.9 322.0h1M346.1 304.9h1M358.2 308.2h1M332.7 328.4h1M342.9 323.0h1M339.8 326.7h1M334.3 309.8h1M341.0 315.5h1M342.5 315.6h1M357.4 304.5h1M343.2 308.6h1M344.6 321.8h1M331.3 322.3h1M336.0 328.4h1M342.5 313.2h1M329.7 328.0h1M335.0 324.7h1M333.6 315.0h1M334.8 322.1h1M334.3 309.6h1M339.1 322.8h1M357.7 316.4h1M351.1 319.8h1M351.1 295.9h1M350.8 310.3h1M342.9 318.6h1M339.4 314.8h1M347.6 314.3h1M340.5 320.4h1M346.5 310.7h1M348.0 308.5h1M348.6 315.9h1M349.8 318.5h1M348.5 319.7h1M336.7 315.7h1M338.5 310.7h1M326.1 312.3h1M347.6 308.9h1M353.0 318.0h1M339.3 321.6h1M333.2 326.8h1M323.6 327.3h1M334.9 317.5h1M334.5 324.1h1M346.0 317.3h1M336.9 321.4h1M338.6 312.2h1M328.8 324.8h1M344.9 303.9h1M330.3 323.3h1M328.1 326.2h1M358.4 310.0h1M362.3 313.9h1M343.5 313.2h1M349.0 310.9h1M351.6 309.3h1M360.2 308.2h1M341.4 312.3h1M335.6 326.9h1M340.5 303.6h1M338.7 318.7h1M334.0 320.6h1M340.4 322.3h1M341.5 323.5h1M350.4 320.6h1M335.3 316.5h1M334.1 327.8h1M347.5 307.7h1M334.7 314.4h1M343.7 315.9h1M336.3 316.4h1M333.8 318.9h1M336.8 314.8h1M342.4 317.9h1M334.3 329.4h1M338.7 316.4h1M333.0 318.5h1M348.5 312.9h1M335.2 327.3h1M334.8 319.1h1M339.8 321.6h1M336.0 313.5h1M344.5 293.4h1M319.7 320.1h1M337.0 324.4h1M333.8 312.2h1M340.2 320.5h1M349.7 306.2h1M327.5 309.6h1M339.0 327.5h1M341.1 321.8h1M329.5 314.9h1M339.5 299.7h1M348.9 318.8h1M332.5 301.5h1M338.2 311.5h1M338.4 303.4h1M338.3 307.5h1M340.9 312.0h1M333.9 320.2h1M352.4 323.6h1M355.3 317.2h1M331.1 319.1h1M345.4 321.8h1M350.4 291.8h1M351.6 311.7h1M344.1 321.5h1M340.2 315.8h1M334.7 313.4h1M343.2 305.5h1M333.3 305.9h1M342.3 317.2h1M332.0 327.1h1M341.2 313.0h1M341.1 317.5h1M330.8 306.1h1M332.2 310.0h1M356.5 312.0h1M363.7 297.9h1M336.5 323.2h1M351.9 307.4h1M334.9 328.6h1M332.8 312.1h1M343.9 314.5h1M333.9 309.1h1M338.1 319.0h1M348.1 307.8h1M345.4 321.8h1M340.0 319.5h1M365.5 317.2h1M345.7 318.5h1M345.2 313.5h1M339.5 317.7h1M343.2 323.9h1M355.8 298.7h1M335.6 328.8h1M344.1 305.1h1M341.9 321.8h1M333.5 320.4h1M351.9 310.1h1M346.8 316.1h1M367.7 318.5h1M342.9 320.8h1M349.0 321.7h1M349.6 314.8h1M333.9 322.9h1M352.6 301.4h1M344.1 301.9h1M343.5 315.9h1M328.7 319.5h1M334.3 310.1h1M349.9 307.2h1M352.0 305.5h1M332.4 302.4h1M344.0 314.2h1M335.0 312.8h1M346.5 300.0h1M330.5 325.3h1M336.5 308.9h1M335.5 307.3h1M337.9 315.8h1M354.5 307.1h1M341.3 309.0h1M355.0 306.8h1M332.5 311.3h1M338.4 313.5h1M347.4 303.6h1M348.2 323.8h1M349.0 308.1h1M342.4 316.5h1M356.2 324.2h1M339.7 312.8h1M349.9 314.5h1M342.2 313.8h1M340.5 302.6h1M346.9 313.0h1M340.7 324.5h1M319.1 307.8h1M330.5 297.6h1M333.0 313.0h1M331.6 318.5h1M332.0 305.1h1M353.5 319.6h1M348.9 315.8h1M350.1 317.3h1M334.4 323.4h1M338.0 318.2h1M341.6 307.1h1M349.9 315.0h1M348.2 313.2h1M340.5 304.9h1M350.4 320.0h1M338.8 326.2h1M342.9 325.3h1M343.9 314.6h1M331.6 304.8h1M333.7 305.8h1M340.3 317.1h1M360.9 316.3h1M351.5 319.9h1M346.2 317.5h1M351.4 303.2h1M341.8 312.7h1M354.2 308.4h1M335.5 309.4h1M337.3 312.5h1M325.6 318.8h1M330.7 320.2h1M348.9 301.7h1M345.5 317.0h1M350.6 308.0h1M332.9 308.9h1M360.5 306.1h1M347.3 309.5h1M342.5 319.4h1M330.7 319.3h1M330.1 326.3h1M346.1 296.0h1M359.4 306.3h1M349.0 314.5h1M359.6 323.4h1M337.1 318.4h1M342.7 323.3h1M352.2 311.8h1M344.2 321.5h1M342.3 306.8h1M351.6 318.0h1M343.6 305.1h1M339.8 318.2h1M335.0 328.6h1M332.1 310.5h1M346.9 317.5h1M347.9 309.3h1M338.7 309.0h1M335.0 317.8h1M351.9 325.6h1M339.6 325.4h1M334.0 323.0h1M329.5 318.1h1M333.4 318.0h1M347.5 318.8h1M342.0 315.7h1M331.7 321.9h1M339.3 310.4h1M350.9 323.9h1M343.9 307.7h1M338.7 327.7h1M350.5 322.3h1M334.8 311.8h1M344.2 311.7h1M344.8 317.7h1M333.4 313.3h1M333.4 318.5h1M346.4 320.0h1M342.4 321.7h1M334.7 313.3h1M338.3 308.7h1M343.4 322.5h1M343.2 318.4h1M348.7 302.1h1M358.7 310.4h1M340.5 325.3h1M337.0 316.4h1M322.5 329.4h1M333.4 299.7h1M345.3 312.0h1M327.4 319.9h1M343.4 312.6h1M332.0 314.0h1M345.6 322.9h1M335.3 312.5h1M352.0 314.7h1M338.7 319.7h1M332.2 307.7h1M344.3 312.6h1M347.0 307.3h1M340.8 321.9h1M336.8 313.0h1M342.0 320.3h1M347.6 307.2h1M341.4 312.0h1M337.0 319.4h1M349.0 321.4h1M351.3 304.9h1M350.1 313.7h1M345.1 328.4h1M342.5 308.6h1M346.8 314.7h1M351.7 316.7h1M338.6 319.9h1M349.9 313.1h1M347.7 308.0h1M333.1 314.3h1M325.8 315.8h1M337.8 324.5h1M349.3 301.8h1M335.7 312.7h1M338.5 319.8h1M344.0 312.8h1M370.5 304.5h1M353.7 322.4h1M340.6 313.7h1M350.7 314.1h1M335.8 314.7h1M352.6 302.9h1M327.0 317.7h1M324.1 324.9h1M344.6 317.5h1M355.8 312.7h1M340.5 310.3h1M341.2 324.8h1M342.3 303.8h1M343.3 317.4h1M356.3 300.5h1M339.2 313.7h1M357.8 320.7h1M336.5 316.6h1M344.7 313.3h1M354.5 310.2h1M350.2 324.1h1M344.5 312.4h1M348.1 314.4h1M343.7 316.3h1M352.0 317.7h1M344.8 316.5h1M336.1 320.5h1M338.1 318.6h1M333.0 309.8h1M343.8 314.3h1M349.3 321.2h1M335.6 309.4h1M360.1 311.4h1M345.4 304.4h1M339.3 326.5h1M350.0 306.9h1M322.3 322.1h1M340.2 310.8h1M349.9 307.6h1M332.8 315.3h1M349.9 305.1h1M348.5 315.7h1M326.7 325.4h1M330.7 321.9h1M351.0 305.3h1M348.3 309.0h1M338.1 321.8h1M333.3 317.7h1M353.7 310.8h1M339.8 319.4h1M337.6 310.8h1M342.6 316.4h1M328.4 315.2h1M343.0 312.1h1M352.4 321.1h1M333.5 329.7h1M342.1 324.1h1M327.8 326.2h1M333.2 320.0h1M347.5 308.5h1M333.4 310.8h1M350.6 323.4h1M339.0 315.8h1M351.4 292.5h1M340.5 323.6h1M349.7 317.3h1M328.4 317.9h1M341.2 319.2h1M354.0 315.0h1M340.9 313.3h1M351.2 316.4h1M348.3 308.2h1M334.2 315.0h1M338.0 327.9h1M335.3 309.3h1M328.5 315.8h1M337.9 314.0h1M333.8 304.2h1M359.9 294.3h1M342.1 310.4h1M342.1 308.8h1M347.2 312.8h1M334.0 319.4h1M332.6 303.8h1M342.1 320.8h1M339.5 318.0h1M353.1 302.2h1M337.1 319.7h1M331.3 311.4h1M347.2 304.5h1M340.5 313.0h1M343.6 309.4h1M345.0 304.9h1M345.8 310.8h1M339.0 323.2h1M341.3 308.8h1M338.7 323.8h1M338.8 312.8h1M347.9 302.1h1M344.4 327.7h1M330.3 324.4h1M334.9 318.7h1M337.0 326.4h1M346.7 308.6h1M343.9 322.9h1M338.7 315.1h1M334.4 313.9h1M335.2 320.4h1M332.7 323.4h1M345.7 310.0h1M344.9 318.5h1M337.5 320.8h1M342.8 323.8h1M345.5 314.7h1M337.2 318.5h1M347.1 305.3h1M344.7 320.6h1M331.7 329.5h1M344.2 320.3h1M335.0 327.6h1M341.3 316.6h1M345.5 322.2h1M326.5 324.7h1M334.1 325.2h1M333.8 313.1h1M353.5 319.9h1M345.9 309.7h1M346.4 314.1h1M353.2 327.5h1M333.1 307.2h1M339.7 317.1h1M334.6 312.5h1M338.4 328.1h1M338.7 313.0h1M342.7 314.2h1M358.3 312.5h1M350.3 315.2h1M339.2 309.8h1M332.4 306.3h1M351.1 323.1h1M335.3 307.0h1M354.3 312.0h1M336.1 318.5h1M329.5 318.5h1M339.1 295.5h1M342.4 311.1h1M340.3 329.1h1M345.5 325.4h1M336.8 313.1h1M335.8 303.2h1M353.5 304.7h1M331.2 303.0h1M343.5 312.4h1M357.5 298.0h1M321.4 321.7h1M365.5 300.6h1M341.9 328.9h1M347.0 312.5h1M350.0 310.4h1M337.0 321.3h1M357.7 312.9h1M347.6 318.0h1M342.1 310.8h1M341.3 312.1h1M354.4 317.8h1M353.9 318.2h1M342.2 317.6h1M331.2 325.5h1M330.5 318.3h1M335.8 308.0h1M344.2 311.0h1M337.1 324.6h1M347.0 305.9h1M333.7 326.0h1M344.8 317.8h1M338.0 325.1h1M338.3 327.2h1M323.7 322.4h1M353.6 300.3h1M346.7 315.1h1M348.4 325.6h1M358.6 308.0h1M356.1 306.9h1M344.2 317.1h1M345.6 306.7h1M336.4 320.2h1M330.9 321.4h1M355.0 324.3h1M341.5 314.5h1M334.1 307.5h1M342.4 321.7h1M325.2 314.2h1M341.5 321.2h1M347.0 327.8h1M332.4 322.5h1M346.6 325.3h1M359.4 310.4h1M342.9 312.2h1M345.0 313.4h1M346.2 306.5h1M331.4 313.0h1M330.5 328.3h1M337.2 316.5h1M338.0 307.6h1M338.1 308.9h1M347.4 321.0h1M350.9 305.0h1M329.8 323.4h1M340.9 319.3h1M340.1 303.0h1M350.3 310.6h1M351.6 310.5h1M335.0 328.2h1M355.5 316.3h1M351.5 308.7h1M338.0 319.8h1M349.3 320.7h1M339.2 310.1h1M333.9 324.5h1M347.5 319.1h1M339.3 324.5h1M350.3 315.6h1M338.6 321.2h1M351.4 305.7h1M332.7 300.9h1M333.3 323.9h1M339.7 312.3h1M339.5 324.1h1M336.0 313.7h1M337.5 315.4h1M342.7 327.3h1M337.6 316.4h1M351.2 310.5h1M354.0 307.9h1M353.6 307.7h1M351.2 309.1h1M338.8 313.9h1M333.2 323.0h1M334.5 308.3h1M340.4 315.9h1M349.7 311.1h1M325.9 316.8h1M339.1 319.1h1M339.1 320.4h1M335.1 325.4h1M340.1 316.3h1M326.9 311.0h1M338.7 311.7h1M332.8 315.6h1M343.7 318.6h1M330.5 311.5h1M344.9 300.0h1M323.9 323.2h1M331.3 313.2h1M325.0 314.0h1M344.2 314.6h1M339.9 302.6h1M351.7 307.3h1M340.4 314.4h1M337.6 306.7h1M335.7 314.5h1M321.3 326.2h1M332.4 324.9h1M331.1 329.4h1M340.4 318.3h1M346.8 322.4h1M353.5 323.5h1M349.9 309.4h1M345.9 311.7h1M335.8 306.8h1M335.0 315.4h1M342.3 305.3h1M337.8 323.5h1M344.6 307.9h1M361.9 304.6h1M357.1 311.4h1M345.5 312.9h1M340.0 308.9h1M345.6 316.4h1M341.6 313.7h1M345.8 328.9h1M345.6 319.0h1M345.3 315.5h1M340.3 325.7h1M354.4 318.3h1M335.4 312.1h1M332.1 319.4h1M350.0 325.5h1M336.2 300.6h1M347.3 313.2h1M345.5 313.8h1M341.4 311.6h1M349.7 316.8h1M338.5 313.8h1M340.6 303.2h1M341.4 313.5h1M338.7 312.2h1M343.9 298.2h1M344.6 301.2h1M325.6 327.2h1M356.8 299.9h1M331.5 318.8h1M344.2 309.4h1M331.9 311.7h1M339.4 317.8h1M344.1 315.5h1M342.6 327.7h1M336.3 325.8h1M361.9 307.4h1M338.0 316.3h1M336.6 328.3h1M349.2 309.4h1M335.2 320.0h1M332.9 316.4h1M336.3 314.5h1M335.8 304.2h1M341.6 315.1h1M330.3 321.3h1M333.1 315.8h1M350.6 306.8h1M332.9 322.6h1M336.6 326.0h1M334.7 319.0h1M356.0 304.7h1M347.7 311.1h1M337.8 322.7h1M334.7 321.4h1M334.9 317.3h1M335.5 309.6h1M347.0 321.2h1M342.2 321.0h1M348.1 313.7h1M336.4 327.6h1M330.8 320.9h1M337.6 305.9h1M341.9 313.6h1M345.5 312.8h1M355.4 301.8h1M332.2 301.5h1M334.9 316.0h1M350.5 312.2h1M337.9 325.9h1M331.7 320.0h1M336.1 328.9h1M328.3 313.6h1M337.8 323.0h1M343.8 314.3h1M351.1 318.1h1M352.2 310.2h1M353.0 310.0h1M356.3 314.3h1M344.6 308.7h1M352.6 298.8h1M336.4 308.2h1M337.3 315.9h1M347.8 309.1h1M336.1 312.1h1M348.7 303.9h1M358.4 299.0h1M346.8 307.8h1M343.1 322.9h1M342.8 319.7h1M354.4 312.5h1M334.1 322.9h1M340.1 316.0h1M332.1 310.5h1M339.5 312.0h1M347.0 312.9h1M343.4 320.1h1M343.6 305.9h1M337.6 328.0h1M344.3 298.5h1M340.2 300.7h1M345.0 317.2h1M335.2 316.4h1M347.4 311.0h1M347.5 327.9h1M332.9 321.7h1M348.3 309.8h1M356.3 303.5h1M339.8 318.0h1M349.3 312.3h1M324.4 313.1h1M333.9 310.6h1M339.6 314.6h1M351.1 316.4h1M358.2 316.2h1M345.1 318.6h1M329.3 321.5h1M336.2 312.5h1M335.7 316.0h1M337.7 303.7h1M347.5 309.7h1M342.8 312.8h1M328.8 324.5h1M346.8 313.6h1M339.0 312.0h1M338.5 308.8h1M337.9 316.8h1M336.4 316.7h1M349.6 303.3h1M327.0 326.9h1M338.8 312.9h1M345.0 328.3h1M351.2 298.7h1M348.2 318.7h1M346.1 319.1h1M343.0 311.9h1M346.5 323.4h1M340.8 309.9h1M342.6 307.4h1M342.3 307.6h1M346.3 312.8h1M337.1 329.1h1M344.0 310.7h1M339.8 315.2h1M334.6 317.4h1M340.6 313.5h1M337.6 323.5h1M330.9 304.7h1M359.1 312.1h1M333.1 305.6h1M346.2 298.5h1M341.0 323.8h1M355.8 329.1h1M332.9 317.2h1M331.5 315.7h1M340.4 316.6h1M342.5 310.0h1M352.2 321.9h1M341.0 313.4h1M338.9 314.3h1M338.6 312.2h1M337.3 319.2h1M356.9 328.5h1M349.2 320.9h1M346.2 322.6h1M343.3 298.2h1M334.4 326.1h1M343.3 311.4h1M348.5 319.9h1M353.9 317.9h1M340.4 304.3h1M342.9 316.9h1M352.5 311.4h1M339.1 322.0h1M339.5 304.8h1M340.3 320.7h1M350.9 314.3h1M325.6 315.6h1M338.6 316.4h1M329.2 317.1h1M340.8 314.9h1M349.7 306.2h1M331.2 316.4h1M343.6 320.7h1M341.1 312.6h1M341.9 315.5h1M345.8 308.2h1M352.4 312.4h1M347.0 316.4h1M345.1 312.5h1M334.0 313.9h1M334.3 320.2h1M346.0 312.4h1M339.8 322.2h1M343.1 319.3h1M340.7 303.2h1M320.0 319.0h1M310.5 328.0h1M344.8 307.2h1M329.5 305.5h1M339.2 315.4h1M331.6 321.9h1M351.4 314.1h1M333.2 313.7h1M340.5 312.8h1M339.8 323.0h1M342.6 305.3h1M328.3 316.7h1M341.2 320.4h1M332.7 324.0h1M340.7 314.4h1M344.1 316.4h1M341.1 324.6h1M340.3 299.1h1M343.6 307.8h1M337.7 324.4h1M342.3 318.7h1M336.8 319.4h1M350.6 308.9h1M337.9 324.0h1M344.1 322.2h1M338.3 313.9h1M335.8 301.7h1M331.1 318.4h1M328.9 326.1h1M345.1 290.9h1M350.3 317.7h1M346.3 313.2h1M339.3 312.9h1M341.8 313.9h1M344.1 302.0h1M349.2 314.5h1M341.2 312.6h1M331.5 327.2h1M342.5 311.0h1M331.2 315.7h1M331.6 311.2h1M348.3 318.9h1M339.9 304.2h1M351.0 292.0h1M336.7 313.6h1M338.6 322.7h1M338.2 326.6h1M361.8 299.7h1M339.0 317.4h1M344.4 309.0h1M337.6 315.2h1M355.4 314.9h1M334.2 316.2h1M346.0 312.2h1M324.7 317.6h1M335.8 319.3h1M351.8 322.9h1M343.7 305.8h1M344.6 315.2h1M337.8 314.5h1M350.9 305.8h1M337.0 325.3h1M332.2 307.0h1M361.3 297.5h1M323.2 319.7h1M350.4 318.6h1M346.6 318.3h1M352.3 310.6h1M351.8 303.6h1M339.5 316.9h1M336.3 315.9h1M351.2 312.1h1M330.7 313.2h1M351.7 300.0h1M330.7 326.2h1M345.1 310.6h1M350.5 314.6h1M335.7 322.9h1M347.8 312.5h1M346.1 313.4h1M348.8 311.7h1M355.5 305.2h1M341.4 310.9h1M349.1 315.6h1M346.7 328.2h1M350.3 316.3h1M341.8 314.0h1M334.2 319.1h1M342.0 317.5h1M340.6 318.2h1M317.8 326.2h1M342.5 303.2h1M353.8 318.1h1M346.8 302.5h1M349.0 315.5h1M332.5 322.0h1M335.0 318.9h1M342.1 299.3h1M339.1 322.6h1M357.5 312.2h1M341.0 328.2h1M350.3 312.7h1M354.4 315.1h1M343.3 302.3h1M329.5 318.3h1M347.4 311.1h1M346.8 309.1h1M350.4 310.8h1M333.5 298.6h1M333.0 324.8h1M337.8 319.6h1M331.9 310.2h1M341.0 317.8h1M338.6 314.9h1M342.2 315.5h1M344.8 324.6h1M353.8 319.6h1M355.4 304.2h1M335.0 317.5h1M336.2 316.7h1M356.1 302.3h1M340.8 313.5h1M345.6 306.6h1M348.9 323.4h1M340.0 316.1h1M334.0 324.5h1M352.0 310.3h1M344.8 310.8h1M336.5 328.8h1M350.5 316.8h1M336.8 314.1h1M348.2 315.4h1M342.9 318.2h1M334.2 312.9h1M339.0 320.8h1M359.6 309.2h1M331.4 325.2h1M338.5 320.2h1M341.8 309.7h1M346.1 318.7h1M335.9 315.9h1M343.7 314.0h1M367.5 302.1h1M359.2 307.7h1M325.8 328.3h1M356.4 305.3h1M333.0 325.2h1M348.0 314.9h1M351.1 313.2h1M344.7 321.2h1M331.8 319.3h1M355.4 313.9h1M352.1 302.7h1M340.1 315.4h1M354.9 299.9h1M351.7 305.6h1M337.7 304.7h1M329.3 314.9h1M338.8 311.5h1M337.3 320.1h1M332.5 321.4h1M345.9 311.5h1M338.2 304.2h1M353.2 298.3h1M347.8 323.9h1M348.1 316.8h1M334.7 304.6h1M356.2 316.4h1M336.7 326.3h1M337.5 318.9h1M334.3 315.6h1M338.6 321.8h1M335.4 328.5h1M345.9 320.8h1M339.1 307.6h1M350.0 306.3h1M338.0 319.3h1M340.5 314.8h1M321.6 324.5h1M330.9 327.0h1M355.0 316.0h1M349.1 310.2h1M343.9 322.3h1M333.7 329.0h1M337.4 308.6h1M346.7 315.3h1M356.6 311.1h1M331.8 307.4h1M342.0 322.7h1M338.6 302.7h1M332.8 327.3h1M340.8 315.3h1M332.6 326.7h1M334.8 318.6h1M331.9 311.1h1M348.6 301.0h1M345.1 316.0h1M346.8 314.5h1M361.0 295.6h1M347.3 323.7h1M349.4 318.2h1M342.5 319.1h1M343.5 329.1h1M342.9 315.1h1M342.8 312.3h1M357.2 302.0h1M346.9 302.1h1M353.9 329.6h1M329.9 317.8h1M354.9 310.8h1M338.2 313.2h1M339.5 323.2h1M332.3 314.6h1M346.7 326.3h1M343.4 318.0h1M334.7 321.8h1M349.1 317.0h1M349.3 317.0h1M349.1 297.0h1M342.5 327.1h1M339.2 316.8h1M334.3 320.8h1M335.7 322.9h1M351.0 320.2h1M351.4 317.7h1M347.5 311.4h1M345.1 318.8h1M350.8 297.5h1M343.6 317.7h1M340.8 306.3h1M342.3 309.9h1M330.6 316.7h1M348.7 297.6h1M345.4 315.2h1M336.5 318.3h1M328.5 320.8h1M355.2 311.1h1M338.0 311.2h1M350.1 309.5h1M357.3 299.3h1M340.2 314.8h1M342.2 310.2h1M331.6 304.6h1M344.6 312.4h1M344.2 320.5h1M342.0 311.8h1M341.5 321.0h1M328.6 316.3h1M336.9 326.2h1M350.2 303.3h1M347.9 316.2h1M342.7 315.2h1M335.3 308.2h1M355.1 313.6h1M346.5 301.8h1M342.6 304.1h1M345.2 316.2h1M326.8 326.1h1M345.7 317.7h1M361.5 305.2h1M343.7 326.6h1M347.1 312.3h1M335.1 314.5h1M339.6 314.4h1M345.7 324.2h1M352.8 313.9h1M341.2 314.0h1M336.6 329.7h1M349.5 316.1h1M340.2 309.4h1M328.0 322.6h1M350.5 309.6h1M358.1 304.4h1M330.9 318.6h1M337.2 320.2h1M342.4 309.0h1M348.9 298.9h1M340.2 324.3h1M331.3 309.5h1M358.0 315.0h1M330.6 322.8h1M341.3 314.5h1M338.5 328.0h1M351.9 298.6h1M336.5 327.6h1M339.2 322.8h1M348.4 314.7h1M326.9 323.4h1M336.4 328.9h1M335.6 325.3h1M350.2 305.0h1M339.8 324.5h1M337.6 320.2h1M348.4 303.6h1M345.5 319.2h1M327.6 324.4h1M342.0 305.1h1M348.8 313.1h1M333.7 317.2h1M335.2 310.9h1M344.8 300.8h1M349.0 317.5h1M338.5 308.0h1M343.0 305.5h1M340.7 321.9h1M351.9 309.7h1M326.6 318.9h1M332.1 316.6h1M337.9 316.8h1M353.2 317.8h1M351.9 305.4h1M347.0 306.8h1M343.4 319.8h1M346.3 327.5h1M337.0 325.0h1M326.6 327.3h1M347.2 326.8h1M347.1 312.9h1M331.9 313.4h1M353.4 323.5h1M324.6 320.5h1M349.3 320.5h1M357.2 313.5h1M341.6 314.5h1M336.1 326.2h1M346.6 326.9h1M337.9 313.5h1M350.6 317.2h1M335.6 320.2h1M341.0 306.9h1M337.9 310.9h1M340.9 325.6h1M344.6 328.2h1M349.9 306.0h1M346.2 315.2h1M342.6 312.4h1M346.9 307.8h1M337.2 314.4h1M337.1 311.8h1M340.4 312.5h1M344.6 305.6h1M336.6 325.7h1M345.1 300.0h1M342.2 309.5h1M328.5 309.6h1M345.1 315.2h1M327.1 326.8h1M343.8 314.6h1M346.8 320.4h1M350.0 311.6h1M323.3 317.4h1M336.4 314.0h1M333.5 314.9h1M336.4 324.7h1M336.0 328.7h1M345.2 311.6h1M347.1 307.7h1M338.3 318.1h1M341.1 315.0h1M343.7 323.9h1M347.0 318.0h1M337.2 315.0h1M340.3 306.2h1M325.6 326.9h1M345.3 316.5h1M332.5 317.1h1M345.5 321.2h1M330.8 300.0h1M346.3 321.2h1M353.9 316.5h1M329.3 329.4h1M344.6 311.6h1M351.0 324.2h1M342.2 313.0h1M330.6 312.9h1M347.3 308.0h1M348.1 319.0h1M348.6 319.5h1M339.1 310.7h1M343.3 318.7h1M343.8 296.1h1M338.8 314.5h1M321.1 314.4h1M342.4 316.3h1M352.5 311.3h1M340.9 326.0h1M345.3 319.0h1M343.0 318.2h1M336.9 318.5h1M336.7 305.6h1M348.9 308.7h1M346.4 327.1h1M341.3 314.4h1M333.6 302.9h1M345.6 298.8h1M339.8 315.6h1M356.0 303.7h1M323.9 324.4h1M346.4 305.5h1M353.4 325.6h1M342.1 307.1h1M339.7 326.9h1M337.5 329.2h1M336.0 319.7h1M333.0 317.8h1M337.6 302.1h1M338.5 315.7h1M342.8 312.1h1M347.8 308.4h1M347.6 307.7h1M330.2 313.1h1M356.3 308.5h1M355.3 312.7h1M331.8 316.4h1M349.1 322.6h1M348.0 326.8h1M354.1 309.0h1M347.0 317.2h1M344.1 321.5h1M336.2 321.9h1M352.5 314.5h1M349.7 309.4h1M320.7 322.0h1M342.4 318.1h1M350.7 305.2h1M350.9 309.2h1M337.8 305.0h1M362.7 324.0h1M351.7 316.1h1M345.0 325.9h1M339.5 310.4h1M352.5 312.6h1M333.0 320.5h1M342.5 314.4h1M334.0 322.6h1M348.7 318.3h1M348.3 317.3h1M334.4 319.2h1M332.8 310.4h1M348.3 313.9h1M341.5 317.2h1M333.6 316.7h1M349.0 323.4h1M325.2 314.7h1M344.7 317.5h1M356.3 310.0h1M341.3 316.2h1M351.3 315.0h1M342.8 298.1h1M337.8 315.3h1M333.8 313.4h1M349.0 316.8h1M348.1 321.8h1M333.1 317.8h1M339.2 318.9h1M350.2 317.4h1M346.6 311.4h1M343.8 319.2h1M341.7 314.3h1M335.8 319.0h1M327.1 324.4h1M346.7 322.5h1M330.3 315.8h1M341.9 321.8h1M337.3 311.8h1M339.8 315.2h1M344.9 315.7h1M351.1 319.4h1M346.6 313.5h1M333.5 304.3h1M338.5 326.6h1M332.4 322.5h1M345.7 323.1h1M343.6 317.3h1M343.6 308.8h1M331.0 312.2h1M332.5 314.9h1M337.7 294.6h1M340.2 328.6h1M346.7 304.8h1M336.5 326.6h1M353.4 317.8h1M350.1 316.8h1M350.5 308.5h1M353.8 314.2h1M348.3 313.9h1M337.2 315.5h1M346.1 307.2h1M350.9 308.6h1M349.0 312.4h1M350.1 291.4h1M344.2 325.0h1M345.5 315.8h1M327.3 308.0h1M350.4 321.7h1M343.9 324.7h1M338.1 321.8h1M330.0 317.3h1M337.8 297.1h1M346.6 321.6h1M336.7 321.9h1M364.5 311.7h1M360.7 322.9h1M337.0 309.9h1M336.3 327.9h1M328.2 304.3h1M344.3 312.6h1M340.1 297.7h1M347.4 320.6h1M341.5 319.2h1M348.6 315.1h1M331.0 314.5h1M333.5 315.8h1M350.6 300.2h1M340.4 288.7h1M334.3 302.7h1M333.0 316.7h1M319.2 328.9h1M345.2 301.3h1M342.4 309.7h1M345.7 314.2h1M345.1 319.5h1M338.9 311.1h1M346.4 318.8h1M334.3 312.0h1M332.2 315.4h1M353.0 310.8h1M345.7 318.1h1M348.2 322.7h1M326.3 314.6h1M353.2 314.3h1M340.5 315.8h1M347.0 318.9h1M316.0 313.8h1M330.2 317.8h1M342.0 310.9h1M342.5 317.9h1M331.3 319.5h1M334.8 318.2h1M331.6 313.5h1M342.3 318.3h1M333.4 316.4h1M330.7 307.2h1M357.2 301.6h1M339.1 327.4h1M330.5 320.4h1M363.8 322.8h1M339.1 307.0h1M331.2 316.1h1M350.9 317.6h1M329.6 324.6h1M337.3 324.8h1M342.2 296.9h1M329.2 315.5h1M333.5 311.9h1M336.4 298.1h1M335.0 317.8h1M336.9 311.8h1M341.2 317.0h1M339.8 301.0h1M344.0 310.3h1M339.4 326.3h1M340.7 328.1h1M351.7 307.4h1M324.8 300.4h1M348.6 313.0h1M312.5 307.8h1M352.2 319.1h1M329.8 312.2h1M350.7 304.7h1M360.1 309.1h1M323.4 312.0h1M343.4 326.4h1M305.7 318.9h1M326.4 300.8h1M333.7 303.4h1M342.6 314.7h1M357.4 311.8h1M354.5 313.8h1M337.0 304.5h1M335.2 304.6h1M326.2 321.6h1M337.4 303.3h1M341.2 309.7h1M322.3 309.7h1M327.5 323.9h1M336.9 309.8h1M337.0 307.5h1M340.0 311.1h1M339.5 318.9h1M348.1 302.0h1M328.8 303.3h1M335.2 305.0h1M330.1 313.6h1M351.4 315.1h1M311.9 309.8h1M361.2 304.9h1M339.4 305.2h1M340.6 316.6h1M344.1 309.4h1M334.1 324.4h1M349.5 319.1h1M318.3 316.5h1M331.8 328.4h1M324.3 317.1h1M355.7 312.8h1M327.4 317.0h1M349.7 308.0h1M346.5 316.4h1M331.5 312.5h1M326.5 313.5h1M364.7 305.8h1M356.3 311.0h1M340.9 291.4h1M349.0 299.1h1M351.9 305.0h1M319.9 324.5h1M342.1 299.3h1M343.6 303.8h1M338.4 325.3h1M333.4 328.1h1M349.8 305.9h1M347.7 307.6h1M352.5 316.8h1M333.8 320.5h1M328.6 321.7h1M335.5 320.5h1M335.0 305.9h1M323.0 312.6h1M344.1 302.9h1M321.3 326.5h1M348.8 309.0h1M352.7 297.8h1M334.1 318.7h1M347.1 319.0h1M356.8 313.7h1M341.1 306.9h1M329.4 322.8h1M321.5 326.5h1M333.2 312.2h1M344.6 312.9h1M341.3 306.3h1M342.0 323.0h1M351.4 324.8h1M335.2 305.6h1M337.7 315.1h1M333.0 321.2h1M335.8 309.0h1M324.7 311.4h1M336.6 313.5h1M326.5 320.2h1M361.9 325.6h1M357.5 317.3h1M335.2 319.6h1M366.3 301.5h1M353.0 327.6h1M348.9 304.5h1M354.7 300.7h1M345.4 313.4h1M335.6 329.7h1M324.1 309.3h1M337.9 314.1h1M346.2 314.3h1M333.5 312.3h1M326.5 308.2h1M337.0 315.7h1M370.2 313.6h1M348.0 292.8h1M332.4 323.4h1M341.0 314.1h1M348.0 306.7h1M310.8 320.0h1M324.4 317.7h1M337.7 323.8h1M319.7 318.3h1M330.7 310.8h1M332.5 316.7h1M346.7 301.8h1M332.0 308.4h1M336.8 323.2h1M337.7 317.0h1M338.0 311.6h1M347.7 307.4h1M339.7 319.2h1M347.0 315.8h1M333.7 313.1h1M341.0 317.0h1M312.2 321.4h1M334.3 307.0h1M323.4 315.0h1M356.2 325.6h1M344.2 321.6h1M302.4 306.0h1M294.8 322.2h1M288.2 323.1h1M279.6 324.7h1M279.6 327.3h1M306.4 325.7h1M289.5 310.7h1M296.2 311.6h1M312.5 316.2h1M296.5 313.3h1M297.6 320.0h1M302.7 315.5h1M292.8 306.8h1M302.7 319.4h1M285.9 315.2h1M309.2 327.3h1M286.6 322.4h1M293.9 312.8h1M302.6 320.2h1M284.9 310.4h1M304.4 315.3h1M309.4 318.5h1M296.9 319.4h1M298.3 329.3h1M292.4 314.5h1M301.3 315.0h1M304.1 305.1h1M303.0 320.8h1M296.6 314.7h1M306.6 314.0h1M301.3 311.1h1M299.7 325.2h1M307.6 314.1h1M299.2 318.6h1M291.3 309.7h1M311.2 311.5h1M290.8 323.0h1M301.2 325.4h1M299.4 323.1h1M301.7 311.5h1M299.7 308.0h1M287.0 321.8h1M288.0 317.8h1M302.4 322.7h1M294.1 321.2h1M291.7 319.0h1M299.0 314.0h1M301.7 320.8h1M293.5 308.2h1M303.6 308.0h1M313.4 310.2h1M298.1 322.8h1M311.8 312.2h1M304.4 313.4h1M286.7 324.1h1M296.6 314.2h1M286.7 309.1h1M308.1 314.1h1M296.7 312.4h1M301.5 315.4h1M299.4 308.1h1M304.4 319.0h1M290.1 309.1h1M295.1 315.9h1M296.4 322.8h1M310.3 327.6h1M293.8 321.1h1M289.6 320.7h1M279.3 313.2h1M299.2 327.3h1M295.5 317.7h1M285.8 321.1h1M280.5 321.8h1M291.2 323.0h1M291.1 321.0h1M300.4 318.7h1M288.3 319.1h1M287.5 321.4h1M301.9 318.9h1M296.5 321.3h1M299.2 320.6h1M286.5 318.4h1M291.7 321.0h1M302.9 318.0h1M308.9 312.9h1M305.2 307.5h1M311.8 316.9h1M283.7 312.7h1M312.4 318.6h1M307.5 318.0h1M310.2 314.0h1M296.9 320.0h1M292.1 310.0h1M303.1 316.9h1M306.6 309.1h1M293.7 320.5h1M300.3 322.1h1M295.3 307.2h1M295.7 318.5h1M308.1 327.0h1M281.3 324.7h1M294.5 319.6h1M297.8 317.9h1M289.7 320.4h1M302.6 321.5h1M292.0 315.1h1M293.0 317.2h1M300.9 314.1h1M296.3 318.5h1M296.5 314.5h1M290.1 325.4h1M289.7 314.2h1M287.4 325.5h1M286.9 313.1h1M294.7 326.3h1M306.4 312.8h1M287.9 315.2h1M298.4 310.2h1M291.6 315.0h1M303.9 310.3h1M303.9 310.4h1M298.1 319.4h1M295.2 315.2h1M297.5 313.6h1M296.4 316.0h1M288.7 322.2h1M305.2 320.8h1M299.8 320.5h1M296.9 313.7h1M290.8 317.9h1M289.7 318.9h1M306.5 314.3h1M299.1 323.1h1M299.5 320.8h1M300.4 309.5h1M301.4 317.6h1M289.8 322.1h1M308.8 311.0h1M293.6 313.2h1M313.1 321.6h1M291.5 320.7h1M300.4 313.3h1M293.7 319.8h1M293.3 304.6h1M295.4 316.9h1M297.1 322.9h1M293.6 320.4h1M290.3 313.7h1M299.4 326.3h1M300.7 306.8h1M304.1 316.8h1M289.0 320.1h1M289.2 316.5h1M282.0 326.1h1M294.2 314.1h1M291.6 305.4h1M299.2 310.2h1M304.3 328.8h1M301.7 317.3h1M287.5 325.5h1M285.2 308.9h1M296.6 324.5h1M289.9 314.6h1M314.0 305.3h1M299.7 324.9h1M301.7 318.3h1M302.4 320.2h1M310.7 309.9h1M299.4 318.6h1M299.6 317.8h1M298.4 319.6h1M291.2 310.5h1M305.2 316.5h1M288.5 321.3h1M304.0 316.8h1M292.2 322.6h1M289.4 309.6h1M300.2 320.3h1M291.9 318.9h1M301.1 318.1h1M297.4 316.4h1M306.2 320.0h1M307.2 313.0h1M287.1 322.4h1M297.2 318.1h1M289.9 321.6h1M296.5 317.8h1M297.7 313.3h1M292.9 315.1h1M296.8 317.9h1M290.5 316.8h1M288.3 313.7h1M283.0 315.1h1M307.0 309.3h1M305.4 309.1h1M311.5 304.6h1M298.1 315.4h1M303.3 311.6h1M309.1 305.8h1M281.3 318.9h1M297.0 317.8h1M295.5 319.3h1M295.7 320.1h1M294.9 324.9h1M292.7 320.2h1M291.0 309.1h1M293.1 319.9h1M290.8 316.2h1M290.5 319.1h1M296.5 312.8h1M291.6 319.1h1M288.0 317.7h1M298.5 324.4h1M294.6 317.4h1M314.7 317.0h1M286.1 312.3h1M307.1 311.8h1M291.0 315.3h1M297.9 327.8h1M279.4 322.6h1M307.7 318.1h1M285.1 317.0h1M303.6 312.2h1M294.7 315.9h1M304.6 317.8h1M301.6 327.1h1M301.4 313.5h1M287.4 316.7h1M290.3 314.7h1M294.8 328.1h1M295.2 318.7h1M297.6 328.6h1M299.3 317.1h1M296.3 317.5h1M291.4 311.5h1M300.0 313.5h1M296.0 316.0h1M294.9 312.0h1M285.9 318.5h1M299.7 305.7h1M293.4 314.6h1M291.3 321.6h1M296.5 316.1h1M283.9 314.2h1M303.9 314.8h1M276.7 322.1h1M298.4 312.5h1M305.2 314.0h1M291.9 306.3h1M282.1 321.3h1M284.8 323.4h1M299.4 316.5h1M294.1 319.2h1M287.1 318.7h1M281.9 321.7h1M311.2 302.6h1M289.8 314.7h1M283.8 322.4h1M302.7 314.8h1M307.8 314.5h1M310.6 318.1h1M292.2 313.6h1M297.8 316.7h1M315.6 309.6h1M306.4 308.5h1M293.7 319.3h1M306.7 316.8h1M294.0 323.6h1M307.1 302.6h1M296.0 314.2h1M291.6 320.5h1M297.5 313.2h1M294.1 325.1h1M287.2 313.0h1M308.6 321.7h1M307.1 312.8h1M290.2 313.9h1M304.2 315.1h1M294.4 322.8h1M310.3 317.8h1M299.9 314.4h1M277.1 326.5h1M289.2 325.5h1M282.2 322.5h1M297.3 316.0h1M298.0 317.2h1M297.9 313.5h1M288.7 311.2h1M279.9 327.2h1M292.9 322.6h1M297.7 312.8h1M313.0 316.7h1M291.5 319.7h1M293.4 322.0h1M288.0 315.9h1M287.5 320.3h1M299.3 307.8h1M281.4 319.8h1M298.0 308.3h1M281.7 322.5h1M298.7 321.5h1M289.7 311.4h1M291.5 319.6h1M303.0 311.7h1M295.1 323.7h1M289.2 314.4h1M286.2 316.4h1M281.9 316.9h1M286.2 312.2h1M302.3 327.9h1M300.5 323.0h1M292.8 316.6h1M305.2 319.6h1M294.1 320.0h1M291.3 314.6h1M289.2 321.0h1M303.1 311.9h1M301.8 308.3h1M289.8 313.6h1M297.4 326.7h1M286.0 311.9h1M302.9 317.5h1M301.0 314.7h1M286.1 316.1h1M294.2 321.4h1M296.6 315.9h1M293.0 323.2h1M296.5 318.8h1M291.1 321.8h1M301.4 311.6h1M302.4 314.9h1M305.6 311.4h1M311.6 317.2h1M296.2 313.2h1M292.1 309.8h1M303.9 316.1h1M274.6 316.9h1M287.3 323.1h1M294.6 325.5h1M298.7 319.8h1M294.1 323.0h1M298.5 315.6h1M280.7 325.9h1M288.4 321.5h1M295.4 315.9h1M307.5 311.9h1M297.5 324.0h1M295.1 317.9h1M300.4 321.4h1M296.4 317.1h1M287.9 312.6h1M297.7 314.7h1M298.3 318.9h1M295.9 323.4h1M288.3 323.3h1M284.9 318.6h1M278.0 322.9h1M306.2 313.5h1M286.7 325.8h1M300.1 310.5h1M280.4 322.4h1M298.7 309.4h1M296.6 314.6h1M298.4 314.0h1M291.5 314.3h1M274.1 316.3h1M298.6 321.5h1M292.1 320.9h1M295.0 318.9h1M290.0 323.0h1M292.8 317.0h1M290.3 319.0h1M291.4 317.0h1M290.5 317.1h1M293.1 318.6h1M294.5 322.3h1M287.7 324.6h1M291.3 314.7h1M305.9 321.3h1M294.4 317.7h1M294.3 320.2h1M296.0 311.4h1M301.1 310.3h1M300.5 319.9h1M307.9 312.0h1M294.0 322.0h1M291.4 319.2h1M302.0 316.7h1M287.1 327.8h1M295.3 323.9h1M296.4 318.1h1M300.0 314.8h1M277.6 322.1h1M287.4 308.3h1M287.1 317.9h1M286.0 321.9h1M301.1 318.8h1M294.7 320.8h1M281.6 321.4h1M279.1 318.7h1M294.6 322.4h1M295.0 320.1h1M302.8 315.0h1M302.1 318.5h1M287.0 321.8h1M291.0 320.4h1M294.9 310.4h1M312.1 316.1h1M311.4 316.9h1M291.1 310.8h1M288.3 316.1h1M291.1 320.6h1M300.3 311.2h1M310.5 315.7h1M281.1 327.0h1M314.3 312.9h1M287.8 310.9h1M296.4 309.5h1M292.7 327.6h1M305.9 317.8h1M300.0 317.6h1M316.5 309.5h1M301.5 301.6h1M300.1 327.0h1M294.9 317.6h1M289.3 322.8h1M309.6 318.7h1M290.8 320.3h1M296.9 320.5h1M301.0 314.2h1M286.7 313.9h1M306.5 317.1h1M295.2 314.5h1M291.5 328.0h1M290.7 325.8h1M303.1 317.3h1M286.3 316.6h1M292.9 308.3h1M297.1 319.5h1M301.7 316.6h1M290.2 314.4h1M303.1 318.1h1M299.8 319.1h1M279.4 318.2h1M305.9 311.1h1M301.6 322.8h1M296.8 316.0h1M296.3 315.9h1M301.0 302.8h1M308.9 319.7h1M304.8 313.3h1M284.1 324.7h1M300.2 315.7h1M302.4 320.9h1M304.4 310.2h1M302.7 312.2h1M299.0 322.6h1M295.5 319.9h1M302.9 314.7h1M296.0 313.0h1M295.2 318.6h1M286.3 323.3h1M294.6 313.7h1M290.9 323.3h1M313.7 315.7h1M297.4 328.2h1M292.8 323.2h1M301.6 320.4h1M283.8 321.9h1M300.5 319.8h1M287.7 327.6h1M292.5 313.6h1M301.6 316.5h1M297.2 325.1h1M300.3 311.9h1M292.9 306.3h1M291.9 315.4h1M308.4 320.5h1M297.7 324.3h1M303.0 315.7h1M294.5 309.7h1M294.0 323.4h1M298.9 314.9h1M292.5 320.1h1M294.1 320.0h1M297.9 316.4h1M309.6 307.4h1M290.4 310.8h1M296.7 308.3h1M294.8 324.6h1M299.8 323.4h1M295.2 311.3h1M307.9 314.9h1M298.2 323.1h1M292.8 310.3h1M308.2 316.8h1M293.6 328.3h1M292.2 314.3h1M296.0 323.0h1M295.6 326.2h1M297.7 317.6h1M299.3 306.6h1M296.2 313.8h1M309.7 319.8h1M294.5 311.5h1M281.7 308.0h1M305.0 303.3h1M292.2 315.0h1M290.3 322.2h1M291.7 329.1h1M284.1 307.3h1M298.4 318.9h1M289.7 323.9h1M285.1 319.5h1M291.5 319.3h1M304.4 306.3h1M291.7 316.2h1M295.8 311.6h1M315.3 318.5h1M300.9 321.0h1M292.2 314.9h1M291.5 319.7h1M290.1 308.5h1M313.3 308.8h1M289.3 319.4h1M288.4 320.2h1M286.6 324.2h1M295.4 310.7h1M290.1 314.1h1M297.4 321.6h1M293.6 315.7h1M300.8 311.3h1M293.6 314.8h1M298.5 313.1h1M297.0 315.2h1M289.7 323.8h1M290.0 322.9h1M308.2 315.6h1M293.9 319.1h1M296.4 317.6h1M294.2 317.8h1M294.4 319.3h1M288.2 314.1h1M295.2 317.1h1M287.6 328.5h1M294.5 323.0h1M297.6 321.0h1M298.3 317.6h1M325.8 289.5h1M301.9 304.5h1M321.8 291.1h1M311.8 300.3h1M314.1 298.8h1M299.2 305.2h1M319.3 292.4h1M320.0 293.3h1M313.1 297.0h1M321.4 290.6h1M323.9 291.9h1M317.8 295.1h1M312.9 300.8h1M319.4 293.6h1M312.1 302.0h1M297.9 305.9h1M316.0 295.1h1M314.7 296.0h1M313.6 297.8h1M316.4 297.8h1M305.6 303.8h1M312.9 300.1h1M300.1 306.5h1M317.0 295.1h1M316.3 294.8h1M312.7 298.0h1M322.7 292.4h1M303.9 303.3h1M321.4 292.4h1M310.6 302.4h1M323.9 287.2h1M322.8 291.8h1M302.2 303.2h1M317.0 289.5h1M319.4 291.7h1M317.0 296.9h1M326.2 290.8h1M323.0 292.3h1M312.2 299.6h1M319.7 292.1h1M319.5 293.4h1M325.8 290.4h1M308.4 302.9h1M327.0 291.7h1M315.0 294.9h1M313.7 297.7h1M315.2 296.9h1M307.2 301.5h1M316.6 297.4h1M307.0 304.3h1M312.1 297.6h1M325.6 289.3h1M323.1 293.6h1M325.5 291.2h1M308.1 300.0h1M314.3 299.8h1M318.9 294.6h1M316.4 297.1h1M309.7 300.9h1M300.9 303.9h1M300.6 307.6h1M313.7 299.8h1M324.1 293.7h1M316.7 298.6h1M310.8 302.1h1M326.5 288.3h1M307.8 301.3h1M324.0 291.1h1M323.6 290.4h1M311.9 299.1h1M308.2 300.7h1M308.8 303.4h1M318.2 292.6h1M311.8 299.3h1M322.8 289.9h1M326.8 289.6h1M314.6 295.1h1M315.8 294.8h1M301.9 307.4h1M301.7 307.3h1M317.5 294.4h1M301.4 306.4h1M315.9 296.1h1M305.6 302.7h1M323.2 291.6h1M316.8 292.6h1M309.8 301.6h1M311.7 301.1h1M321.5 286.0h1M305.9 305.4h1M342.4 280.1h1M340.0 277.5h1M337.6 263.4h1M337.7 276.2h1M344.7 287.0h1M349.7 273.5h1M338.4 266.3h1M351.0 281.5h1M337.9 273.6h1M347.0 289.9h1M346.1 293.2h1M346.7 274.2h1M339.3 285.0h1M347.0 290.5h1M341.0 293.5h1M343.1 271.4h1M344.7 274.0h1M343.2 275.2h1M341.5 278.5h1M343.3 268.8h1M348.7 277.0h1M341.6 281.5h1M347.4 274.7h1M340.0 277.4h1M343.2 282.6h1M342.3 275.8h1M349.5 263.8h1M335.5 290.4h1M341.5 281.6h1M351.9 286.8h1M340.8 283.6h1M341.7 290.5h1M351.4 278.9h1M342.7 287.1h1M337.8 276.8h1M349.1 301.0h1M343.8 271.5h1M344.4 275.0h1M344.3 266.7h1M339.7 274.9h1M349.2 274.0h1M342.1 274.4h1M343.2 283.2h1M345.2 290.5h1M349.2 292.6h1M342.9 278.4h1M342.0 277.6h1M342.2 284.6h1M344.3 274.8h1M335.6 265.5h1M348.5 269.7h1M349.0 282.6h1M338.8 268.6h1M347.3 285.5h1M348.7 279.5h1M340.2 273.0h1M343.2 280.5h1M339.9 276.6h1M345.7 271.4h1M347.8 288.3h1M337.6 264.6h1M344.2 264.4h1M345.2 282.7h1M335.7 271.5h1M349.5 276.5h1M344.5 276.7h1M344.9 277.3h1M346.1 269.7h1M343.5 298.3h1M339.8 281.5h1M343.8 276.1h1M344.2 272.3h1M345.3 283.3h1M329.3 278.1h1M344.1 280.7h1M343.6 281.8h1M349.2 272.8h1M339.0 282.0h1M344.5 270.7h1M348.6 278.9h1M362.3 290.2h1M342.2 269.3h1M338.8 282.8h1M351.4 274.5h1M353.1 269.8h1M341.4 270.9h1M347.6 292.7h1M339.9 295.2h1M340.3 277.9h1M346.7 267.9h1M343.6 276.1h1M345.0 269.3h1M344.0 291.0h1M350.4 267.7h1M344.1 278.9h1M343.0 279.7h1M338.1 282.4h1M340.8 282.8h1M341.0 274.5h1M348.2 277.5h1M347.5 276.1h1M349.2 273.3h1M334.6 265.2h1M339.5 269.8h1M337.4 284.0h1M345.2 266.1h1M349.3 268.5h1M348.2 279.6h1M338.2 290.5h1M339.5 267.6h1M346.5 287.5h1M340.5 271.8h1M346.4 269.1h1M341.1 276.9h1M344.2 282.3h1M340.3 278.6h1M345.6 268.6h1M337.7 271.8h1M333.8 290.5h1M342.4 273.2h1M343.7 293.8h1M340.9 280.0h1M346.6 269.6h1M349.7 266.3h1M345.6 269.0h1M341.9 278.0h1M343.2 279.7h1M353.1 275.2h1M342.5 284.7h1M347.8 280.2h1M347.8 290.8h1M348.2 283.4h1M342.9 278.4h1M352.7 280.8h1M350.5 277.6h1M354.7 275.5h1M350.7 288.1h1M351.1 291.1h1M343.8 280.7h1M342.1 296.9h1M349.4 286.0h1M351.3 273.0h1M332.8 277.8h1M346.8 283.7h1M348.4 274.7h1M336.6 283.7h1M341.3 293.5h1M339.3 285.4h1M344.6 274.6h1M341.7 286.6h1M353.0 279.2h1M342.4 278.8h1M351.8 293.4h1M346.7 287.7h1M347.1 279.2h1M336.2 299.5h1M352.4 279.3h1M343.6 290.8h1M343.5 277.1h1M339.9 266.5h1M338.0 275.7h1M337.2 283.4h1M344.9 268.2h1M340.8 272.7h1M348.4 288.6h1M339.8 277.3h1M349.4 285.0h1M342.7 290.4h1M336.7 285.2h1M345.0 272.9h1M339.5 274.8h1M342.4 281.7h1M332.8 287.7h1M346.0 273.3h1M339.2 275.7h1M342.0 272.6h1M349.5 284.3h1M347.0 272.7h1M344.1 274.0h1M348.1 275.2h1M342.7 287.7h1M344.1 291.4h1M349.2 280.9h1M335.9 264.3h1M347.6 277.4h1M342.6 267.8h1M351.3 282.8h1M340.6 271.3h1M340.6 285.6h1M356.5 274.1h1M341.4 275.3h1M348.3 276.6h1M341.3 287.8h1M347.0 276.9h1M342.9 277.5h1M344.1 278.7h1M341.4 296.6h1M343.6 276.7h1M340.2 271.5h1M345.8 280.8h1M336.5 276.1h1M350.8 285.0h1M332.3 263.3h1M342.3 288.7h1M345.3 278.4h1M345.7 269.4h1M339.9 277.9h1M341.3 280.7h1M340.2 265.2h1M350.7 267.8h1M340.6 265.0h1M346.1 282.2h1M349.4 308.5h1M340.0 273.3h1M341.6 276.0h1M340.2 260.5h1M346.2 281.1h1M350.7 289.6h1M344.1 284.1h1M349.1 271.9h1M345.6 273.6h1M344.6 285.3h1M347.0 277.6h1M341.1 280.3h1M350.1 287.6h1M338.5 281.0h1M344.7 285.3h1M344.8 282.1h1M339.3 274.2h1M348.3 276.9h1M335.3 289.9h1M339.4 269.8h1M343.4 275.1h1M348.7 280.6h1M337.7 273.4h1M342.7 278.0h1M339.1 261.4h1M340.6 281.8h1M337.9 280.8h1M332.1 288.0h1M339.7 283.8h1M348.4 306.3h1M334.8 271.4h1M339.1 282.1h1M341.1 266.2h1M344.6 264.5h1M339.2 278.0h1M345.6 272.1h1M347.9 263.6h1M338.1 270.4h1M344.0 288.4h1M333.5 266.5h1M351.6 300.7h1M342.2 271.6h1M338.6 264.8h1M350.6 277.1h1M336.9 278.7h1M335.1 287.3h1M340.7 271.6h1M334.9 285.9h1M342.7 280.0h1M343.2 287.9h1M344.4 280.8h1M334.2 268.0h1M341.4 298.8h1M343.5 278.6h1M353.6 269.8h1M347.8 277.4h1M345.2 283.2h1M346.3 282.4h1M349.5 276.6h1M340.3 273.8h1M355.0 282.1h1M351.2 276.0h1M334.6 281.2h1M339.3 277.2h1M337.8 277.5h1M347.9 272.9h1M343.5 292.6h1M348.8 279.2h1M339.9 289.2h1M341.3 266.1h1M342.6 294.5h1M347.8 289.1h1M349.9 279.8h1M340.9 279.5h1M340.3 271.2h1M345.7 269.5h1M341.1 279.3h1M345.9 274.8h1M344.9 273.8h1M343.1 282.5h1M339.6 270.5h1M338.1 263.6h1M338.5 276.4h1M341.3 281.2h1M301.4 325.1h1M304.1 316.7h1M274.2 306.4h1M303.4 320.4h1M317.4 312.4h1M293.6 322.5h1M299.4 317.2h1M306.5 311.8h1M295.1 317.1h1M306.9 314.8h1M289.3 322.8h1M290.5 306.1h1M296.5 320.6h1M303.0 321.6h1M307.0 315.4h1M294.8 313.2h1M288.5 318.8h1M307.2 325.5h1M300.8 322.9h1M325.5 329.4h1M305.9 320.5h1M306.7 320.1h1M305.2 322.6h1M332.7 310.5h1M289.1 324.4h1M318.5 316.9h1M298.7 316.1h1M301.5 327.7h1M299.2 319.5h1M313.1 325.9h1M292.2 312.2h1M287.4 328.6h1M305.9 319.6h1M275.4 323.9h1M319.7 311.8h1M304.3 323.9h1M289.1 320.2h1M289.5 311.9h1M290.0 329.3h1M286.3 314.5h1M293.3 325.9h1M295.4 324.8h1M291.0 318.9h1M275.0 321.5h1M295.4 323.7h1M321.3 320.3h1M292.2 319.6h1M301.4 324.0h1M303.4 327.2h1M284.4 319.4h1M288.8 314.1h1M318.2 319.1h1M321.4 323.0h1M301.7 319.7h1M278.1 316.0h1M280.8 327.9h1M301.7 324.4h1M303.4 325.1h1M286.8 322.4h1M280.7 323.3h1M291.8 317.2h1M281.6 301.5h1M306.4 288.9h1M312.8 283.2h1M310.4 285.5h1M307.0 283.9h1M300.6 283.4h1M291.5 280.0h1M311.2 286.2h1M301.4 281.8h1" stroke="#111" stroke-width="1" stroke-opacity="0.7" fill="none"/>
<rect x="329.3" y="259.6" width="32" height="36.9" fill="none" stroke="#0c0c0c" stroke-width="1.25"/>
<text x="323.0" y="267.9" text-anchor="end" font-size="9.6">1.0%</text>
</g>
<g id="panelC">
<text class="b" x="0.6" y="400.3" font-size="17.2">C</text>
<text class="b" x="235.3" y="401.3" text-anchor="middle" font-size="10.8">frequency single lines (d14)</text>
<path d="M51.30 402.74V524.20H520.00M47.70 403.24H51.30M47.70 418.36H51.30M47.70 433.48H51.30M47.70 448.60H51.30M47.70 463.72H51.30M47.70 478.84H51.30M47.70 493.96H51.30M47.70 509.08H51.30M47.70 524.20H51.30" stroke="#0a0a0a" stroke-width="1.3" fill="none"/><text x="47.70" y="406.44" text-anchor="end" font-size="7.4">16,000</text><text x="47.70" y="421.56" text-anchor="end" font-size="7.4">14,000</text><text x="47.70" y="436.68" text-anchor="end" font-size="7.4">12,000</text><text x="47.70" y="451.80" text-anchor="end" font-size="7.4">10,000</text><text x="47.70" y="466.92" text-anchor="end" font-size="7.4">8,000</text><text x="47.70" y="482.04" text-anchor="end" font-size="7.4">6,000</text><text x="47.70" y="497.16" text-anchor="end" font-size="7.4">4,000</text><text x="47.70" y="512.28" text-anchor="end" font-size="7.4">2,000</text><text x="47.70" y="527.40" text-anchor="end" font-size="7.4">0</text>
<path d="M80.00 524.20v3.2M138.40 524.20v3.2M196.80 524.20v3.2M255.20 524.20v3.2M313.60 524.20v3.2M372.00 524.20v3.2M430.40 524.20v3.2M488.80 524.20v3.2" stroke="#0a0a0a" stroke-width="1.3" fill="none"/>
<text transform="translate(13.00 494.80) rotate(-90)" font-size="8.65">SFC / 2x10<tspan dy="-4.6">5</tspan><tspan dy="4.6"> cells</tspan></text>
<rect x="53.00" y="521.70" width="7.20" height="3.00" rx="1.8" fill="#0a0a0a"/><rect x="69.00" y="522.50" width="7.20" height="2.20" rx="1.8" fill="#0a0a0a"/><rect x="77.00" y="522.70" width="7.20" height="2.00" rx="1.8" fill="#0a0a0a"/><rect x="85.00" y="522.10" width="7.20" height="2.60" rx="1.8" fill="#0a0a0a"/><rect x="93.00" y="521.10" width="7.20" height="3.60" rx="1.8" fill="#0a0a0a"/><rect x="101.00" y="522.60" width="7.20" height="2.10" rx="1.8" fill="#0a0a0a"/>
<path d="M115.00 498.70V480.30M112.20 480.30h5.6" stroke="#0a0a0a" stroke-width="1.75" fill="none"/><rect x="112.25" y="499.75" width="5.50" height="24.45" fill="#ffffff" stroke="#0a0a0a" stroke-width="2.1"/><path d="M120.50 503.90h5" stroke="#0a0a0a" stroke-width="1.6" fill="none"/><rect x="120.25" y="505.25" width="5.50" height="18.95" fill="url(#p2)" stroke="#0a0a0a" stroke-width="2.1"/><path d="M131.00 482.50V445.30M128.20 445.30h5.6" stroke="#0a0a0a" stroke-width="1.75" fill="none"/><rect x="128.25" y="483.55" width="5.50" height="40.65" fill="#aaaaaa" stroke="#0a0a0a" stroke-width="2.1"/><path d="M139.00 493.20V479.00M136.20 479.00h5.6" stroke="#0a0a0a" stroke-width="1.75" fill="none"/><rect x="136.25" y="494.25" width="5.50" height="29.95" fill="url(#p4)" stroke="#0a0a0a" stroke-width="2.1"/><path d="M147.00 467.50V464.00M144.20 464.00h5.6" stroke="#0a0a0a" stroke-width="1.75" fill="none"/><rect x="144.25" y="468.55" width="5.50" height="55.65" fill="#000000" stroke="#0a0a0a" stroke-width="2.1"/><path d="M155.00 444.20V432.80M152.20 432.80h5.6" stroke="#0a0a0a" stroke-width="1.75" fill="none"/><rect x="152.25" y="445.25" width="5.50" height="78.95" fill="url(#p6)" stroke="#0a0a0a" stroke-width="2.1"/><path d="M163.00 512.00V509.00M160.20 509.00h5.6" stroke="#0a0a0a" stroke-width="1.75" fill="none"/><rect x="160.25" y="513.05" width="5.50" height="11.15" fill="#727272" stroke="#0a0a0a" stroke-width="2.1"/>
<rect x="169.80" y="521.60" width="7.20" height="3.10" rx="1.8" fill="#0a0a0a"/><rect x="177.80" y="521.60" width="7.20" height="3.10" rx="1.8" fill="#0a0a0a"/><rect x="185.80" y="522.60" width="7.20" height="2.10" rx="1.8" fill="#0a0a0a"/><rect x="201.80" y="522.50" width="7.20" height="2.20" rx="1.8" fill="#0a0a0a"/><rect x="209.80" y="522.00" width="7.20" height="2.70" rx="1.8" fill="#0a0a0a"/>
<path d="M229.30 495.20h5" stroke="#0a0a0a" stroke-width="1.6" fill="none"/><rect x="229.05" y="496.55" width="5.50" height="27.65" fill="#ffffff" stroke="#0a0a0a" stroke-width="2.1"/><path d="M237.30 517.20h5" stroke="#0a0a0a" stroke-width="1.6" fill="none"/><rect x="237.05" y="518.55" width="5.50" height="5.65" fill="url(#p2)" stroke="#0a0a0a" stroke-width="2.1"/><path d="M247.80 505.00V493.50M245.00 493.50h5.6" stroke="#0a0a0a" stroke-width="1.75" fill="none"/><rect x="245.05" y="506.05" width="5.50" height="18.15" fill="#aaaaaa" stroke="#0a0a0a" stroke-width="2.1"/><path d="M253.30 508.40h5" stroke="#0a0a0a" stroke-width="1.6" fill="none"/><rect x="253.05" y="509.75" width="5.50" height="14.45" fill="url(#p4)" stroke="#0a0a0a" stroke-width="2.1"/><path d="M263.80 453.70V451.30M261.00 451.30h5.6" stroke="#0a0a0a" stroke-width="1.75" fill="none"/><rect x="261.05" y="454.75" width="5.50" height="69.45" fill="#000000" stroke="#0a0a0a" stroke-width="2.1"/><path d="M271.80 500.00V485.30M269.00 485.30h5.6" stroke="#0a0a0a" stroke-width="1.75" fill="none"/><rect x="269.05" y="501.05" width="5.50" height="23.15" fill="url(#p6)" stroke="#0a0a0a" stroke-width="2.1"/><path d="M277.30 515.20h5" stroke="#0a0a0a" stroke-width="1.6" fill="none"/><rect x="277.05" y="516.55" width="5.50" height="7.65" fill="#727272" stroke="#0a0a0a" stroke-width="2.1"/>
<rect x="286.60" y="522.60" width="7.20" height="2.10" rx="1.8" fill="#0a0a0a"/><rect x="310.60" y="522.70" width="7.20" height="2.00" rx="1.8" fill="#0a0a0a"/><rect x="318.60" y="521.30" width="7.20" height="3.40" rx="1.8" fill="#0a0a0a"/><rect x="326.60" y="522.00" width="7.20" height="2.70" rx="1.8" fill="#0a0a0a"/>
<path d="M348.60 503.70V498.30M345.80 498.30h5.6" stroke="#0a0a0a" stroke-width="1.75" fill="none"/><rect x="345.85" y="504.75" width="5.50" height="19.45" fill="#ffffff" stroke="#0a0a0a" stroke-width="2.1"/><path d="M356.60 508.00V505.30M353.80 505.30h5.6" stroke="#0a0a0a" stroke-width="1.75" fill="none"/><rect x="353.85" y="509.05" width="5.50" height="15.15" fill="url(#p2)" stroke="#0a0a0a" stroke-width="2.1"/><path d="M364.60 506.20V499.00M361.80 499.00h5.6" stroke="#0a0a0a" stroke-width="1.75" fill="none"/><rect x="361.85" y="507.25" width="5.50" height="16.95" fill="#aaaaaa" stroke="#0a0a0a" stroke-width="2.1"/><path d="M372.60 500.00V496.50M369.80 496.50h5.6" stroke="#0a0a0a" stroke-width="1.75" fill="none"/><rect x="369.85" y="501.05" width="5.50" height="23.15" fill="url(#p4)" stroke="#0a0a0a" stroke-width="2.1"/><path d="M380.60 468.20V447.80M377.80 447.80h5.6" stroke="#0a0a0a" stroke-width="1.75" fill="none"/><rect x="377.85" y="469.25" width="5.50" height="54.95" fill="#000000" stroke="#0a0a0a" stroke-width="2.1"/><path d="M388.60 448.70V422.80M385.80 422.80h5.6" stroke="#0a0a0a" stroke-width="1.75" fill="none"/><rect x="385.85" y="449.75" width="5.50" height="74.45" fill="url(#p6)" stroke="#0a0a0a" stroke-width="2.1"/><rect x="393.00" y="522.60" width="7.20" height="2.10" rx="1.8" fill="#0a0a0a"/>
<rect x="419.40" y="522.60" width="7.20" height="2.10" rx="1.8" fill="#0a0a0a"/><rect x="435.40" y="521.50" width="7.20" height="3.20" rx="1.8" fill="#0a0a0a"/><rect x="443.40" y="521.10" width="7.20" height="3.60" rx="1.8" fill="#0a0a0a"/>
<path d="M465.40 503.80V501.10M462.60 501.10h5.6" stroke="#0a0a0a" stroke-width="1.75" fill="none"/><rect x="462.65" y="504.85" width="5.50" height="19.35" fill="#ffffff" stroke="#0a0a0a" stroke-width="2.1"/><path d="M470.90 507.40h5" stroke="#0a0a0a" stroke-width="1.6" fill="none"/><rect x="470.65" y="508.75" width="5.50" height="15.45" fill="url(#p2)" stroke="#0a0a0a" stroke-width="2.1"/><path d="M481.40 502.60V487.30M478.60 487.30h5.6" stroke="#0a0a0a" stroke-width="1.75" fill="none"/><rect x="478.65" y="503.65" width="5.50" height="20.55" fill="#aaaaaa" stroke="#0a0a0a" stroke-width="2.1"/><path d="M489.40 467.80V442.90M486.60 442.90h5.6" stroke="#0a0a0a" stroke-width="1.75" fill="none"/><rect x="486.65" y="468.85" width="5.50" height="55.35" fill="url(#p4)" stroke="#0a0a0a" stroke-width="2.1"/><path d="M494.90 457.70h5" stroke="#0a0a0a" stroke-width="1.6" fill="none"/><rect x="494.65" y="459.05" width="5.50" height="65.15" fill="#000000" stroke="#0a0a0a" stroke-width="2.1"/><path d="M505.40 450.50V431.30M502.60 431.30h5.6" stroke="#0a0a0a" stroke-width="1.75" fill="none"/><rect x="502.65" y="451.55" width="5.50" height="72.65" fill="url(#p6)" stroke="#0a0a0a" stroke-width="2.1"/><path d="M510.90 490.10h5" stroke="#0a0a0a" stroke-width="1.6" fill="none"/><rect x="510.65" y="491.45" width="5.50" height="32.75" fill="#727272" stroke="#0a0a0a" stroke-width="2.1"/>
<rect x="415.55" y="402.15" width="8.70" height="7.10" fill="#ffffff" stroke="#0a0a0a" stroke-width="2.5"/><text x="430.70" y="409.20" font-size="10.2">donor 1</text><rect x="415.55" y="413.55" width="8.70" height="7.10" fill="#1c1c1c" stroke="#0a0a0a" stroke-width="2.5"/><text x="430.70" y="420.60" font-size="10.2">donor 2</text><rect x="415.55" y="424.95" width="8.70" height="7.10" fill="#aaaaaa" stroke="#0a0a0a" stroke-width="2.5"/><text x="430.70" y="432.00" font-size="10.2">donor 3</text><rect x="415.55" y="436.35" width="8.70" height="7.10" fill="url(#p4)" stroke="#0a0a0a" stroke-width="2.5"/><text x="430.70" y="443.40" font-size="10.2">donor 4</text><rect x="415.55" y="447.75" width="8.70" height="7.10" fill="#000000" stroke="#0a0a0a" stroke-width="2.5"/><text x="430.70" y="454.80" font-size="10.2">donor 5</text><rect x="415.55" y="459.15" width="8.70" height="7.10" fill="#1a1a1a" stroke="#0a0a0a" stroke-width="2.5"/><text x="430.70" y="466.20" font-size="10.2">donor 6</text><rect x="415.55" y="470.55" width="8.70" height="7.10" fill="#777777" stroke="#0a0a0a" stroke-width="2.5"/><text x="430.70" y="477.60" font-size="10.2">donor 7</text>
<text transform="translate(80.30 540.05) rotate(-43.8)" text-anchor="end" font-size="10.55">AdV control</text>
<text transform="translate(139.95 537.90) rotate(-43.8)" text-anchor="end" font-size="10.55">AdV hexon</text>
<text transform="translate(197.30 539.50) rotate(-43.8)" text-anchor="end" font-size="10.55">EBV control</text>
<text transform="translate(258.10 536.70) rotate(-43.8)" text-anchor="end" font-size="10.55">EBV LMP2</text>
<text transform="translate(310.75 542.35) rotate(-43.8)" text-anchor="end" font-size="10.55">A. fumigatus control</text>
<text transform="translate(371.15 539.75) rotate(-43.8)" text-anchor="end" font-size="10.55">A. fumigatus p41</text>
<text transform="translate(428.45 541.25) rotate(-43.8)" text-anchor="end" font-size="10.55">C. albicans control</text>
<text transform="translate(489.05 538.25) rotate(-43.8)" text-anchor="end" font-size="10.55">C. albicans MP65</text>
</g>
<g id="panelD">
<text class="b" x="0.6" y="628.0" font-size="17.2">D</text>
<text class="b" x="234.0" y="627.6" text-anchor="middle" font-size="10.85">frequency multi-specific line (d14)</text>
<path d="M51.30 638.30V763.80H368.30M47.70 638.80H51.30M47.70 663.80H51.30M47.70 688.80H51.30M47.70 713.80H51.30M47.70 738.80H51.30M47.70 763.80H51.30" stroke="#0a0a0a" stroke-width="1.3" fill="none"/><text x="47.70" y="642.00" text-anchor="end" font-size="7.4">10,000</text><text x="47.70" y="667.00" text-anchor="end" font-size="7.4">8,000</text><text x="47.70" y="692.00" text-anchor="end" font-size="7.4">6,000</text><text x="47.70" y="717.00" text-anchor="end" font-size="7.4">4,000</text><text x="47.70" y="742.00" text-anchor="end" font-size="7.4">2,000</text><text x="47.70" y="767.00" text-anchor="end" font-size="7.4">0</text>
<path d="M83.00 763.80v3.2M145.70 763.80v3.2M208.40 763.80v3.2M271.10 763.80v3.2M333.80 763.80v3.2" stroke="#0a0a0a" stroke-width="1.3" fill="none"/>
<text transform="translate(10.30 728.40) rotate(-90)" font-size="8.65">SFC / 2x10<tspan dy="-4.6">5</tspan><tspan dy="4.6"> cells</tspan></text>
<rect x="55.85" y="761.50" width="7.20" height="2.80" rx="1.8" fill="#0a0a0a"/><rect x="63.70" y="761.10" width="7.20" height="3.20" rx="1.8" fill="#0a0a0a"/><rect x="71.55" y="761.50" width="7.20" height="2.80" rx="1.8" fill="#0a0a0a"/><path d="M83.00 759.50V758.70M80.20 758.70h5.6" stroke="#0a0a0a" stroke-width="1.75" fill="none"/><rect x="80.25" y="760.55" width="5.50" height="3.25" fill="url(#p4)" stroke="#0a0a0a" stroke-width="2.1"/><rect x="87.25" y="761.90" width="7.20" height="2.40" rx="1.8" fill="#0a0a0a"/><path d="M98.70 756.20V753.50M95.90 753.50h5.6" stroke="#0a0a0a" stroke-width="1.75" fill="none"/><rect x="95.95" y="757.25" width="5.50" height="6.55" fill="url(#p6)" stroke="#0a0a0a" stroke-width="2.1"/>
<path d="M122.15 728.00V712.80M119.35 712.80h5.6" stroke="#0a0a0a" stroke-width="1.75" fill="none"/><rect x="119.40" y="729.05" width="5.50" height="34.75" fill="#ffffff" stroke="#0a0a0a" stroke-width="2.1"/><path d="M127.50 734.70h5" stroke="#0a0a0a" stroke-width="1.6" fill="none"/><rect x="127.25" y="736.05" width="5.50" height="27.75" fill="url(#p2)" stroke="#0a0a0a" stroke-width="2.1"/><path d="M137.85 722.50V710.30M135.05 710.30h5.6" stroke="#0a0a0a" stroke-width="1.75" fill="none"/><rect x="135.10" y="723.55" width="5.50" height="40.25" fill="#aaaaaa" stroke="#0a0a0a" stroke-width="2.1"/><path d="M145.70 740.50V735.30M142.90 735.30h5.6" stroke="#0a0a0a" stroke-width="1.75" fill="none"/><rect x="142.95" y="741.55" width="5.50" height="22.25" fill="url(#p4)" stroke="#0a0a0a" stroke-width="2.1"/><path d="M153.55 683.00V672.30M150.75 672.30h5.6" stroke="#0a0a0a" stroke-width="1.75" fill="none"/><rect x="150.80" y="684.05" width="5.50" height="79.75" fill="#000000" stroke="#0a0a0a" stroke-width="2.1"/><path d="M161.40 678.00V659.80M158.60 659.80h5.6" stroke="#0a0a0a" stroke-width="1.75" fill="none"/><rect x="158.65" y="679.05" width="5.50" height="84.75" fill="url(#p6)" stroke="#0a0a0a" stroke-width="2.1"/><path d="M169.25 736.70V735.30M166.45 735.30h5.6" stroke="#0a0a0a" stroke-width="1.75" fill="none"/><rect x="166.50" y="737.75" width="5.50" height="26.05" fill="#727272" stroke="#0a0a0a" stroke-width="2.1"/>
<path d="M184.85 743.00V737.30M182.05 737.30h5.6" stroke="#0a0a0a" stroke-width="1.75" fill="none"/><rect x="182.10" y="744.05" width="5.50" height="19.75" fill="#ffffff" stroke="#0a0a0a" stroke-width="2.1"/><path d="M192.70 758.70V757.60M189.90 757.60h5.6" stroke="#0a0a0a" stroke-width="1.75" fill="none"/><rect x="189.95" y="759.75" width="5.50" height="4.05" fill="url(#p2)" stroke="#0a0a0a" stroke-width="2.1"/><path d="M200.55 758.00V753.30M197.75 753.30h5.6" stroke="#0a0a0a" stroke-width="1.75" fill="none"/><rect x="197.80" y="759.05" width="5.50" height="4.75" fill="#aaaaaa" stroke="#0a0a0a" stroke-width="2.1"/><path d="M208.40 735.50V731.50M205.60 731.50h5.6" stroke="#0a0a0a" stroke-width="1.75" fill="none"/><rect x="205.65" y="736.55" width="5.50" height="27.25" fill="url(#p4)" stroke="#0a0a0a" stroke-width="2.1"/><path d="M216.25 715.50V712.30M213.45 712.30h5.6" stroke="#0a0a0a" stroke-width="1.75" fill="none"/><rect x="213.50" y="716.55" width="5.50" height="47.25" fill="#000000" stroke="#0a0a0a" stroke-width="2.1"/><path d="M224.10 743.00V733.30M221.30 733.30h5.6" stroke="#0a0a0a" stroke-width="1.75" fill="none"/><rect x="221.35" y="744.05" width="5.50" height="19.75" fill="url(#p6)" stroke="#0a0a0a" stroke-width="2.1"/><path d="M229.45 748.20h5" stroke="#0a0a0a" stroke-width="1.6" fill="none"/><rect x="229.20" y="749.55" width="5.50" height="14.25" fill="#727272" stroke="#0a0a0a" stroke-width="2.1"/>
<path d="M247.55 758.00V754.80M244.75 754.80h5.6" stroke="#0a0a0a" stroke-width="1.75" fill="none"/><rect x="244.80" y="759.05" width="5.50" height="4.75" fill="#ffffff" stroke="#0a0a0a" stroke-width="2.1"/><path d="M255.40 757.50V754.00M252.60 754.00h5.6" stroke="#0a0a0a" stroke-width="1.75" fill="none"/><rect x="252.65" y="758.55" width="5.50" height="5.25" fill="url(#p2)" stroke="#0a0a0a" stroke-width="2.1"/><path d="M263.25 757.00V752.80M260.45 752.80h5.6" stroke="#0a0a0a" stroke-width="1.75" fill="none"/><rect x="260.50" y="758.05" width="5.50" height="5.75" fill="#aaaaaa" stroke="#0a0a0a" stroke-width="2.1"/><path d="M271.10 753.70V752.70M268.30 752.70h5.6" stroke="#0a0a0a" stroke-width="1.75" fill="none"/><rect x="268.35" y="754.75" width="5.50" height="9.05" fill="url(#p4)" stroke="#0a0a0a" stroke-width="2.1"/><path d="M278.95 732.00V719.50M276.15 719.50h5.6" stroke="#0a0a0a" stroke-width="1.75" fill="none"/><rect x="276.20" y="733.05" width="5.50" height="30.75" fill="#000000" stroke="#0a0a0a" stroke-width="2.1"/><path d="M286.80 736.20V722.30M284.00 722.30h5.6" stroke="#0a0a0a" stroke-width="1.75" fill="none"/><rect x="284.05" y="737.25" width="5.50" height="26.55" fill="url(#p6)" stroke="#0a0a0a" stroke-width="2.1"/><rect x="291.05" y="762.10" width="7.20" height="2.20" rx="1.8" fill="#0a0a0a"/>
<path d="M310.25 722.50V680.80M307.45 680.80h5.6" stroke="#0a0a0a" stroke-width="1.75" fill="none"/><rect x="307.50" y="723.55" width="5.50" height="40.25" fill="#ffffff" stroke="#0a0a0a" stroke-width="2.1"/><path d="M315.60 733.40h5" stroke="#0a0a0a" stroke-width="1.6" fill="none"/><rect x="315.35" y="734.75" width="5.50" height="29.05" fill="url(#p2)" stroke="#0a0a0a" stroke-width="2.1"/><path d="M325.95 698.70V685.30M323.15 685.30h5.6" stroke="#0a0a0a" stroke-width="1.75" fill="none"/><rect x="323.20" y="699.75" width="5.50" height="64.05" fill="#aaaaaa" stroke="#0a0a0a" stroke-width="2.1"/><path d="M333.80 731.20V729.00M331.00 729.00h5.6" stroke="#0a0a0a" stroke-width="1.75" fill="none"/><rect x="331.05" y="732.25" width="5.50" height="31.55" fill="url(#p4)" stroke="#0a0a0a" stroke-width="2.1"/><path d="M341.65 683.70V675.30M338.85 675.30h5.6" stroke="#0a0a0a" stroke-width="1.75" fill="none"/><rect x="338.90" y="684.75" width="5.50" height="79.05" fill="#000000" stroke="#0a0a0a" stroke-width="2.1"/><path d="M349.50 676.20V665.30M346.70 665.30h5.6" stroke="#0a0a0a" stroke-width="1.75" fill="none"/><rect x="346.75" y="677.25" width="5.50" height="86.55" fill="url(#p6)" stroke="#0a0a0a" stroke-width="2.1"/><path d="M357.35 742.50V734.80M354.55 734.80h5.6" stroke="#0a0a0a" stroke-width="1.75" fill="none"/><rect x="354.60" y="743.55" width="5.50" height="20.25" fill="#727272" stroke="#0a0a0a" stroke-width="2.1"/>
<rect x="68.75" y="633.65" width="9.50" height="7.10" fill="#ffffff" stroke="#0a0a0a" stroke-width="2.5"/><text x="85.00" y="640.70" font-size="10.2">donor 1</text><rect x="68.75" y="644.65" width="9.50" height="7.10" fill="#1c1c1c" stroke="#0a0a0a" stroke-width="2.5"/><text x="85.00" y="651.70" font-size="10.2">donor 2</text><rect x="68.75" y="655.65" width="9.50" height="7.10" fill="#aaaaaa" stroke="#0a0a0a" stroke-width="2.5"/><text x="85.00" y="662.70" font-size="10.2">donor 3</text><rect x="68.75" y="666.65" width="9.50" height="7.10" fill="url(#p4)" stroke="#0a0a0a" stroke-width="2.5"/><text x="85.00" y="673.70" font-size="10.2">donor 4</text><rect x="68.75" y="677.65" width="9.50" height="7.10" fill="#000000" stroke="#0a0a0a" stroke-width="2.5"/><text x="85.00" y="684.70" font-size="10.2">donor 5</text><rect x="68.75" y="688.65" width="9.50" height="7.10" fill="#1a1a1a" stroke="#0a0a0a" stroke-width="2.5"/><text x="85.00" y="695.70" font-size="10.2">donor 6</text><rect x="68.75" y="699.65" width="9.50" height="7.10" fill="#777777" stroke="#0a0a0a" stroke-width="2.5"/><text x="85.00" y="706.70" font-size="10.2">donor 7</text>
<text transform="translate(82.30 778.40) rotate(-43.8)" text-anchor="end" font-size="10.55">control</text>
<text transform="translate(145.80 776.50) rotate(-43.8)" text-anchor="end" font-size="10.55">AdV hexon</text>
<text transform="translate(210.65 776.70) rotate(-43.8)" text-anchor="end" font-size="10.55">EBV LMP2</text>
<text transform="translate(269.30 780.70) rotate(-43.8)" text-anchor="end" font-size="10.55">A. fumigatus p41</text>
<text transform="translate(334.50 779.00) rotate(-43.8)" text-anchor="end" font-size="10.55">C. albicans MP65</text>
</g>
</svg></body></html>
